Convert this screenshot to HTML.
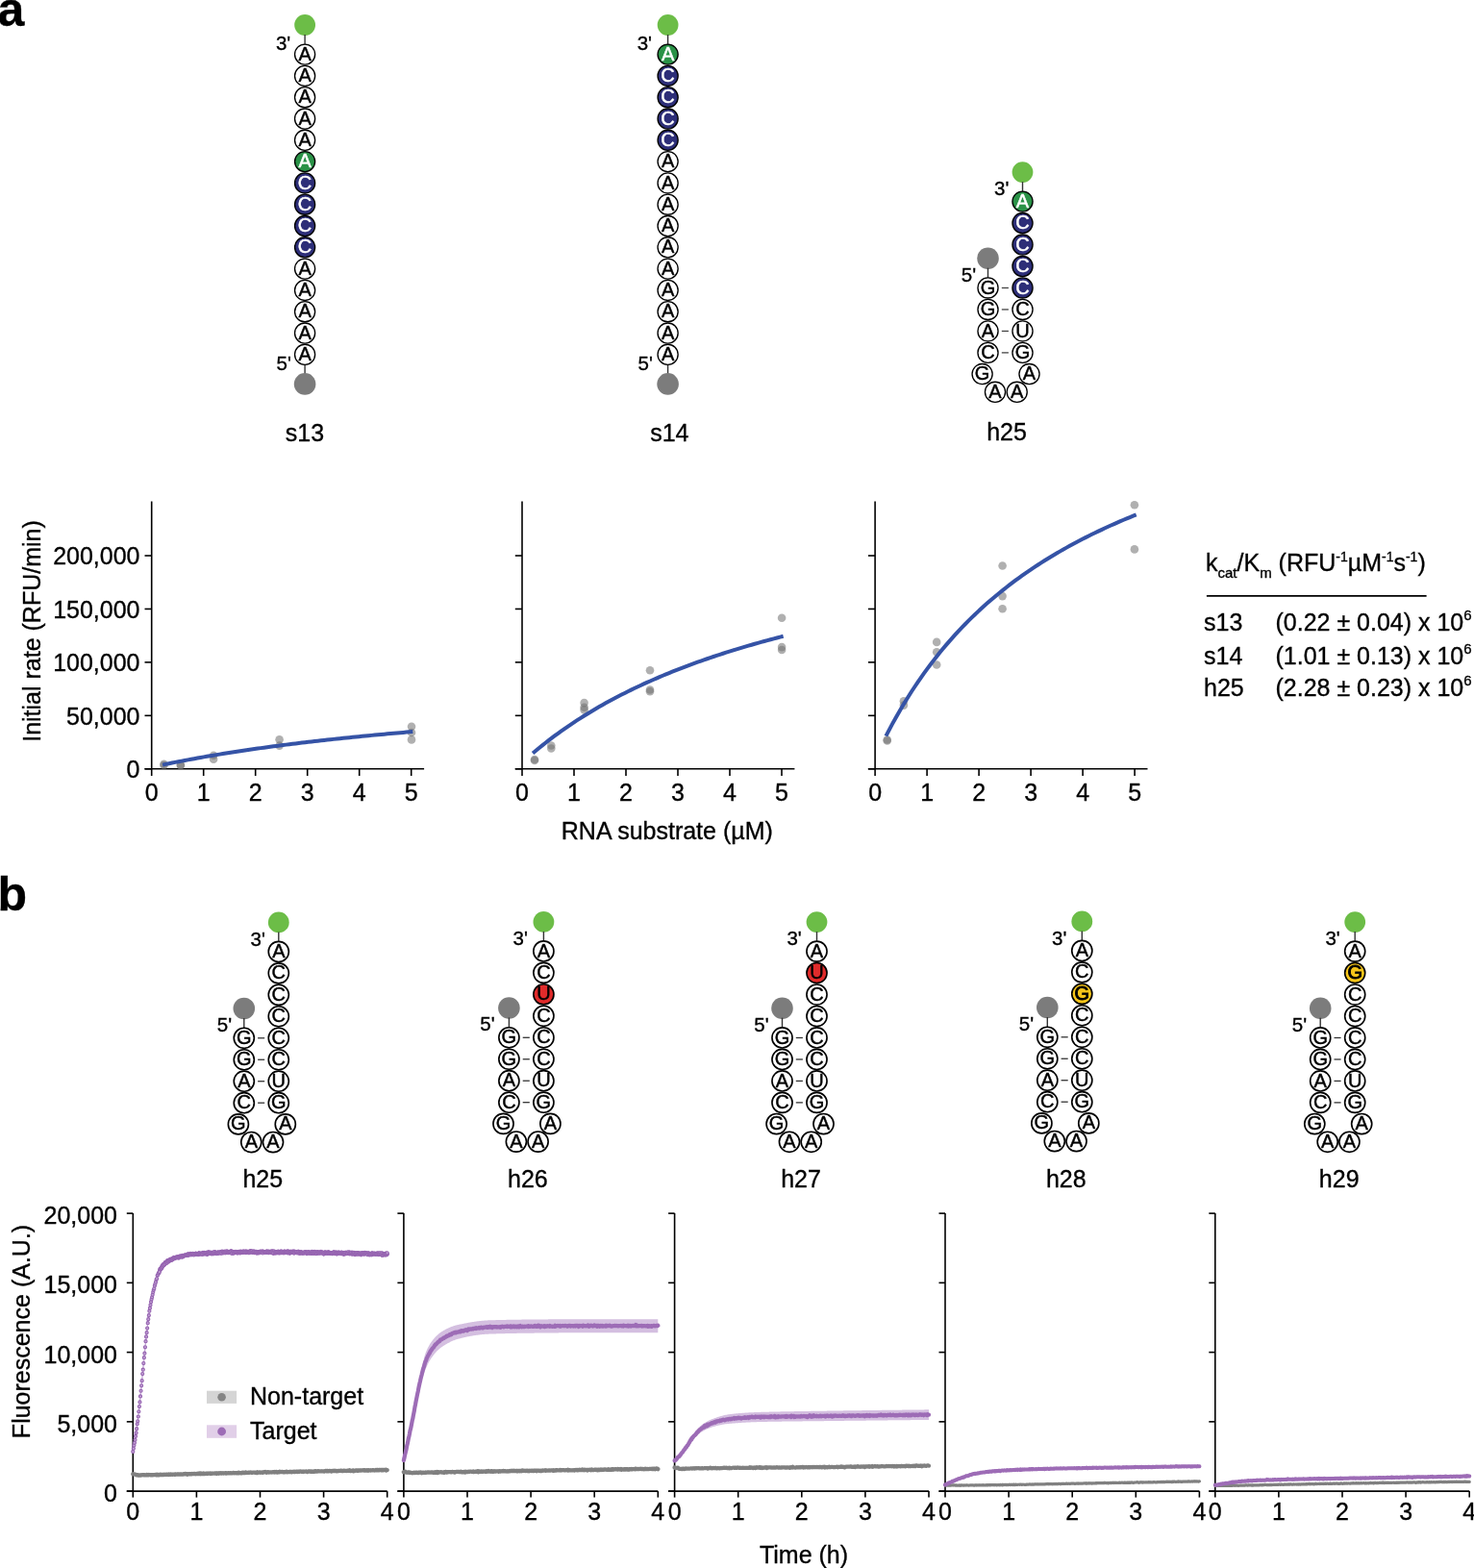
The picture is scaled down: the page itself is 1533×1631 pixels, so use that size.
<!DOCTYPE html>
<html><head><meta charset="utf-8"><title>Figure</title>
<style>
html,body{margin:0;padding:0;background:#fff;}
body{width:1533px;height:1631px;overflow:hidden;}
svg{display:block;}
text{font-family:'Liberation Sans', Arial, Helvetica, sans-serif;fill:#000;stroke:#000;stroke-width:0.35px;}
</style></head><body>
<svg width="1533" height="1631" viewBox="0 0 1533 1631">
<rect width="1533" height="1631" fill="#fff"/>
<circle cx="317.1" cy="26" r="10.9" fill="#6cbd47"/>
<line x1="317.1" y1="36" x2="317.1" y2="46.6" stroke="#333" stroke-width="1.4"/>
<line x1="317.1" y1="378.8" x2="317.1" y2="389.4" stroke="#333" stroke-width="1.4"/>
<circle cx="317.1" cy="399.4" r="11.3" fill="#7c7c7c"/>
<circle cx="317.1" cy="56.6" r="10.55" fill="#fff" stroke="#000" stroke-width="1.35"/>
<text x="317.1" y="62.7" font-size="20.0" text-anchor="middle" style="fill:#000;stroke:#000;stroke-width:0.45px" font-weight="normal">A</text>
<circle cx="317.1" cy="78.9" r="10.55" fill="#fff" stroke="#000" stroke-width="1.35"/>
<text x="317.1" y="85" font-size="20.0" text-anchor="middle" style="fill:#000;stroke:#000;stroke-width:0.45px" font-weight="normal">A</text>
<circle cx="317.1" cy="101.2" r="10.55" fill="#fff" stroke="#000" stroke-width="1.35"/>
<text x="317.1" y="107.3" font-size="20.0" text-anchor="middle" style="fill:#000;stroke:#000;stroke-width:0.45px" font-weight="normal">A</text>
<circle cx="317.1" cy="123.5" r="10.55" fill="#fff" stroke="#000" stroke-width="1.35"/>
<text x="317.1" y="129.6" font-size="20.0" text-anchor="middle" style="fill:#000;stroke:#000;stroke-width:0.45px" font-weight="normal">A</text>
<circle cx="317.1" cy="145.8" r="10.55" fill="#fff" stroke="#000" stroke-width="1.35"/>
<text x="317.1" y="151.9" font-size="20.0" text-anchor="middle" style="fill:#000;stroke:#000;stroke-width:0.45px" font-weight="normal">A</text>
<circle cx="317.1" cy="168.1" r="10.55" fill="#2a9247" stroke="#000" stroke-width="1.35"/>
<text x="317.1" y="174.2" font-size="20.0" text-anchor="middle" style="fill:#fff;stroke:#fff;stroke-width:0.45px" font-weight="normal">A</text>
<circle cx="317.1" cy="190.4" r="10.55" fill="#2d2e78" stroke="#000" stroke-width="1.35"/>
<text x="317.1" y="196.5" font-size="20.0" text-anchor="middle" style="fill:#fff;stroke:#fff;stroke-width:0.45px" font-weight="normal">C</text>
<circle cx="317.1" cy="212.7" r="10.55" fill="#2d2e78" stroke="#000" stroke-width="1.35"/>
<text x="317.1" y="218.8" font-size="20.0" text-anchor="middle" style="fill:#fff;stroke:#fff;stroke-width:0.45px" font-weight="normal">C</text>
<circle cx="317.1" cy="235" r="10.55" fill="#2d2e78" stroke="#000" stroke-width="1.35"/>
<text x="317.1" y="241.1" font-size="20.0" text-anchor="middle" style="fill:#fff;stroke:#fff;stroke-width:0.45px" font-weight="normal">C</text>
<circle cx="317.1" cy="257.3" r="10.55" fill="#2d2e78" stroke="#000" stroke-width="1.35"/>
<text x="317.1" y="263.4" font-size="20.0" text-anchor="middle" style="fill:#fff;stroke:#fff;stroke-width:0.45px" font-weight="normal">C</text>
<circle cx="317.1" cy="279.6" r="10.55" fill="#fff" stroke="#000" stroke-width="1.35"/>
<text x="317.1" y="285.7" font-size="20.0" text-anchor="middle" style="fill:#000;stroke:#000;stroke-width:0.45px" font-weight="normal">A</text>
<circle cx="317.1" cy="301.9" r="10.55" fill="#fff" stroke="#000" stroke-width="1.35"/>
<text x="317.1" y="308" font-size="20.0" text-anchor="middle" style="fill:#000;stroke:#000;stroke-width:0.45px" font-weight="normal">A</text>
<circle cx="317.1" cy="324.2" r="10.55" fill="#fff" stroke="#000" stroke-width="1.35"/>
<text x="317.1" y="330.3" font-size="20.0" text-anchor="middle" style="fill:#000;stroke:#000;stroke-width:0.45px" font-weight="normal">A</text>
<circle cx="317.1" cy="346.5" r="10.55" fill="#fff" stroke="#000" stroke-width="1.35"/>
<text x="317.1" y="352.6" font-size="20.0" text-anchor="middle" style="fill:#000;stroke:#000;stroke-width:0.45px" font-weight="normal">A</text>
<circle cx="317.1" cy="368.8" r="10.55" fill="#fff" stroke="#000" stroke-width="1.35"/>
<text x="317.1" y="374.9" font-size="20.0" text-anchor="middle" style="fill:#000;stroke:#000;stroke-width:0.45px" font-weight="normal">A</text>
<text x="302.3" y="51.9" font-size="20.5" text-anchor="end">3'</text>
<text x="302.9" y="385.3" font-size="20.5" text-anchor="end">5'</text>
<circle cx="694.6" cy="26" r="10.9" fill="#6cbd47"/>
<line x1="694.6" y1="36" x2="694.6" y2="46.6" stroke="#333" stroke-width="1.4"/>
<line x1="694.6" y1="378.8" x2="694.6" y2="389.4" stroke="#333" stroke-width="1.4"/>
<circle cx="694.6" cy="399.4" r="11.3" fill="#7c7c7c"/>
<circle cx="694.6" cy="56.6" r="10.55" fill="#2a9247" stroke="#000" stroke-width="1.35"/>
<text x="694.6" y="62.7" font-size="20.0" text-anchor="middle" style="fill:#fff;stroke:#fff;stroke-width:0.45px" font-weight="normal">A</text>
<circle cx="694.6" cy="78.9" r="10.55" fill="#2d2e78" stroke="#000" stroke-width="1.35"/>
<text x="694.6" y="85" font-size="20.0" text-anchor="middle" style="fill:#fff;stroke:#fff;stroke-width:0.45px" font-weight="normal">C</text>
<circle cx="694.6" cy="101.2" r="10.55" fill="#2d2e78" stroke="#000" stroke-width="1.35"/>
<text x="694.6" y="107.3" font-size="20.0" text-anchor="middle" style="fill:#fff;stroke:#fff;stroke-width:0.45px" font-weight="normal">C</text>
<circle cx="694.6" cy="123.5" r="10.55" fill="#2d2e78" stroke="#000" stroke-width="1.35"/>
<text x="694.6" y="129.6" font-size="20.0" text-anchor="middle" style="fill:#fff;stroke:#fff;stroke-width:0.45px" font-weight="normal">C</text>
<circle cx="694.6" cy="145.8" r="10.55" fill="#2d2e78" stroke="#000" stroke-width="1.35"/>
<text x="694.6" y="151.9" font-size="20.0" text-anchor="middle" style="fill:#fff;stroke:#fff;stroke-width:0.45px" font-weight="normal">C</text>
<circle cx="694.6" cy="168.1" r="10.55" fill="#fff" stroke="#000" stroke-width="1.35"/>
<text x="694.6" y="174.2" font-size="20.0" text-anchor="middle" style="fill:#000;stroke:#000;stroke-width:0.45px" font-weight="normal">A</text>
<circle cx="694.6" cy="190.4" r="10.55" fill="#fff" stroke="#000" stroke-width="1.35"/>
<text x="694.6" y="196.5" font-size="20.0" text-anchor="middle" style="fill:#000;stroke:#000;stroke-width:0.45px" font-weight="normal">A</text>
<circle cx="694.6" cy="212.7" r="10.55" fill="#fff" stroke="#000" stroke-width="1.35"/>
<text x="694.6" y="218.8" font-size="20.0" text-anchor="middle" style="fill:#000;stroke:#000;stroke-width:0.45px" font-weight="normal">A</text>
<circle cx="694.6" cy="235" r="10.55" fill="#fff" stroke="#000" stroke-width="1.35"/>
<text x="694.6" y="241.1" font-size="20.0" text-anchor="middle" style="fill:#000;stroke:#000;stroke-width:0.45px" font-weight="normal">A</text>
<circle cx="694.6" cy="257.3" r="10.55" fill="#fff" stroke="#000" stroke-width="1.35"/>
<text x="694.6" y="263.4" font-size="20.0" text-anchor="middle" style="fill:#000;stroke:#000;stroke-width:0.45px" font-weight="normal">A</text>
<circle cx="694.6" cy="279.6" r="10.55" fill="#fff" stroke="#000" stroke-width="1.35"/>
<text x="694.6" y="285.7" font-size="20.0" text-anchor="middle" style="fill:#000;stroke:#000;stroke-width:0.45px" font-weight="normal">A</text>
<circle cx="694.6" cy="301.9" r="10.55" fill="#fff" stroke="#000" stroke-width="1.35"/>
<text x="694.6" y="308" font-size="20.0" text-anchor="middle" style="fill:#000;stroke:#000;stroke-width:0.45px" font-weight="normal">A</text>
<circle cx="694.6" cy="324.2" r="10.55" fill="#fff" stroke="#000" stroke-width="1.35"/>
<text x="694.6" y="330.3" font-size="20.0" text-anchor="middle" style="fill:#000;stroke:#000;stroke-width:0.45px" font-weight="normal">A</text>
<circle cx="694.6" cy="346.5" r="10.55" fill="#fff" stroke="#000" stroke-width="1.35"/>
<text x="694.6" y="352.6" font-size="20.0" text-anchor="middle" style="fill:#000;stroke:#000;stroke-width:0.45px" font-weight="normal">A</text>
<circle cx="694.6" cy="368.8" r="10.55" fill="#fff" stroke="#000" stroke-width="1.35"/>
<text x="694.6" y="374.9" font-size="20.0" text-anchor="middle" style="fill:#000;stroke:#000;stroke-width:0.45px" font-weight="normal">A</text>
<text x="678" y="52.1" font-size="20.5" text-anchor="end">3'</text>
<text x="678.9" y="385.3" font-size="20.5" text-anchor="end">5'</text>
<circle cx="1063.5" cy="179.1" r="10.9" fill="#6cbd47"/>
<line x1="1063.5" y1="189.1" x2="1063.5" y2="199.6" stroke="#333" stroke-width="1.4"/>
<circle cx="1027.5" cy="268.68" r="11.3" fill="#7c7c7c"/>
<line x1="1027.5" y1="278.68" x2="1027.5" y2="289.48" stroke="#333" stroke-width="1.4"/>
<line x1="1041.8" y1="299.48" x2="1048.9" y2="299.48" stroke="#444" stroke-width="1.3"/>
<line x1="1041.8" y1="321.95" x2="1048.9" y2="321.95" stroke="#444" stroke-width="1.3"/>
<line x1="1041.8" y1="344.42" x2="1048.9" y2="344.42" stroke="#444" stroke-width="1.3"/>
<line x1="1041.8" y1="366.89" x2="1048.9" y2="366.89" stroke="#444" stroke-width="1.3"/>
<circle cx="1063.5" cy="209.6" r="10.55" fill="#2a9247" stroke="#000" stroke-width="1.35"/>
<text x="1063.5" y="215.7" font-size="20.0" text-anchor="middle" style="fill:#fff;stroke:#fff;stroke-width:0.45px" font-weight="normal">A</text>
<circle cx="1063.5" cy="232.07" r="10.55" fill="#2d2e78" stroke="#000" stroke-width="1.35"/>
<text x="1063.5" y="238.17" font-size="20.0" text-anchor="middle" style="fill:#fff;stroke:#fff;stroke-width:0.45px" font-weight="normal">C</text>
<circle cx="1063.5" cy="254.54" r="10.55" fill="#2d2e78" stroke="#000" stroke-width="1.35"/>
<text x="1063.5" y="260.64" font-size="20.0" text-anchor="middle" style="fill:#fff;stroke:#fff;stroke-width:0.45px" font-weight="normal">C</text>
<circle cx="1063.5" cy="277.01" r="10.55" fill="#2d2e78" stroke="#000" stroke-width="1.35"/>
<text x="1063.5" y="283.11" font-size="20.0" text-anchor="middle" style="fill:#fff;stroke:#fff;stroke-width:0.45px" font-weight="normal">C</text>
<circle cx="1063.5" cy="299.48" r="10.55" fill="#2d2e78" stroke="#000" stroke-width="1.35"/>
<text x="1063.5" y="305.58" font-size="20.0" text-anchor="middle" style="fill:#fff;stroke:#fff;stroke-width:0.45px" font-weight="normal">C</text>
<circle cx="1063.5" cy="321.95" r="10.55" fill="#fff" stroke="#000" stroke-width="1.35"/>
<text x="1063.5" y="328.05" font-size="20.0" text-anchor="middle" style="fill:#000;stroke:#000;stroke-width:0.45px" font-weight="normal">C</text>
<circle cx="1063.5" cy="344.42" r="10.55" fill="#fff" stroke="#000" stroke-width="1.35"/>
<text x="1063.5" y="350.52" font-size="20.0" text-anchor="middle" style="fill:#000;stroke:#000;stroke-width:0.45px" font-weight="normal">U</text>
<circle cx="1063.5" cy="366.89" r="10.55" fill="#fff" stroke="#000" stroke-width="1.35"/>
<text x="1063.5" y="372.99" font-size="20.0" text-anchor="middle" style="fill:#000;stroke:#000;stroke-width:0.45px" font-weight="normal">G</text>
<circle cx="1027.5" cy="299.48" r="10.55" fill="#fff" stroke="#000" stroke-width="1.35"/>
<text x="1027.5" y="305.58" font-size="20.0" text-anchor="middle" style="fill:#000;stroke:#000;stroke-width:0.45px" font-weight="normal">G</text>
<circle cx="1027.5" cy="321.95" r="10.55" fill="#fff" stroke="#000" stroke-width="1.35"/>
<text x="1027.5" y="328.05" font-size="20.0" text-anchor="middle" style="fill:#000;stroke:#000;stroke-width:0.45px" font-weight="normal">G</text>
<circle cx="1027.5" cy="344.42" r="10.55" fill="#fff" stroke="#000" stroke-width="1.35"/>
<text x="1027.5" y="350.52" font-size="20.0" text-anchor="middle" style="fill:#000;stroke:#000;stroke-width:0.45px" font-weight="normal">A</text>
<circle cx="1027.5" cy="366.89" r="10.55" fill="#fff" stroke="#000" stroke-width="1.35"/>
<text x="1027.5" y="372.99" font-size="20.0" text-anchor="middle" style="fill:#000;stroke:#000;stroke-width:0.45px" font-weight="normal">C</text>
<circle cx="1021.6" cy="389.09" r="10.55" fill="#fff" stroke="#000" stroke-width="1.35"/>
<text x="1021.6" y="395.19" font-size="20.0" text-anchor="middle" style="fill:#000;stroke:#000;stroke-width:0.45px" font-weight="normal">G</text>
<circle cx="1070.5" cy="389.09" r="10.55" fill="#fff" stroke="#000" stroke-width="1.35"/>
<text x="1070.5" y="395.19" font-size="20.0" text-anchor="middle" style="fill:#000;stroke:#000;stroke-width:0.45px" font-weight="normal">A</text>
<circle cx="1035" cy="407.79" r="10.55" fill="#fff" stroke="#000" stroke-width="1.35"/>
<text x="1035" y="413.89" font-size="20.0" text-anchor="middle" style="fill:#000;stroke:#000;stroke-width:0.45px" font-weight="normal">A</text>
<circle cx="1057.7" cy="407.79" r="10.55" fill="#fff" stroke="#000" stroke-width="1.35"/>
<text x="1057.7" y="413.89" font-size="20.0" text-anchor="middle" style="fill:#000;stroke:#000;stroke-width:0.45px" font-weight="normal">A</text>
<text x="1049.4" y="203.4" font-size="20.5" text-anchor="end">3'</text>
<text x="1015.2" y="292.58" font-size="20.5" text-anchor="end">5'</text>
<text x="317" y="458.5" font-size="25" text-anchor="middle">s13</text>
<text x="696.3" y="458.5" font-size="25" text-anchor="middle">s14</text>
<text x="1047" y="458.3" font-size="25" text-anchor="middle">h25</text>
<path d="M157.7 521.6V799.8" stroke="#000" stroke-width="1.6" fill="none"/>
<path d="M150.5 799.8H441.1" stroke="#000" stroke-width="1.6" fill="none"/>
<path d="M150.5 799.8H157.7" stroke="#000" stroke-width="1.6"/>
<path d="M150.5 744.35H157.7" stroke="#000" stroke-width="1.6"/>
<path d="M150.5 688.9H157.7" stroke="#000" stroke-width="1.6"/>
<path d="M150.5 633.45H157.7" stroke="#000" stroke-width="1.6"/>
<path d="M150.5 578H157.7" stroke="#000" stroke-width="1.6"/>
<path d="M157.7 799.8V807" stroke="#000" stroke-width="1.6"/>
<text x="157.7" y="833.1" font-size="25" text-anchor="middle">0</text>
<path d="M211.7 799.8V807" stroke="#000" stroke-width="1.6"/>
<text x="211.7" y="833.1" font-size="25" text-anchor="middle">1</text>
<path d="M265.7 799.8V807" stroke="#000" stroke-width="1.6"/>
<text x="265.7" y="833.1" font-size="25" text-anchor="middle">2</text>
<path d="M319.7 799.8V807" stroke="#000" stroke-width="1.6"/>
<text x="319.7" y="833.1" font-size="25" text-anchor="middle">3</text>
<path d="M373.7 799.8V807" stroke="#000" stroke-width="1.6"/>
<text x="373.7" y="833.1" font-size="25" text-anchor="middle">4</text>
<path d="M427.7 799.8V807" stroke="#000" stroke-width="1.6"/>
<text x="427.7" y="833.1" font-size="25" text-anchor="middle">5</text>
<text x="145.5" y="809.2" font-size="25" text-anchor="end">0</text>
<text x="145.5" y="753.75" font-size="25" text-anchor="end">50,000</text>
<text x="145.5" y="698.3" font-size="25" text-anchor="end">100,000</text>
<text x="145.5" y="642.85" font-size="25" text-anchor="end">150,000</text>
<text x="145.5" y="587.4" font-size="25" text-anchor="end">200,000</text>
<circle cx="170.5" cy="794.8" r="4.3" fill="#6f6f6f" fill-opacity="0.55"/>
<circle cx="170.5" cy="796" r="4.3" fill="#6f6f6f" fill-opacity="0.55"/>
<circle cx="187.9" cy="796.2" r="4.3" fill="#6f6f6f" fill-opacity="0.55"/>
<circle cx="187.9" cy="795.6" r="4.3" fill="#6f6f6f" fill-opacity="0.55"/>
<circle cx="222.1" cy="785.7" r="4.3" fill="#6f6f6f" fill-opacity="0.55"/>
<circle cx="222.1" cy="789.8" r="4.3" fill="#6f6f6f" fill-opacity="0.55"/>
<circle cx="290.6" cy="769.2" r="4.3" fill="#6f6f6f" fill-opacity="0.55"/>
<circle cx="290.6" cy="775.6" r="4.3" fill="#6f6f6f" fill-opacity="0.55"/>
<circle cx="428" cy="755.7" r="4.3" fill="#6f6f6f" fill-opacity="0.55"/>
<circle cx="428" cy="762" r="4.3" fill="#6f6f6f" fill-opacity="0.55"/>
<circle cx="428" cy="769.4" r="4.3" fill="#6f6f6f" fill-opacity="0.55"/>
<polyline points="169.1,795.59 172.39,794.91 175.69,794.23 178.98,793.56 182.28,792.91 185.57,792.26 188.86,791.62 192.16,790.99 195.45,790.37 198.75,789.76 202.04,789.16 205.33,788.56 208.63,787.97 211.92,787.39 215.21,786.82 218.51,786.26 221.8,785.7 225.1,785.15 228.39,784.61 231.68,784.07 234.98,783.54 238.27,783.02 241.57,782.5 244.86,781.99 248.15,781.49 251.45,781 254.74,780.51 258.04,780.02 261.33,779.54 264.62,779.07 267.92,778.6 271.21,778.14 274.51,777.69 277.8,777.24 281.09,776.79 284.39,776.35 287.68,775.92 290.98,775.49 294.27,775.06 297.56,774.64 300.86,774.23 304.15,773.82 307.44,773.41 310.74,773.01 314.03,772.61 317.33,772.22 320.62,771.83 323.91,771.45 327.21,771.07 330.5,770.69 333.8,770.32 337.09,769.95 340.38,769.59 343.68,769.23 346.97,768.87 350.27,768.52 353.56,768.17 356.85,767.83 360.15,767.48 363.44,767.15 366.74,766.81 370.03,766.48 373.32,766.15 376.62,765.83 379.91,765.51 383.21,765.19 386.5,764.87 389.79,764.56 393.09,764.25 396.38,763.95 399.67,763.64 402.97,763.34 406.26,763.05 409.56,762.75 412.85,762.46 416.14,762.17 419.44,761.89 422.73,761.6 426.03,761.32 429.32,761.04" fill="none" stroke="#3553a6" stroke-width="4.0" stroke-linejoin="round"/>
<path d="M543 521.6V799.8" stroke="#000" stroke-width="1.6" fill="none"/>
<path d="M535.8 799.8H826.4" stroke="#000" stroke-width="1.6" fill="none"/>
<path d="M535.8 799.8H543" stroke="#000" stroke-width="1.6"/>
<path d="M535.8 744.35H543" stroke="#000" stroke-width="1.6"/>
<path d="M535.8 688.9H543" stroke="#000" stroke-width="1.6"/>
<path d="M535.8 633.45H543" stroke="#000" stroke-width="1.6"/>
<path d="M535.8 578H543" stroke="#000" stroke-width="1.6"/>
<path d="M543 799.8V807" stroke="#000" stroke-width="1.6"/>
<text x="543" y="833.1" font-size="25" text-anchor="middle">0</text>
<path d="M597 799.8V807" stroke="#000" stroke-width="1.6"/>
<text x="597" y="833.1" font-size="25" text-anchor="middle">1</text>
<path d="M651 799.8V807" stroke="#000" stroke-width="1.6"/>
<text x="651" y="833.1" font-size="25" text-anchor="middle">2</text>
<path d="M705 799.8V807" stroke="#000" stroke-width="1.6"/>
<text x="705" y="833.1" font-size="25" text-anchor="middle">3</text>
<path d="M759 799.8V807" stroke="#000" stroke-width="1.6"/>
<text x="759" y="833.1" font-size="25" text-anchor="middle">4</text>
<path d="M813 799.8V807" stroke="#000" stroke-width="1.6"/>
<text x="813" y="833.1" font-size="25" text-anchor="middle">5</text>
<circle cx="556" cy="790" r="4.3" fill="#6f6f6f" fill-opacity="0.55"/>
<circle cx="556" cy="791" r="4.3" fill="#6f6f6f" fill-opacity="0.55"/>
<circle cx="573.3" cy="775.5" r="4.3" fill="#6f6f6f" fill-opacity="0.55"/>
<circle cx="573.3" cy="778.5" r="4.3" fill="#6f6f6f" fill-opacity="0.55"/>
<circle cx="607.6" cy="731.1" r="4.3" fill="#6f6f6f" fill-opacity="0.55"/>
<circle cx="607.6" cy="735.7" r="4.3" fill="#6f6f6f" fill-opacity="0.55"/>
<circle cx="607.6" cy="738.4" r="4.3" fill="#6f6f6f" fill-opacity="0.55"/>
<circle cx="676" cy="697.3" r="4.3" fill="#6f6f6f" fill-opacity="0.55"/>
<circle cx="676" cy="717.5" r="4.3" fill="#6f6f6f" fill-opacity="0.55"/>
<circle cx="676" cy="719.3" r="4.3" fill="#6f6f6f" fill-opacity="0.55"/>
<circle cx="813.1" cy="642.7" r="4.3" fill="#6f6f6f" fill-opacity="0.55"/>
<circle cx="813.1" cy="673.1" r="4.3" fill="#6f6f6f" fill-opacity="0.55"/>
<circle cx="813.1" cy="676" r="4.3" fill="#6f6f6f" fill-opacity="0.55"/>
<polyline points="554.1,783.56 557.4,780.78 560.7,778.05 563.99,775.37 567.29,772.75 570.59,770.19 573.89,767.67 577.18,765.2 580.48,762.78 583.78,760.41 587.08,758.08 590.37,755.79 593.67,753.55 596.97,751.34 600.27,749.18 603.57,747.06 606.86,744.98 610.16,742.93 613.46,740.92 616.76,738.94 620.05,737 623.35,735.09 626.65,733.21 629.95,731.37 633.25,729.55 636.54,727.77 639.84,726.01 643.14,724.29 646.44,722.59 649.73,720.92 653.03,719.27 656.33,717.65 659.63,716.06 662.92,714.49 666.22,712.95 669.52,711.43 672.82,709.93 676.12,708.45 679.41,707 682.71,705.57 686.01,704.16 689.31,702.77 692.6,701.4 695.9,700.05 699.2,698.72 702.5,697.41 705.8,696.11 709.09,694.84 712.39,693.58 715.69,692.34 718.99,691.12 722.28,689.91 725.58,688.72 728.88,687.55 732.18,686.39 735.47,685.25 738.77,684.12 742.07,683.01 745.37,681.91 748.67,680.83 751.96,679.76 755.26,678.7 758.56,677.66 761.86,676.63 765.15,675.61 768.45,674.61 771.75,673.61 775.05,672.63 778.35,671.67 781.64,670.71 784.94,669.77 788.24,668.83 791.54,667.91 794.83,667 798.13,666.1 801.43,665.21 804.73,664.33 808.02,663.46 811.32,662.6 814.62,661.75" fill="none" stroke="#3553a6" stroke-width="4.0" stroke-linejoin="round"/>
<path d="M910.1 521.6V799.8" stroke="#000" stroke-width="1.6" fill="none"/>
<path d="M902.9 799.8H1193.5" stroke="#000" stroke-width="1.6" fill="none"/>
<path d="M902.9 799.8H910.1" stroke="#000" stroke-width="1.6"/>
<path d="M902.9 744.35H910.1" stroke="#000" stroke-width="1.6"/>
<path d="M902.9 688.9H910.1" stroke="#000" stroke-width="1.6"/>
<path d="M902.9 633.45H910.1" stroke="#000" stroke-width="1.6"/>
<path d="M902.9 578H910.1" stroke="#000" stroke-width="1.6"/>
<path d="M910.1 799.8V807" stroke="#000" stroke-width="1.6"/>
<text x="910.1" y="833.1" font-size="25" text-anchor="middle">0</text>
<path d="M964.1 799.8V807" stroke="#000" stroke-width="1.6"/>
<text x="964.1" y="833.1" font-size="25" text-anchor="middle">1</text>
<path d="M1018.1 799.8V807" stroke="#000" stroke-width="1.6"/>
<text x="1018.1" y="833.1" font-size="25" text-anchor="middle">2</text>
<path d="M1072.1 799.8V807" stroke="#000" stroke-width="1.6"/>
<text x="1072.1" y="833.1" font-size="25" text-anchor="middle">3</text>
<path d="M1126.1 799.8V807" stroke="#000" stroke-width="1.6"/>
<text x="1126.1" y="833.1" font-size="25" text-anchor="middle">4</text>
<path d="M1180.1 799.8V807" stroke="#000" stroke-width="1.6"/>
<text x="1180.1" y="833.1" font-size="25" text-anchor="middle">5</text>
<circle cx="922.7" cy="769.5" r="4.3" fill="#6f6f6f" fill-opacity="0.55"/>
<circle cx="922.7" cy="770.5" r="4.3" fill="#6f6f6f" fill-opacity="0.55"/>
<circle cx="939.9" cy="729.3" r="4.3" fill="#6f6f6f" fill-opacity="0.55"/>
<circle cx="939.9" cy="733.6" r="4.3" fill="#6f6f6f" fill-opacity="0.55"/>
<circle cx="974.2" cy="667.9" r="4.3" fill="#6f6f6f" fill-opacity="0.55"/>
<circle cx="974.2" cy="678.2" r="4.3" fill="#6f6f6f" fill-opacity="0.55"/>
<circle cx="974.2" cy="691.5" r="4.3" fill="#6f6f6f" fill-opacity="0.55"/>
<circle cx="1042.6" cy="588.5" r="4.3" fill="#6f6f6f" fill-opacity="0.55"/>
<circle cx="1042.6" cy="620.1" r="4.3" fill="#6f6f6f" fill-opacity="0.55"/>
<circle cx="1042.6" cy="633.3" r="4.3" fill="#6f6f6f" fill-opacity="0.55"/>
<circle cx="1179.9" cy="525.2" r="4.3" fill="#6f6f6f" fill-opacity="0.55"/>
<circle cx="1179.9" cy="571.4" r="4.3" fill="#6f6f6f" fill-opacity="0.55"/>
<polyline points="921.4,765.64 924.7,759.3 927.99,753.15 931.29,747.18 934.58,741.39 937.88,735.75 941.17,730.28 944.47,724.96 947.76,719.78 951.06,714.74 954.35,709.83 957.65,705.05 960.94,700.4 964.24,695.86 967.53,691.44 970.83,687.13 974.12,682.92 977.42,678.82 980.71,674.82 984.01,670.91 987.3,667.09 990.6,663.36 993.89,659.71 997.19,656.15 1000.48,652.66 1003.78,649.26 1007.07,645.93 1010.37,642.67 1013.67,639.48 1016.96,636.35 1020.26,633.3 1023.55,630.3 1026.85,627.37 1030.14,624.5 1033.44,621.68 1036.73,618.92 1040.03,616.22 1043.32,613.57 1046.62,610.97 1049.91,608.42 1053.21,605.91 1056.5,603.46 1059.8,601.05 1063.09,598.68 1066.39,596.36 1069.68,594.08 1072.98,591.84 1076.27,589.64 1079.57,587.48 1082.86,585.36 1086.16,583.28 1089.45,581.23 1092.75,579.21 1096.05,577.23 1099.34,575.28 1102.64,573.37 1105.93,571.48 1109.23,569.63 1112.52,567.81 1115.82,566.01 1119.11,564.25 1122.41,562.51 1125.7,560.8 1129,559.12 1132.29,557.46 1135.59,555.83 1138.88,554.22 1142.18,552.64 1145.47,551.08 1148.77,549.54 1152.06,548.03 1155.36,546.53 1158.65,545.07 1161.95,543.62 1165.24,542.19 1168.54,540.78 1171.83,539.39 1175.13,538.03 1178.42,536.68 1181.72,535.35" fill="none" stroke="#3553a6" stroke-width="4.0" stroke-linejoin="round"/>
<text transform="translate(42.1 656.5) rotate(-90)" font-size="25" text-anchor="middle">Initial rate (RFU/min)</text>
<text x="693.8" y="872.6" font-size="25" text-anchor="middle">RNA substrate (µM)</text>
<text x="1254.0" y="593.6" font-size="25">k<tspan font-size="15" dy="7.5">cat</tspan><tspan dy="-7.5">/K</tspan><tspan font-size="15" dy="7.5">m</tspan><tspan dy="-7.5"> (RFU</tspan><tspan font-size="14" dy="-10">-1</tspan><tspan dy="10">µM</tspan><tspan font-size="14" dy="-10">-1</tspan><tspan dy="10">s</tspan><tspan font-size="14" dy="-10">-1</tspan><tspan dy="10">)</tspan></text>
<path d="M1254.9 619.8H1483.6" stroke="#000" stroke-width="1.8"/>
<text x="1252.0" y="656.3" font-size="25">s13</text>
<text x="1326.5" y="656.3" font-size="25">(0.22 ± 0.04) x 10<tspan font-size="15" dy="-11">6</tspan></text>
<text x="1252.0" y="691.0" font-size="25">s14</text>
<text x="1326.5" y="691.0" font-size="25">(1.01 ± 0.13) x 10<tspan font-size="15" dy="-11">6</tspan></text>
<text x="1252.0" y="723.5" font-size="25">h25</text>
<text x="1326.5" y="723.5" font-size="25">(2.28 ± 0.23) x 10<tspan font-size="15" dy="-11">6</tspan></text>
<text x="-2.6" y="26.8" font-size="50" font-weight="bold">a</text>
<text x="-2.6" y="946.6" font-size="50" font-weight="bold">b</text>
<circle cx="289.8" cy="959.4" r="10.9" fill="#6cbd47"/>
<line x1="289.8" y1="969.4" x2="289.8" y2="979.9" stroke="#333" stroke-width="1.4"/>
<circle cx="253.8" cy="1048.98" r="11.3" fill="#7c7c7c"/>
<line x1="253.8" y1="1058.98" x2="253.8" y2="1069.78" stroke="#333" stroke-width="1.4"/>
<line x1="268.1" y1="1079.78" x2="275.2" y2="1079.78" stroke="#333" stroke-width="1.3"/>
<line x1="268.1" y1="1102.25" x2="275.2" y2="1102.25" stroke="#333" stroke-width="1.3"/>
<line x1="268.1" y1="1124.72" x2="275.2" y2="1124.72" stroke="#333" stroke-width="1.3"/>
<line x1="268.1" y1="1147.19" x2="275.2" y2="1147.19" stroke="#333" stroke-width="1.3"/>
<circle cx="289.8" cy="989.9" r="10.55" fill="#fff" stroke="#000" stroke-width="1.65"/>
<text x="289.8" y="996" font-size="20.0" text-anchor="middle" style="fill:#000;stroke:#000;stroke-width:0.45px" font-weight="normal">A</text>
<circle cx="289.8" cy="1012.37" r="10.55" fill="#fff" stroke="#000" stroke-width="1.65"/>
<text x="289.8" y="1018.47" font-size="20.0" text-anchor="middle" style="fill:#000;stroke:#000;stroke-width:0.45px" font-weight="normal">C</text>
<circle cx="289.8" cy="1034.84" r="10.55" fill="#fff" stroke="#000" stroke-width="1.65"/>
<text x="289.8" y="1040.94" font-size="20.0" text-anchor="middle" style="fill:#000;stroke:#000;stroke-width:0.45px" font-weight="normal">C</text>
<circle cx="289.8" cy="1057.31" r="10.55" fill="#fff" stroke="#000" stroke-width="1.65"/>
<text x="289.8" y="1063.41" font-size="20.0" text-anchor="middle" style="fill:#000;stroke:#000;stroke-width:0.45px" font-weight="normal">C</text>
<circle cx="289.8" cy="1079.78" r="10.55" fill="#fff" stroke="#000" stroke-width="1.65"/>
<text x="289.8" y="1085.88" font-size="20.0" text-anchor="middle" style="fill:#000;stroke:#000;stroke-width:0.45px" font-weight="normal">C</text>
<circle cx="289.8" cy="1102.25" r="10.55" fill="#fff" stroke="#000" stroke-width="1.65"/>
<text x="289.8" y="1108.35" font-size="20.0" text-anchor="middle" style="fill:#000;stroke:#000;stroke-width:0.45px" font-weight="normal">C</text>
<circle cx="289.8" cy="1124.72" r="10.55" fill="#fff" stroke="#000" stroke-width="1.65"/>
<text x="289.8" y="1130.82" font-size="20.0" text-anchor="middle" style="fill:#000;stroke:#000;stroke-width:0.45px" font-weight="normal">U</text>
<circle cx="289.8" cy="1147.19" r="10.55" fill="#fff" stroke="#000" stroke-width="1.65"/>
<text x="289.8" y="1153.29" font-size="20.0" text-anchor="middle" style="fill:#000;stroke:#000;stroke-width:0.45px" font-weight="normal">G</text>
<circle cx="253.8" cy="1079.78" r="10.55" fill="#fff" stroke="#000" stroke-width="1.65"/>
<text x="253.8" y="1085.88" font-size="20.0" text-anchor="middle" style="fill:#000;stroke:#000;stroke-width:0.45px" font-weight="normal">G</text>
<circle cx="253.8" cy="1102.25" r="10.55" fill="#fff" stroke="#000" stroke-width="1.65"/>
<text x="253.8" y="1108.35" font-size="20.0" text-anchor="middle" style="fill:#000;stroke:#000;stroke-width:0.45px" font-weight="normal">G</text>
<circle cx="253.8" cy="1124.72" r="10.55" fill="#fff" stroke="#000" stroke-width="1.65"/>
<text x="253.8" y="1130.82" font-size="20.0" text-anchor="middle" style="fill:#000;stroke:#000;stroke-width:0.45px" font-weight="normal">A</text>
<circle cx="253.8" cy="1147.19" r="10.55" fill="#fff" stroke="#000" stroke-width="1.65"/>
<text x="253.8" y="1153.29" font-size="20.0" text-anchor="middle" style="fill:#000;stroke:#000;stroke-width:0.45px" font-weight="normal">C</text>
<circle cx="247.9" cy="1169.39" r="10.55" fill="#fff" stroke="#000" stroke-width="1.65"/>
<text x="247.9" y="1175.49" font-size="20.0" text-anchor="middle" style="fill:#000;stroke:#000;stroke-width:0.45px" font-weight="normal">G</text>
<circle cx="296.8" cy="1169.39" r="10.55" fill="#fff" stroke="#000" stroke-width="1.65"/>
<text x="296.8" y="1175.49" font-size="20.0" text-anchor="middle" style="fill:#000;stroke:#000;stroke-width:0.45px" font-weight="normal">A</text>
<circle cx="261.3" cy="1188.09" r="10.55" fill="#fff" stroke="#000" stroke-width="1.65"/>
<text x="261.3" y="1194.19" font-size="20.0" text-anchor="middle" style="fill:#000;stroke:#000;stroke-width:0.45px" font-weight="normal">A</text>
<circle cx="284" cy="1188.09" r="10.55" fill="#fff" stroke="#000" stroke-width="1.65"/>
<text x="284" y="1194.19" font-size="20.0" text-anchor="middle" style="fill:#000;stroke:#000;stroke-width:0.45px" font-weight="normal">A</text>
<text x="275.9" y="983.7" font-size="20.5" text-anchor="end">3'</text>
<text x="241.2" y="1072.88" font-size="20.5" text-anchor="end">5'</text>
<text x="273.3" y="1234.8" font-size="25" text-anchor="middle">h25</text>
<circle cx="565.4" cy="958.9" r="10.9" fill="#6cbd47"/>
<line x1="565.4" y1="968.9" x2="565.4" y2="979.4" stroke="#333" stroke-width="1.4"/>
<circle cx="529.4" cy="1048.48" r="11.3" fill="#7c7c7c"/>
<line x1="529.4" y1="1058.48" x2="529.4" y2="1069.28" stroke="#333" stroke-width="1.4"/>
<line x1="543.7" y1="1079.28" x2="550.8" y2="1079.28" stroke="#333" stroke-width="1.3"/>
<line x1="543.7" y1="1101.75" x2="550.8" y2="1101.75" stroke="#333" stroke-width="1.3"/>
<line x1="543.7" y1="1124.22" x2="550.8" y2="1124.22" stroke="#333" stroke-width="1.3"/>
<line x1="543.7" y1="1146.69" x2="550.8" y2="1146.69" stroke="#333" stroke-width="1.3"/>
<circle cx="565.4" cy="989.4" r="10.55" fill="#fff" stroke="#000" stroke-width="1.65"/>
<text x="565.4" y="995.5" font-size="20.0" text-anchor="middle" style="fill:#000;stroke:#000;stroke-width:0.45px" font-weight="normal">A</text>
<circle cx="565.4" cy="1011.87" r="10.55" fill="#fff" stroke="#000" stroke-width="1.65"/>
<text x="565.4" y="1017.97" font-size="20.0" text-anchor="middle" style="fill:#000;stroke:#000;stroke-width:0.45px" font-weight="normal">C</text>
<circle cx="565.4" cy="1034.34" r="10.55" fill="#e02b2b" stroke="#000" stroke-width="1.65"/>
<text x="565.4" y="1040.44" font-size="20.0" text-anchor="middle" style="fill:#000;stroke:#000;stroke-width:0.45px" font-weight="normal">U</text>
<circle cx="565.4" cy="1056.81" r="10.55" fill="#fff" stroke="#000" stroke-width="1.65"/>
<text x="565.4" y="1062.91" font-size="20.0" text-anchor="middle" style="fill:#000;stroke:#000;stroke-width:0.45px" font-weight="normal">C</text>
<circle cx="565.4" cy="1079.28" r="10.55" fill="#fff" stroke="#000" stroke-width="1.65"/>
<text x="565.4" y="1085.38" font-size="20.0" text-anchor="middle" style="fill:#000;stroke:#000;stroke-width:0.45px" font-weight="normal">C</text>
<circle cx="565.4" cy="1101.75" r="10.55" fill="#fff" stroke="#000" stroke-width="1.65"/>
<text x="565.4" y="1107.85" font-size="20.0" text-anchor="middle" style="fill:#000;stroke:#000;stroke-width:0.45px" font-weight="normal">C</text>
<circle cx="565.4" cy="1124.22" r="10.55" fill="#fff" stroke="#000" stroke-width="1.65"/>
<text x="565.4" y="1130.32" font-size="20.0" text-anchor="middle" style="fill:#000;stroke:#000;stroke-width:0.45px" font-weight="normal">U</text>
<circle cx="565.4" cy="1146.69" r="10.55" fill="#fff" stroke="#000" stroke-width="1.65"/>
<text x="565.4" y="1152.79" font-size="20.0" text-anchor="middle" style="fill:#000;stroke:#000;stroke-width:0.45px" font-weight="normal">G</text>
<circle cx="529.4" cy="1079.28" r="10.55" fill="#fff" stroke="#000" stroke-width="1.65"/>
<text x="529.4" y="1085.38" font-size="20.0" text-anchor="middle" style="fill:#000;stroke:#000;stroke-width:0.45px" font-weight="normal">G</text>
<circle cx="529.4" cy="1101.75" r="10.55" fill="#fff" stroke="#000" stroke-width="1.65"/>
<text x="529.4" y="1107.85" font-size="20.0" text-anchor="middle" style="fill:#000;stroke:#000;stroke-width:0.45px" font-weight="normal">G</text>
<circle cx="529.4" cy="1124.22" r="10.55" fill="#fff" stroke="#000" stroke-width="1.65"/>
<text x="529.4" y="1130.32" font-size="20.0" text-anchor="middle" style="fill:#000;stroke:#000;stroke-width:0.45px" font-weight="normal">A</text>
<circle cx="529.4" cy="1146.69" r="10.55" fill="#fff" stroke="#000" stroke-width="1.65"/>
<text x="529.4" y="1152.79" font-size="20.0" text-anchor="middle" style="fill:#000;stroke:#000;stroke-width:0.45px" font-weight="normal">C</text>
<circle cx="523.5" cy="1168.89" r="10.55" fill="#fff" stroke="#000" stroke-width="1.65"/>
<text x="523.5" y="1174.99" font-size="20.0" text-anchor="middle" style="fill:#000;stroke:#000;stroke-width:0.45px" font-weight="normal">G</text>
<circle cx="572.4" cy="1168.89" r="10.55" fill="#fff" stroke="#000" stroke-width="1.65"/>
<text x="572.4" y="1174.99" font-size="20.0" text-anchor="middle" style="fill:#000;stroke:#000;stroke-width:0.45px" font-weight="normal">A</text>
<circle cx="536.9" cy="1187.59" r="10.55" fill="#fff" stroke="#000" stroke-width="1.65"/>
<text x="536.9" y="1193.69" font-size="20.0" text-anchor="middle" style="fill:#000;stroke:#000;stroke-width:0.45px" font-weight="normal">A</text>
<circle cx="559.6" cy="1187.59" r="10.55" fill="#fff" stroke="#000" stroke-width="1.65"/>
<text x="559.6" y="1193.69" font-size="20.0" text-anchor="middle" style="fill:#000;stroke:#000;stroke-width:0.45px" font-weight="normal">A</text>
<text x="548.9" y="983.2" font-size="20.5" text-anchor="end">3'</text>
<text x="514.7" y="1072.38" font-size="20.5" text-anchor="end">5'</text>
<text x="548.9" y="1234.8" font-size="25" text-anchor="middle">h26</text>
<circle cx="849.5" cy="959.1" r="10.9" fill="#6cbd47"/>
<line x1="849.5" y1="969.1" x2="849.5" y2="979.6" stroke="#333" stroke-width="1.4"/>
<circle cx="813.5" cy="1048.68" r="11.3" fill="#7c7c7c"/>
<line x1="813.5" y1="1058.68" x2="813.5" y2="1069.48" stroke="#333" stroke-width="1.4"/>
<line x1="827.8" y1="1079.48" x2="834.9" y2="1079.48" stroke="#333" stroke-width="1.3"/>
<line x1="827.8" y1="1101.95" x2="834.9" y2="1101.95" stroke="#333" stroke-width="1.3"/>
<line x1="827.8" y1="1124.42" x2="834.9" y2="1124.42" stroke="#333" stroke-width="1.3"/>
<line x1="827.8" y1="1146.89" x2="834.9" y2="1146.89" stroke="#333" stroke-width="1.3"/>
<circle cx="849.5" cy="989.6" r="10.55" fill="#fff" stroke="#000" stroke-width="1.65"/>
<text x="849.5" y="995.7" font-size="20.0" text-anchor="middle" style="fill:#000;stroke:#000;stroke-width:0.45px" font-weight="normal">A</text>
<circle cx="849.5" cy="1012.07" r="10.55" fill="#e02b2b" stroke="#000" stroke-width="1.65"/>
<text x="849.5" y="1018.17" font-size="20.0" text-anchor="middle" style="fill:#000;stroke:#000;stroke-width:0.45px" font-weight="normal">U</text>
<circle cx="849.5" cy="1034.54" r="10.55" fill="#fff" stroke="#000" stroke-width="1.65"/>
<text x="849.5" y="1040.64" font-size="20.0" text-anchor="middle" style="fill:#000;stroke:#000;stroke-width:0.45px" font-weight="normal">C</text>
<circle cx="849.5" cy="1057.01" r="10.55" fill="#fff" stroke="#000" stroke-width="1.65"/>
<text x="849.5" y="1063.11" font-size="20.0" text-anchor="middle" style="fill:#000;stroke:#000;stroke-width:0.45px" font-weight="normal">C</text>
<circle cx="849.5" cy="1079.48" r="10.55" fill="#fff" stroke="#000" stroke-width="1.65"/>
<text x="849.5" y="1085.58" font-size="20.0" text-anchor="middle" style="fill:#000;stroke:#000;stroke-width:0.45px" font-weight="normal">C</text>
<circle cx="849.5" cy="1101.95" r="10.55" fill="#fff" stroke="#000" stroke-width="1.65"/>
<text x="849.5" y="1108.05" font-size="20.0" text-anchor="middle" style="fill:#000;stroke:#000;stroke-width:0.45px" font-weight="normal">C</text>
<circle cx="849.5" cy="1124.42" r="10.55" fill="#fff" stroke="#000" stroke-width="1.65"/>
<text x="849.5" y="1130.52" font-size="20.0" text-anchor="middle" style="fill:#000;stroke:#000;stroke-width:0.45px" font-weight="normal">U</text>
<circle cx="849.5" cy="1146.89" r="10.55" fill="#fff" stroke="#000" stroke-width="1.65"/>
<text x="849.5" y="1152.99" font-size="20.0" text-anchor="middle" style="fill:#000;stroke:#000;stroke-width:0.45px" font-weight="normal">G</text>
<circle cx="813.5" cy="1079.48" r="10.55" fill="#fff" stroke="#000" stroke-width="1.65"/>
<text x="813.5" y="1085.58" font-size="20.0" text-anchor="middle" style="fill:#000;stroke:#000;stroke-width:0.45px" font-weight="normal">G</text>
<circle cx="813.5" cy="1101.95" r="10.55" fill="#fff" stroke="#000" stroke-width="1.65"/>
<text x="813.5" y="1108.05" font-size="20.0" text-anchor="middle" style="fill:#000;stroke:#000;stroke-width:0.45px" font-weight="normal">G</text>
<circle cx="813.5" cy="1124.42" r="10.55" fill="#fff" stroke="#000" stroke-width="1.65"/>
<text x="813.5" y="1130.52" font-size="20.0" text-anchor="middle" style="fill:#000;stroke:#000;stroke-width:0.45px" font-weight="normal">A</text>
<circle cx="813.5" cy="1146.89" r="10.55" fill="#fff" stroke="#000" stroke-width="1.65"/>
<text x="813.5" y="1152.99" font-size="20.0" text-anchor="middle" style="fill:#000;stroke:#000;stroke-width:0.45px" font-weight="normal">C</text>
<circle cx="807.6" cy="1169.09" r="10.55" fill="#fff" stroke="#000" stroke-width="1.65"/>
<text x="807.6" y="1175.19" font-size="20.0" text-anchor="middle" style="fill:#000;stroke:#000;stroke-width:0.45px" font-weight="normal">G</text>
<circle cx="856.5" cy="1169.09" r="10.55" fill="#fff" stroke="#000" stroke-width="1.65"/>
<text x="856.5" y="1175.19" font-size="20.0" text-anchor="middle" style="fill:#000;stroke:#000;stroke-width:0.45px" font-weight="normal">A</text>
<circle cx="821" cy="1187.79" r="10.55" fill="#fff" stroke="#000" stroke-width="1.65"/>
<text x="821" y="1193.89" font-size="20.0" text-anchor="middle" style="fill:#000;stroke:#000;stroke-width:0.45px" font-weight="normal">A</text>
<circle cx="843.7" cy="1187.79" r="10.55" fill="#fff" stroke="#000" stroke-width="1.65"/>
<text x="843.7" y="1193.89" font-size="20.0" text-anchor="middle" style="fill:#000;stroke:#000;stroke-width:0.45px" font-weight="normal">A</text>
<text x="833.8" y="983.4" font-size="20.5" text-anchor="end">3'</text>
<text x="799.6" y="1072.58" font-size="20.5" text-anchor="end">5'</text>
<text x="833" y="1234.8" font-size="25" text-anchor="middle">h27</text>
<circle cx="1125.3" cy="958.4" r="10.9" fill="#6cbd47"/>
<line x1="1125.3" y1="968.4" x2="1125.3" y2="978.9" stroke="#333" stroke-width="1.4"/>
<circle cx="1089.3" cy="1047.98" r="11.3" fill="#7c7c7c"/>
<line x1="1089.3" y1="1057.98" x2="1089.3" y2="1068.78" stroke="#333" stroke-width="1.4"/>
<line x1="1103.6" y1="1078.78" x2="1110.7" y2="1078.78" stroke="#333" stroke-width="1.3"/>
<line x1="1103.6" y1="1101.25" x2="1110.7" y2="1101.25" stroke="#333" stroke-width="1.3"/>
<line x1="1103.6" y1="1123.72" x2="1110.7" y2="1123.72" stroke="#333" stroke-width="1.3"/>
<line x1="1103.6" y1="1146.19" x2="1110.7" y2="1146.19" stroke="#333" stroke-width="1.3"/>
<circle cx="1125.3" cy="988.9" r="10.55" fill="#fff" stroke="#000" stroke-width="1.65"/>
<text x="1125.3" y="995" font-size="20.0" text-anchor="middle" style="fill:#000;stroke:#000;stroke-width:0.45px" font-weight="normal">A</text>
<circle cx="1125.3" cy="1011.37" r="10.55" fill="#fff" stroke="#000" stroke-width="1.65"/>
<text x="1125.3" y="1017.47" font-size="20.0" text-anchor="middle" style="fill:#000;stroke:#000;stroke-width:0.45px" font-weight="normal">C</text>
<circle cx="1125.3" cy="1033.84" r="10.55" fill="#f6c519" stroke="#000" stroke-width="1.65"/>
<text x="1125.3" y="1039.94" font-size="20.0" text-anchor="middle" style="fill:#000;stroke:#000;stroke-width:0.9px" font-weight="normal">G</text>
<circle cx="1125.3" cy="1056.31" r="10.55" fill="#fff" stroke="#000" stroke-width="1.65"/>
<text x="1125.3" y="1062.41" font-size="20.0" text-anchor="middle" style="fill:#000;stroke:#000;stroke-width:0.45px" font-weight="normal">C</text>
<circle cx="1125.3" cy="1078.78" r="10.55" fill="#fff" stroke="#000" stroke-width="1.65"/>
<text x="1125.3" y="1084.88" font-size="20.0" text-anchor="middle" style="fill:#000;stroke:#000;stroke-width:0.45px" font-weight="normal">C</text>
<circle cx="1125.3" cy="1101.25" r="10.55" fill="#fff" stroke="#000" stroke-width="1.65"/>
<text x="1125.3" y="1107.35" font-size="20.0" text-anchor="middle" style="fill:#000;stroke:#000;stroke-width:0.45px" font-weight="normal">C</text>
<circle cx="1125.3" cy="1123.72" r="10.55" fill="#fff" stroke="#000" stroke-width="1.65"/>
<text x="1125.3" y="1129.82" font-size="20.0" text-anchor="middle" style="fill:#000;stroke:#000;stroke-width:0.45px" font-weight="normal">U</text>
<circle cx="1125.3" cy="1146.19" r="10.55" fill="#fff" stroke="#000" stroke-width="1.65"/>
<text x="1125.3" y="1152.29" font-size="20.0" text-anchor="middle" style="fill:#000;stroke:#000;stroke-width:0.45px" font-weight="normal">G</text>
<circle cx="1089.3" cy="1078.78" r="10.55" fill="#fff" stroke="#000" stroke-width="1.65"/>
<text x="1089.3" y="1084.88" font-size="20.0" text-anchor="middle" style="fill:#000;stroke:#000;stroke-width:0.45px" font-weight="normal">G</text>
<circle cx="1089.3" cy="1101.25" r="10.55" fill="#fff" stroke="#000" stroke-width="1.65"/>
<text x="1089.3" y="1107.35" font-size="20.0" text-anchor="middle" style="fill:#000;stroke:#000;stroke-width:0.45px" font-weight="normal">G</text>
<circle cx="1089.3" cy="1123.72" r="10.55" fill="#fff" stroke="#000" stroke-width="1.65"/>
<text x="1089.3" y="1129.82" font-size="20.0" text-anchor="middle" style="fill:#000;stroke:#000;stroke-width:0.45px" font-weight="normal">A</text>
<circle cx="1089.3" cy="1146.19" r="10.55" fill="#fff" stroke="#000" stroke-width="1.65"/>
<text x="1089.3" y="1152.29" font-size="20.0" text-anchor="middle" style="fill:#000;stroke:#000;stroke-width:0.45px" font-weight="normal">C</text>
<circle cx="1083.4" cy="1168.39" r="10.55" fill="#fff" stroke="#000" stroke-width="1.65"/>
<text x="1083.4" y="1174.49" font-size="20.0" text-anchor="middle" style="fill:#000;stroke:#000;stroke-width:0.45px" font-weight="normal">G</text>
<circle cx="1132.3" cy="1168.39" r="10.55" fill="#fff" stroke="#000" stroke-width="1.65"/>
<text x="1132.3" y="1174.49" font-size="20.0" text-anchor="middle" style="fill:#000;stroke:#000;stroke-width:0.45px" font-weight="normal">A</text>
<circle cx="1096.8" cy="1187.09" r="10.55" fill="#fff" stroke="#000" stroke-width="1.65"/>
<text x="1096.8" y="1193.19" font-size="20.0" text-anchor="middle" style="fill:#000;stroke:#000;stroke-width:0.45px" font-weight="normal">A</text>
<circle cx="1119.5" cy="1187.09" r="10.55" fill="#fff" stroke="#000" stroke-width="1.65"/>
<text x="1119.5" y="1193.19" font-size="20.0" text-anchor="middle" style="fill:#000;stroke:#000;stroke-width:0.45px" font-weight="normal">A</text>
<text x="1109.4" y="982.7" font-size="20.5" text-anchor="end">3'</text>
<text x="1075.1" y="1071.88" font-size="20.5" text-anchor="end">5'</text>
<text x="1108.8" y="1234.8" font-size="25" text-anchor="middle">h28</text>
<circle cx="1409.2" cy="959.1" r="10.9" fill="#6cbd47"/>
<line x1="1409.2" y1="969.1" x2="1409.2" y2="979.6" stroke="#333" stroke-width="1.4"/>
<circle cx="1373.2" cy="1048.68" r="11.3" fill="#7c7c7c"/>
<line x1="1373.2" y1="1058.68" x2="1373.2" y2="1069.48" stroke="#333" stroke-width="1.4"/>
<line x1="1387.5" y1="1079.48" x2="1394.6" y2="1079.48" stroke="#333" stroke-width="1.3"/>
<line x1="1387.5" y1="1101.95" x2="1394.6" y2="1101.95" stroke="#333" stroke-width="1.3"/>
<line x1="1387.5" y1="1124.42" x2="1394.6" y2="1124.42" stroke="#333" stroke-width="1.3"/>
<line x1="1387.5" y1="1146.89" x2="1394.6" y2="1146.89" stroke="#333" stroke-width="1.3"/>
<circle cx="1409.2" cy="989.6" r="10.55" fill="#fff" stroke="#000" stroke-width="1.65"/>
<text x="1409.2" y="995.7" font-size="20.0" text-anchor="middle" style="fill:#000;stroke:#000;stroke-width:0.45px" font-weight="normal">A</text>
<circle cx="1409.2" cy="1012.07" r="10.55" fill="#f6c519" stroke="#000" stroke-width="1.65"/>
<text x="1409.2" y="1018.17" font-size="20.0" text-anchor="middle" style="fill:#000;stroke:#000;stroke-width:0.9px" font-weight="normal">G</text>
<circle cx="1409.2" cy="1034.54" r="10.55" fill="#fff" stroke="#000" stroke-width="1.65"/>
<text x="1409.2" y="1040.64" font-size="20.0" text-anchor="middle" style="fill:#000;stroke:#000;stroke-width:0.45px" font-weight="normal">C</text>
<circle cx="1409.2" cy="1057.01" r="10.55" fill="#fff" stroke="#000" stroke-width="1.65"/>
<text x="1409.2" y="1063.11" font-size="20.0" text-anchor="middle" style="fill:#000;stroke:#000;stroke-width:0.45px" font-weight="normal">C</text>
<circle cx="1409.2" cy="1079.48" r="10.55" fill="#fff" stroke="#000" stroke-width="1.65"/>
<text x="1409.2" y="1085.58" font-size="20.0" text-anchor="middle" style="fill:#000;stroke:#000;stroke-width:0.45px" font-weight="normal">C</text>
<circle cx="1409.2" cy="1101.95" r="10.55" fill="#fff" stroke="#000" stroke-width="1.65"/>
<text x="1409.2" y="1108.05" font-size="20.0" text-anchor="middle" style="fill:#000;stroke:#000;stroke-width:0.45px" font-weight="normal">C</text>
<circle cx="1409.2" cy="1124.42" r="10.55" fill="#fff" stroke="#000" stroke-width="1.65"/>
<text x="1409.2" y="1130.52" font-size="20.0" text-anchor="middle" style="fill:#000;stroke:#000;stroke-width:0.45px" font-weight="normal">U</text>
<circle cx="1409.2" cy="1146.89" r="10.55" fill="#fff" stroke="#000" stroke-width="1.65"/>
<text x="1409.2" y="1152.99" font-size="20.0" text-anchor="middle" style="fill:#000;stroke:#000;stroke-width:0.45px" font-weight="normal">G</text>
<circle cx="1373.2" cy="1079.48" r="10.55" fill="#fff" stroke="#000" stroke-width="1.65"/>
<text x="1373.2" y="1085.58" font-size="20.0" text-anchor="middle" style="fill:#000;stroke:#000;stroke-width:0.45px" font-weight="normal">G</text>
<circle cx="1373.2" cy="1101.95" r="10.55" fill="#fff" stroke="#000" stroke-width="1.65"/>
<text x="1373.2" y="1108.05" font-size="20.0" text-anchor="middle" style="fill:#000;stroke:#000;stroke-width:0.45px" font-weight="normal">G</text>
<circle cx="1373.2" cy="1124.42" r="10.55" fill="#fff" stroke="#000" stroke-width="1.65"/>
<text x="1373.2" y="1130.52" font-size="20.0" text-anchor="middle" style="fill:#000;stroke:#000;stroke-width:0.45px" font-weight="normal">A</text>
<circle cx="1373.2" cy="1146.89" r="10.55" fill="#fff" stroke="#000" stroke-width="1.65"/>
<text x="1373.2" y="1152.99" font-size="20.0" text-anchor="middle" style="fill:#000;stroke:#000;stroke-width:0.45px" font-weight="normal">C</text>
<circle cx="1367.3" cy="1169.09" r="10.55" fill="#fff" stroke="#000" stroke-width="1.65"/>
<text x="1367.3" y="1175.19" font-size="20.0" text-anchor="middle" style="fill:#000;stroke:#000;stroke-width:0.45px" font-weight="normal">G</text>
<circle cx="1416.2" cy="1169.09" r="10.55" fill="#fff" stroke="#000" stroke-width="1.65"/>
<text x="1416.2" y="1175.19" font-size="20.0" text-anchor="middle" style="fill:#000;stroke:#000;stroke-width:0.45px" font-weight="normal">A</text>
<circle cx="1380.7" cy="1187.79" r="10.55" fill="#fff" stroke="#000" stroke-width="1.65"/>
<text x="1380.7" y="1193.89" font-size="20.0" text-anchor="middle" style="fill:#000;stroke:#000;stroke-width:0.45px" font-weight="normal">A</text>
<circle cx="1403.4" cy="1187.79" r="10.55" fill="#fff" stroke="#000" stroke-width="1.65"/>
<text x="1403.4" y="1193.89" font-size="20.0" text-anchor="middle" style="fill:#000;stroke:#000;stroke-width:0.45px" font-weight="normal">A</text>
<text x="1393.8" y="983.4" font-size="20.5" text-anchor="end">3'</text>
<text x="1359.1" y="1072.58" font-size="20.5" text-anchor="end">5'</text>
<text x="1392.7" y="1234.8" font-size="25" text-anchor="middle">h29</text>
<path d="M138.3 1262V1551.1" stroke="#000" stroke-width="1.6" fill="none"/>
<path d="M131.8 1551.1H402.7" stroke="#000" stroke-width="1.6" fill="none"/>
<path d="M131.8 1551.1H138.3" stroke="#000" stroke-width="1.6"/>
<text x="122" y="1562.1" font-size="25" text-anchor="end">0</text>
<path d="M131.8 1478.85H138.3" stroke="#000" stroke-width="1.6"/>
<text x="122" y="1489.85" font-size="25" text-anchor="end">5,000</text>
<path d="M131.8 1406.6H138.3" stroke="#000" stroke-width="1.6"/>
<text x="122" y="1417.6" font-size="25" text-anchor="end">10,000</text>
<path d="M131.8 1334.35H138.3" stroke="#000" stroke-width="1.6"/>
<text x="122" y="1345.35" font-size="25" text-anchor="end">15,000</text>
<path d="M131.8 1262.1H138.3" stroke="#000" stroke-width="1.6"/>
<text x="122" y="1273.1" font-size="25" text-anchor="end">20,000</text>
<path d="M138.3 1551.1V1557.6" stroke="#000" stroke-width="1.6"/>
<text x="138.3" y="1580.9" font-size="25" text-anchor="middle">0</text>
<path d="M204.4 1551.1V1557.6" stroke="#000" stroke-width="1.6"/>
<text x="204.4" y="1580.9" font-size="25" text-anchor="middle">1</text>
<path d="M270.5 1551.1V1557.6" stroke="#000" stroke-width="1.6"/>
<text x="270.5" y="1580.9" font-size="25" text-anchor="middle">2</text>
<path d="M336.6 1551.1V1557.6" stroke="#000" stroke-width="1.6"/>
<text x="336.6" y="1580.9" font-size="25" text-anchor="middle">3</text>
<path d="M402.7 1551.1V1557.6" stroke="#000" stroke-width="1.6"/>
<text x="402.7" y="1580.9" font-size="25" text-anchor="middle">4</text>
<polyline points="138.3,1533.18 138.85,1533.39 139.4,1533.43 139.95,1533.46 140.5,1533.69 141.05,1533.73 141.61,1534.07 142.16,1534.44 142.71,1534.18 143.26,1534.24 143.81,1534.53 144.36,1534.54 144.91,1534.5 145.46,1534.3 146.01,1534.47 146.56,1534.61 147.11,1534.2 147.66,1534.37 148.22,1534.07 148.77,1534.18 149.32,1534.06 149.87,1534.37 150.42,1534.15 150.97,1534.44 151.52,1534.41 152.07,1534.32 152.62,1533.84 153.17,1534.22 153.72,1534.3 154.27,1534.32 154.83,1533.98 155.38,1534.17 155.93,1534.05 156.48,1534.07 157.03,1534.43 157.58,1534.05 158.13,1534.19 158.68,1534.36 159.23,1534.05 159.78,1534.13 160.33,1534.16 160.88,1534.14 161.44,1533.87 161.99,1534.12 162.54,1534.36 163.09,1533.77 163.64,1534.24 164.19,1534.07 164.74,1533.91 165.29,1534.42 165.84,1534.16 166.39,1533.76 166.94,1534 167.49,1534.08 168.05,1533.92 168.6,1534.08 169.15,1533.91 169.7,1534.05 170.25,1534.19 170.8,1533.75 171.35,1533.91 171.9,1533.77 172.45,1533.87 173,1533.59 173.55,1533.7 174.1,1533.76 174.66,1533.97 175.21,1534 175.76,1533.5 176.31,1533.59 176.86,1533.86 177.41,1533.32 177.96,1533.61 178.51,1533.67 179.06,1533.93 179.61,1533.8 180.16,1533.58 180.71,1533.56 181.27,1533.57 181.82,1533.91 182.37,1533.5 182.92,1533.51 183.47,1533.63 184.02,1533.52 184.57,1533.49 185.12,1533.3 185.67,1533.5 186.22,1533.4 186.77,1533.71 187.32,1533.59 187.88,1533.44 188.43,1533.57 188.98,1533.35 189.53,1533.62 190.08,1533.39 190.63,1533.49 191.18,1533.1 191.73,1533.42 192.28,1533 192.83,1532.91 193.38,1533.25 193.93,1533.11 194.49,1533.31 195.04,1533.71 195.59,1533.08 196.14,1533.11 196.69,1533.26 197.24,1533.31 197.79,1533.16 198.34,1533.14 198.89,1533.31 199.44,1533.26 199.99,1532.94 200.54,1533.11 201.09,1533.12 201.65,1532.89 202.2,1533.14 202.75,1532.9 203.3,1533.26 203.85,1533.09 204.4,1533.06 204.95,1532.91 205.5,1532.99 206.05,1532.6 206.6,1532.76 207.15,1533.05 207.71,1532.53 208.26,1533.12 208.81,1532.59 209.36,1533.07 209.91,1532.74 210.46,1533.05 211.01,1532.91 211.56,1532.56 212.11,1533.11 212.66,1533.13 213.21,1532.82 213.76,1532.77 214.31,1532.78 214.87,1532.6 215.42,1533 215.97,1532.66 216.52,1532.75 217.07,1532.59 217.62,1532.61 218.17,1532.46 218.72,1532.96 219.27,1532.66 219.82,1532.88 220.37,1532.67 220.93,1532.52 221.48,1532.58 222.03,1532.52 222.58,1532.62 223.13,1532.53 223.68,1532.54 224.23,1532.31 224.78,1532.41 225.33,1532.89 225.88,1532.41 226.43,1532.32 226.98,1532.59 227.54,1532.79 228.09,1532.21 228.64,1532.44 229.19,1532.35 229.74,1532.11 230.29,1532.6 230.84,1532.43 231.39,1532.44 231.94,1532.26 232.49,1532.49 233.04,1532.28 233.59,1532.35 234.14,1532.14 234.7,1532.11 235.25,1532.61 235.8,1532.23 236.35,1532.38 236.9,1532.3 237.45,1532.2 238,1532.18 238.55,1532.39 239.1,1532.2 239.65,1532.21 240.2,1532.24 240.75,1532.46 241.31,1532.35 241.86,1532.27 242.41,1532.07 242.96,1531.9 243.51,1532.35 244.06,1532.34 244.61,1532.11 245.16,1532.23 245.71,1532.27 246.26,1532.27 246.81,1532.27 247.37,1531.99 247.92,1532.37 248.47,1531.81 249.02,1532.22 249.57,1532.13 250.12,1532.19 250.67,1532.38 251.22,1532.29 251.77,1531.76 252.32,1531.64 252.87,1532.12 253.42,1531.75 253.97,1531.94 254.53,1532.09 255.08,1531.59 255.63,1531.48 256.18,1531.94 256.73,1531.89 257.28,1531.82 257.83,1531.86 258.38,1531.67 258.93,1531.53 259.48,1531.79 260.03,1531.62 260.58,1531.47 261.14,1531.89 261.69,1531.76 262.24,1531.85 262.79,1531.56 263.34,1531.61 263.89,1531.53 264.44,1531.54 264.99,1531.75 265.54,1531.54 266.09,1531.76 266.64,1531.74 267.19,1532.07 267.75,1531.37 268.3,1531.82 268.85,1531.61 269.4,1531.61 269.95,1531.31 270.5,1531.5 271.05,1531.73 271.6,1531.55 272.15,1531.57 272.7,1531.49 273.25,1531.77 273.8,1531.52 274.36,1531.07 274.91,1531.36 275.46,1531.1 276.01,1530.83 276.56,1531.36 277.11,1531.72 277.66,1531.45 278.21,1531.2 278.76,1531.23 279.31,1531.64 279.86,1531.43 280.41,1531.4 280.97,1531.37 281.52,1531.37 282.07,1531.52 282.62,1531.46 283.17,1531.38 283.72,1531.11 284.27,1531.41 284.82,1531.16 285.37,1531.51 285.92,1531.02 286.47,1531.24 287.02,1531.25 287.58,1530.98 288.13,1531.58 288.68,1531.52 289.23,1531.12 289.78,1531.36 290.33,1531.27 290.88,1530.66 291.43,1531.22 291.98,1531.14 292.53,1531.16 293.08,1530.92 293.63,1531.07 294.19,1531.08 294.74,1531.34 295.29,1531.16 295.84,1531.08 296.39,1531.38 296.94,1530.95 297.49,1530.97 298.04,1530.67 298.59,1531.34 299.14,1531.21 299.69,1531.19 300.25,1531.13 300.8,1531.01 301.35,1531.02 301.9,1530.91 302.45,1530.91 303,1530.95 303.55,1531.23 304.1,1531.03 304.65,1530.9 305.2,1530.78 305.75,1530.76 306.3,1531.2 306.86,1530.97 307.41,1530.87 307.96,1530.77 308.51,1530.61 309.06,1530.81 309.61,1530.99 310.16,1530.72 310.71,1530.74 311.26,1530.73 311.81,1530.79 312.36,1530.44 312.91,1530.7 313.47,1530.57 314.02,1530.9 314.57,1530.56 315.12,1530.82 315.67,1531 316.22,1530.62 316.77,1530.55 317.32,1530.7 317.87,1530.65 318.42,1530.44 318.97,1530.72 319.52,1531.02 320.07,1530.56 320.63,1530.56 321.18,1530.38 321.73,1530.64 322.28,1530.32 322.83,1530.33 323.38,1530.8 323.93,1530.35 324.48,1530.74 325.03,1530.82 325.58,1530.55 326.13,1530.6 326.69,1530.87 327.24,1530.43 327.79,1530.34 328.34,1530.18 328.89,1530.45 329.44,1530.72 329.99,1530.61 330.54,1530.22 331.09,1530.23 331.64,1530.29 332.19,1530.43 332.74,1530.32 333.3,1530.4 333.85,1530.4 334.4,1530.27 334.95,1530.32 335.5,1530.35 336.05,1530.29 336.6,1530.39 337.15,1530.66 337.7,1530.39 338.25,1530.27 338.8,1529.91 339.35,1530.32 339.9,1529.84 340.46,1529.94 341.01,1530.38 341.56,1530.34 342.11,1530.16 342.66,1529.83 343.21,1530.09 343.76,1530.02 344.31,1530.27 344.86,1530.59 345.41,1530.17 345.96,1529.96 346.51,1529.87 347.07,1530.08 347.62,1530.05 348.17,1529.84 348.72,1530.08 349.27,1529.82 349.82,1530.26 350.37,1530.24 350.92,1530.24 351.47,1529.91 352.02,1530.1 352.57,1529.96 353.12,1529.9 353.68,1529.9 354.23,1529.7 354.78,1529.66 355.33,1530.1 355.88,1529.89 356.43,1529.96 356.98,1530.11 357.53,1529.55 358.08,1529.73 358.63,1529.91 359.18,1529.94 359.74,1529.78 360.29,1530.05 360.84,1529.88 361.39,1529.58 361.94,1529.63 362.49,1529.96 363.04,1529.88 363.59,1529.4 364.14,1530.04 364.69,1529.88 365.24,1530.02 365.79,1529.66 366.34,1529.67 366.9,1529.49 367.45,1530.22 368,1529.66 368.55,1530.01 369.1,1529.55 369.65,1529.7 370.2,1529.32 370.75,1529.57 371.3,1529.84 371.85,1529.38 372.4,1529.83 372.95,1529.68 373.51,1529.39 374.06,1529.49 374.61,1529.49 375.16,1529.56 375.71,1529.45 376.26,1529.38 376.81,1529.48 377.36,1529.32 377.91,1529.26 378.46,1529.5 379.01,1529.67 379.56,1529.18 380.12,1529.48 380.67,1529.34 381.22,1529.26 381.77,1529.62 382.32,1529.33 382.87,1529.72 383.42,1529.26 383.97,1529.48 384.52,1529.35 385.07,1529.23 385.62,1529.49 386.17,1529.33 386.73,1529.47 387.28,1529.33 387.83,1529.12 388.38,1529.3 388.93,1529.32 389.48,1529.5 390.03,1529.11 390.58,1529.28 391.13,1528.93 391.68,1529.39 392.23,1529.04 392.78,1528.88 393.34,1529.22 393.89,1529.44 394.44,1528.91 394.99,1528.99 395.54,1529.04 396.09,1528.96 396.64,1529.25 397.19,1529 397.74,1529.01 398.29,1529.26 398.84,1528.98 399.39,1529.21 399.95,1528.92 400.5,1528.86 401.05,1528.73 401.6,1529.46 402.15,1529.01 402.7,1529.11" fill="none" stroke="#808080" stroke-width="4.3" stroke-linejoin="round" stroke-linecap="round"/>
<polyline points="138.3,1509.19 138.85,1506.6 139.4,1503.75 139.95,1500.66 140.5,1497.36 141.05,1493.87 141.61,1490.2 142.16,1486.39 142.71,1482.32 143.26,1477.88 143.81,1473.14 144.36,1468.19 144.91,1463.09 145.46,1457.92 146.01,1452.65 146.56,1447.12 147.11,1441.41 147.66,1435.61 148.22,1429.79 148.77,1424.06 149.32,1418.44 149.87,1412.75 150.42,1407.02 150.97,1401.36 151.52,1395.86 152.07,1390.61 152.62,1385.71 153.17,1380.99 153.72,1376.39 154.27,1371.98 154.83,1367.83 155.38,1363.99 155.93,1360.53 156.48,1357.39 157.03,1354.49 157.58,1351.77 158.13,1349.21 158.68,1346.76 159.23,1344.4 159.78,1342.06 160.33,1339.7 160.88,1337.36 161.44,1335.08 161.99,1332.87 162.54,1330.79 163.09,1328.87 163.64,1327.14 164.19,1325.64 164.74,1324.38 165.29,1323.23 165.84,1322.14 166.39,1321.11 166.94,1320.13 167.49,1319.22 168.05,1318.36 168.6,1317.57 169.15,1316.84 169.7,1316.17 170.25,1315.57 170.8,1315.03 171.35,1314.55 171.9,1314.12 172.45,1313.7 173,1313.3 173.55,1312.91 174.1,1312.53 174.66,1312.17 175.21,1311.82 175.76,1311.49 176.31,1311.16 176.86,1310.86 177.41,1310.56 177.96,1310.28 178.51,1310 179.06,1309.74 179.61,1309.5 180.16,1309.26 180.71,1309.04 181.27,1308.82 181.82,1308.62 182.37,1308.43 182.92,1308.24 183.47,1308.07 184.02,1307.91 184.57,1307.76 185.12,1307.61 185.67,1307.47 186.22,1307.34 186.77,1307.21 187.32,1307.08 187.88,1306.95 188.43,1306.83 188.98,1306.7 189.53,1306.58 190.08,1306.47 190.63,1306.35 191.18,1306.24 191.73,1306.14 192.28,1306.03 192.83,1305.93 193.38,1305.83 193.93,1305.73 194.49,1305.63 195.04,1305.54 195.59,1305.45 196.14,1305.37 196.69,1305.28 197.24,1305.2 197.79,1305.12 198.34,1305.05 198.89,1304.97 199.44,1304.9 199.99,1304.84 200.54,1304.77 201.09,1304.71 201.65,1304.65 202.2,1304.59 202.75,1304.54 203.3,1304.49 203.85,1304.44 204.4,1304.39 204.95,1304.35 205.5,1304.31 206.05,1304.27 206.6,1304.23 207.15,1304.2 207.71,1304.16 208.26,1304.12 208.81,1304.08 209.36,1304.05 209.91,1304.01 210.46,1303.98 211.01,1303.94 211.56,1303.9 212.11,1303.87 212.66,1303.83 213.21,1303.8 213.76,1303.77 214.31,1303.73 214.87,1303.7 215.42,1303.66 215.97,1303.63 216.52,1303.6 217.07,1303.57 217.62,1303.53 218.17,1303.5 218.72,1303.47 219.27,1303.44 219.82,1303.41 220.37,1303.38 220.93,1303.35 221.48,1303.32 222.03,1303.29 222.58,1303.26 223.13,1303.23 223.68,1303.2 224.23,1303.17 224.78,1303.15 225.33,1303.12 225.88,1303.09 226.43,1303.06 226.98,1303.04 227.54,1303.01 228.09,1302.99 228.64,1302.96 229.19,1302.94 229.74,1302.91 230.29,1302.89 230.84,1302.86 231.39,1302.84 231.94,1302.82 232.49,1302.8 233.04,1302.77 233.59,1302.75 234.14,1302.73 234.7,1302.71 235.25,1302.69 235.8,1302.67 236.35,1302.65 236.9,1302.63 237.45,1302.61 238,1302.6 238.55,1302.58 239.1,1302.56 239.65,1302.54 240.2,1302.53 240.75,1302.51 241.31,1302.5 241.86,1302.48 242.41,1302.47 242.96,1302.45 243.51,1302.44 244.06,1302.43 244.61,1302.42 245.16,1302.4 245.71,1302.39 246.26,1302.38 246.81,1302.37 247.37,1302.36 247.92,1302.35 248.47,1302.34 249.02,1302.33 249.57,1302.33 250.12,1302.32 250.67,1302.31 251.22,1302.3 251.77,1302.3 252.32,1302.29 252.87,1302.29 253.42,1302.28 253.97,1302.28 254.53,1302.28 255.08,1302.28 255.63,1302.27 256.18,1302.27 256.73,1302.27 257.28,1302.27 257.83,1302.27 258.38,1302.27 258.93,1302.27 259.48,1302.27 260.03,1302.27 260.58,1302.27 261.14,1302.27 261.69,1302.28 262.24,1302.28 262.79,1302.28 263.34,1302.28 263.89,1302.28 264.44,1302.28 264.99,1302.28 265.54,1302.29 266.09,1302.29 266.64,1302.29 267.19,1302.29 267.75,1302.29 268.3,1302.3 268.85,1302.3 269.4,1302.3 269.95,1302.31 270.5,1302.31 271.05,1302.31 271.6,1302.31 272.15,1302.32 272.7,1302.32 273.25,1302.32 273.8,1302.33 274.36,1302.33 274.91,1302.34 275.46,1302.34 276.01,1302.34 276.56,1302.35 277.11,1302.35 277.66,1302.36 278.21,1302.36 278.76,1302.36 279.31,1302.37 279.86,1302.37 280.41,1302.38 280.97,1302.38 281.52,1302.39 282.07,1302.39 282.62,1302.4 283.17,1302.4 283.72,1302.41 284.27,1302.41 284.82,1302.42 285.37,1302.43 285.92,1302.43 286.47,1302.44 287.02,1302.44 287.58,1302.45 288.13,1302.45 288.68,1302.46 289.23,1302.47 289.78,1302.47 290.33,1302.48 290.88,1302.49 291.43,1302.49 291.98,1302.5 292.53,1302.5 293.08,1302.51 293.63,1302.52 294.19,1302.52 294.74,1302.53 295.29,1302.54 295.84,1302.54 296.39,1302.55 296.94,1302.56 297.49,1302.57 298.04,1302.57 298.59,1302.58 299.14,1302.59 299.69,1302.59 300.25,1302.6 300.8,1302.61 301.35,1302.62 301.9,1302.62 302.45,1302.63 303,1302.64 303.55,1302.65 304.1,1302.65 304.65,1302.66 305.2,1302.67 305.75,1302.68 306.3,1302.68 306.86,1302.69 307.41,1302.7 307.96,1302.71 308.51,1302.72 309.06,1302.72 309.61,1302.73 310.16,1302.74 310.71,1302.75 311.26,1302.76 311.81,1302.76 312.36,1302.77 312.91,1302.78 313.47,1302.79 314.02,1302.8 314.57,1302.81 315.12,1302.81 315.67,1302.82 316.22,1302.83 316.77,1302.84 317.32,1302.85 317.87,1302.85 318.42,1302.86 318.97,1302.87 319.52,1302.88 320.07,1302.89 320.63,1302.9 321.18,1302.91 321.73,1302.91 322.28,1302.92 322.83,1302.93 323.38,1302.94 323.93,1302.95 324.48,1302.96 325.03,1302.96 325.58,1302.97 326.13,1302.98 326.69,1302.99 327.24,1303 327.79,1303.01 328.34,1303.01 328.89,1303.02 329.44,1303.03 329.99,1303.04 330.54,1303.05 331.09,1303.06 331.64,1303.06 332.19,1303.07 332.74,1303.08 333.3,1303.09 333.85,1303.1 334.4,1303.11 334.95,1303.11 335.5,1303.12 336.05,1303.13 336.6,1303.14 337.15,1303.15 337.7,1303.15 338.25,1303.16 338.8,1303.17 339.35,1303.18 339.9,1303.19 340.46,1303.2 341.01,1303.21 341.56,1303.21 342.11,1303.22 342.66,1303.23 343.21,1303.24 343.76,1303.25 344.31,1303.26 344.86,1303.27 345.41,1303.28 345.96,1303.29 346.51,1303.3 347.07,1303.31 347.62,1303.32 348.17,1303.33 348.72,1303.34 349.27,1303.35 349.82,1303.36 350.37,1303.37 350.92,1303.38 351.47,1303.39 352.02,1303.4 352.57,1303.41 353.12,1303.42 353.68,1303.43 354.23,1303.44 354.78,1303.45 355.33,1303.46 355.88,1303.47 356.43,1303.48 356.98,1303.49 357.53,1303.5 358.08,1303.51 358.63,1303.53 359.18,1303.54 359.74,1303.55 360.29,1303.56 360.84,1303.57 361.39,1303.58 361.94,1303.59 362.49,1303.6 363.04,1303.62 363.59,1303.63 364.14,1303.64 364.69,1303.65 365.24,1303.66 365.79,1303.68 366.34,1303.69 366.9,1303.7 367.45,1303.71 368,1303.72 368.55,1303.74 369.1,1303.75 369.65,1303.76 370.2,1303.77 370.75,1303.79 371.3,1303.8 371.85,1303.81 372.4,1303.82 372.95,1303.84 373.51,1303.85 374.06,1303.86 374.61,1303.87 375.16,1303.89 375.71,1303.9 376.26,1303.91 376.81,1303.93 377.36,1303.94 377.91,1303.95 378.46,1303.96 379.01,1303.98 379.56,1303.99 380.12,1304 380.67,1304.02 381.22,1304.03 381.77,1304.04 382.32,1304.06 382.87,1304.07 383.42,1304.09 383.97,1304.1 384.52,1304.11 385.07,1304.13 385.62,1304.14 386.17,1304.15 386.73,1304.17 387.28,1304.18 387.83,1304.19 388.38,1304.21 388.93,1304.22 389.48,1304.24 390.03,1304.25 390.58,1304.26 391.13,1304.28 391.68,1304.29 392.23,1304.31 392.78,1304.32 393.34,1304.34 393.89,1304.35 394.44,1304.36 394.99,1304.38 395.54,1304.39 396.09,1304.41 396.64,1304.42 397.19,1304.44 397.74,1304.45 398.29,1304.47 398.84,1304.48 399.39,1304.49 399.95,1304.51 400.5,1304.52 401.05,1304.54 401.6,1304.55 402.15,1304.57 402.7,1304.58" fill="none" stroke="#c9acd9" stroke-width="1.4"/>
<polyline points="166.39,1321.09 166.94,1320.2 167.49,1319.24 168.05,1319.22 168.6,1317.1 169.15,1316.14 169.7,1315.72 170.25,1314.97 170.8,1315.36 171.35,1314.92 171.9,1313.69 172.45,1313.08 173,1313.14 173.55,1313.53 174.1,1311.26 174.66,1312.41 175.21,1311.34 175.76,1311.95 176.31,1310.68 176.86,1310.73 177.41,1309.88 177.96,1309.84 178.51,1310.63 179.06,1310.11 179.61,1309.32 180.16,1308.87 180.71,1308.18 181.27,1308.64 181.82,1308.6 182.37,1308.39 182.92,1308.2 183.47,1307.57 184.02,1307.88 184.57,1307.74 185.12,1308.19 185.67,1308.31 186.22,1307.28 186.77,1306.86 187.32,1307.05 187.88,1306.68 188.43,1306.49 188.98,1306.68 189.53,1306.11 190.08,1306.74 190.63,1306.31 191.18,1306.36 191.73,1306.05 192.28,1305.7 192.83,1305.5 193.38,1305.72 193.93,1305.48 194.49,1305.74 195.04,1305.54 195.59,1304.84 196.14,1305.4 196.69,1304.68 197.24,1304.92 197.79,1304.99 198.34,1304.11 198.89,1305.02 199.44,1304.97 199.99,1304.77 200.54,1304.58 201.09,1304.54 201.65,1304.21 202.2,1304.47 202.75,1304.29 203.3,1304.53 203.85,1303.9 204.4,1304.5 204.95,1304.41 205.5,1304.25 206.05,1304.07 206.6,1304.48 207.15,1303.45 207.71,1304.37 208.26,1304.23 208.81,1304.21 209.36,1304.22 209.91,1303.72 210.46,1303.86 211.01,1304.23 211.56,1304.1 212.11,1303.96 212.66,1303.15 213.21,1304.04 213.76,1304.29 214.31,1304.19 214.87,1303.8 215.42,1302.96 215.97,1304.06 216.52,1303.53 217.07,1302.43 217.62,1303.7 218.17,1302.83 218.72,1302.89 219.27,1303.15 219.82,1303.98 220.37,1303.21 220.93,1303.47 221.48,1304.1 222.03,1304.01 222.58,1303.21 223.13,1303.12 223.68,1302.63 224.23,1302.86 224.78,1303.34 225.33,1303.3 225.88,1303.14 226.43,1303.51 226.98,1302.69 227.54,1302.99 228.09,1303.32 228.64,1303.22 229.19,1303.42 229.74,1303.09 230.29,1302.75 230.84,1303.03 231.39,1302.39 231.94,1302.08 232.49,1303.06 233.04,1302.75 233.59,1302.89 234.14,1301.97 234.7,1302.55 235.25,1302.42 235.8,1302.28 236.35,1301.64 236.9,1302.48 237.45,1303.02 238,1302.77 238.55,1302.31 239.1,1302.55 239.65,1302.89 240.2,1301.29 240.75,1302.46 241.31,1302.74 241.86,1302.79 242.41,1303.23 242.96,1302.96 243.51,1302.58 244.06,1302.56 244.61,1302.77 245.16,1302.16 245.71,1302.37 246.26,1302.79 246.81,1303.25 247.37,1302.29 247.92,1302.33 248.47,1302.43 249.02,1302.94 249.57,1302.31 250.12,1302.98 250.67,1301.88 251.22,1302.22 251.77,1302.21 252.32,1302.65 252.87,1302.76 253.42,1301.61 253.97,1301.87 254.53,1302.43 255.08,1301.98 255.63,1301.59 256.18,1302.74 256.73,1302.49 257.28,1302.49 257.83,1302.06 258.38,1302.73 258.93,1302.16 259.48,1302.77 260.03,1301.86 260.58,1301.89 261.14,1302.37 261.69,1301.96 262.24,1302.58 262.79,1302.39 263.34,1301.86 263.89,1302.31 264.44,1302.12 264.99,1302.7 265.54,1302 266.09,1302.09 266.64,1302.84 267.19,1303.3 267.75,1303.19 268.3,1302.33 268.85,1302.4 269.4,1302.99 269.95,1302.25 270.5,1301.87 271.05,1302.36 271.6,1302.52 272.15,1301.94 272.7,1301.58 273.25,1301.68 273.8,1302.63 274.36,1301.99 274.91,1302.27 275.46,1302.44 276.01,1302.62 276.56,1302.2 277.11,1302.58 277.66,1301.96 278.21,1302.2 278.76,1301.9 279.31,1302.88 279.86,1302.36 280.41,1302.05 280.97,1302.23 281.52,1302.29 282.07,1302.71 282.62,1301.68 283.17,1301.94 283.72,1302.24 284.27,1303.55 284.82,1302.85 285.37,1302.38 285.92,1302.75 286.47,1303.36 287.02,1302.34 287.58,1302.28 288.13,1303 288.68,1302.68 289.23,1302.77 289.78,1302.24 290.33,1303.34 290.88,1303.25 291.43,1302.75 291.98,1302.81 292.53,1301.59 293.08,1302.8 293.63,1302.43 294.19,1302.72 294.74,1302.84 295.29,1302.38 295.84,1301.78 296.39,1302.72 296.94,1302.22 297.49,1302.42 298.04,1302.3 298.59,1302.43 299.14,1301.55 299.69,1303.14 300.25,1302.72 300.8,1303.11 301.35,1303.51 301.9,1302.63 302.45,1301.82 303,1302.24 303.55,1302.1 304.1,1302.43 304.65,1302.7 305.2,1301.77 305.75,1302.83 306.3,1302.01 306.86,1302.83 307.41,1302.65 307.96,1302.57 308.51,1302.68 309.06,1302.48 309.61,1302.46 310.16,1301.98 310.71,1302.73 311.26,1303.59 311.81,1303.66 312.36,1303.37 312.91,1303.1 313.47,1302.48 314.02,1303.45 314.57,1302.78 315.12,1302.78 315.67,1302.69 316.22,1302.87 316.77,1302.64 317.32,1302.81 317.87,1302.37 318.42,1302.7 318.97,1303.9 319.52,1302.85 320.07,1302.78 320.63,1303.14 321.18,1303.22 321.73,1302.41 322.28,1302.83 322.83,1303.34 323.38,1303.06 323.93,1303 324.48,1303.65 325.03,1302.66 325.58,1303.01 326.13,1302.75 326.69,1303.66 327.24,1302.12 327.79,1302.7 328.34,1302.78 328.89,1303.32 329.44,1303.3 329.99,1303.67 330.54,1302.34 331.09,1303.39 331.64,1302.93 332.19,1302.77 332.74,1303.32 333.3,1302.67 333.85,1302.16 334.4,1302.94 334.95,1302.44 335.5,1302.83 336.05,1303.3 336.6,1303.28 337.15,1303.86 337.7,1303.06 338.25,1302.47 338.8,1302.83 339.35,1302.77 339.9,1302.64 340.46,1303.39 341.01,1302.92 341.56,1302.32 342.11,1303.54 342.66,1303.18 343.21,1303.4 343.76,1303.3 344.31,1303.54 344.86,1303.29 345.41,1303.83 345.96,1303.48 346.51,1303.47 347.07,1303.49 347.62,1302.66 348.17,1303.25 348.72,1303.22 349.27,1303.44 349.82,1302.74 350.37,1304.1 350.92,1303.42 351.47,1302.84 352.02,1302.63 352.57,1303.28 353.12,1303.38 353.68,1303.1 354.23,1303.48 354.78,1303.16 355.33,1303.71 355.88,1303.14 356.43,1303.46 356.98,1303.93 357.53,1304.66 358.08,1303.06 358.63,1303.32 359.18,1303.16 359.74,1303.9 360.29,1303.04 360.84,1303.35 361.39,1303.57 361.94,1303.15 362.49,1303.17 363.04,1303.4 363.59,1302.68 364.14,1302.99 364.69,1303.47 365.24,1303.73 365.79,1303.59 366.34,1302.89 366.9,1303.49 367.45,1304.07 368,1303.97 368.55,1303.7 369.1,1303.35 369.65,1304.04 370.2,1303.51 370.75,1303.26 371.3,1303.44 371.85,1304.46 372.4,1303.92 372.95,1304.36 373.51,1303.63 374.06,1304.28 374.61,1303.6 375.16,1303.82 375.71,1305.02 376.26,1304.26 376.81,1303.7 377.36,1303.9 377.91,1304.1 378.46,1304.51 379.01,1303.76 379.56,1303.21 380.12,1303.88 380.67,1304.02 381.22,1304.08 381.77,1304.64 382.32,1304.2 382.87,1304.44 383.42,1303.59 383.97,1304.49 384.52,1305.06 385.07,1304.47 385.62,1304.25 386.17,1304.22 386.73,1304.97 387.28,1303.76 387.83,1304.14 388.38,1304.42 388.93,1304.56 389.48,1304.04 390.03,1304.39 390.58,1304.14 391.13,1304.33 391.68,1304.23 392.23,1303.79 392.78,1304.31 393.34,1304.73 393.89,1303.92 394.44,1304.26 394.99,1304.68 395.54,1303.91 396.09,1304.49 396.64,1303.95 397.19,1304.95 397.74,1305.49 398.29,1305.38 398.84,1304.38 399.39,1304.83 399.95,1304.56 400.5,1304.57 401.05,1305.24 401.6,1303.96 402.15,1305.04 402.7,1304.56" fill="none" stroke="#9d6cb6" stroke-width="4.6" stroke-linejoin="round" stroke-linecap="round"/>
<g fill="#c3a2d5" stroke="#9563b0" stroke-width="1.1"><circle cx="138.3" cy="1509.9" r="1.55"/><circle cx="138.85" cy="1506.69" r="1.55"/><circle cx="139.4" cy="1503.41" r="1.55"/><circle cx="139.95" cy="1500.8" r="1.55"/><circle cx="140.5" cy="1497.73" r="1.55"/><circle cx="141.05" cy="1493.89" r="1.55"/><circle cx="141.61" cy="1490.45" r="1.55"/><circle cx="142.16" cy="1486.13" r="1.55"/><circle cx="142.71" cy="1481.25" r="1.55"/><circle cx="143.26" cy="1478.33" r="1.55"/><circle cx="143.81" cy="1473.49" r="1.55"/><circle cx="144.36" cy="1468.26" r="1.55"/><circle cx="144.91" cy="1463.12" r="1.55"/><circle cx="145.46" cy="1458.44" r="1.55"/><circle cx="146.01" cy="1452.42" r="1.55"/><circle cx="146.56" cy="1446.77" r="1.55"/><circle cx="147.11" cy="1441.32" r="1.55"/><circle cx="147.66" cy="1436.2" r="1.55"/><circle cx="148.22" cy="1429.1" r="1.55"/><circle cx="148.77" cy="1424.65" r="1.55"/><circle cx="149.32" cy="1418.12" r="1.55"/><circle cx="149.87" cy="1412.2" r="1.55"/><circle cx="150.42" cy="1407.65" r="1.55"/><circle cx="150.97" cy="1401.31" r="1.55"/><circle cx="151.52" cy="1395.21" r="1.55"/><circle cx="152.07" cy="1390.43" r="1.55"/><circle cx="152.62" cy="1386.17" r="1.55"/><circle cx="153.17" cy="1381.58" r="1.55"/><circle cx="153.72" cy="1376.18" r="1.55"/><circle cx="154.27" cy="1372.19" r="1.55"/><circle cx="154.83" cy="1368.19" r="1.55"/><circle cx="155.38" cy="1363.67" r="1.55"/><circle cx="155.93" cy="1360.71" r="1.55"/><circle cx="156.48" cy="1357.38" r="1.55"/><circle cx="157.03" cy="1354.22" r="1.55"/><circle cx="157.58" cy="1351.52" r="1.55"/><circle cx="158.13" cy="1349.24" r="1.55"/><circle cx="158.68" cy="1346.78" r="1.55"/><circle cx="159.23" cy="1344.11" r="1.55"/><circle cx="159.78" cy="1341.84" r="1.55"/><circle cx="160.33" cy="1340.26" r="1.55"/><circle cx="160.88" cy="1337.47" r="1.55"/><circle cx="161.44" cy="1335.52" r="1.55"/><circle cx="161.99" cy="1333.48" r="1.55"/><circle cx="162.54" cy="1331.09" r="1.55"/><circle cx="163.09" cy="1330.01" r="1.55"/><circle cx="163.64" cy="1326.73" r="1.55"/><circle cx="164.19" cy="1326.04" r="1.55"/><circle cx="164.74" cy="1324.23" r="1.55"/><circle cx="165.29" cy="1324.16" r="1.55"/><circle cx="165.84" cy="1322.99" r="1.55"/><circle cx="166.39" cy="1320.13" r="1.55"/><circle cx="166.94" cy="1319.65" r="1.55"/><circle cx="167.49" cy="1319.55" r="1.55"/><circle cx="168.05" cy="1318.76" r="1.55"/><circle cx="168.6" cy="1317.94" r="1.55"/><circle cx="169.15" cy="1316.8" r="1.55"/><circle cx="169.7" cy="1316.4" r="1.55"/><circle cx="170.25" cy="1315.89" r="1.55"/><circle cx="170.8" cy="1314.99" r="1.55"/><circle cx="171.35" cy="1315.07" r="1.55"/><circle cx="171.9" cy="1312.99" r="1.55"/><circle cx="172.45" cy="1314.02" r="1.55"/><circle cx="173" cy="1312.78" r="1.55"/><circle cx="173.55" cy="1313.39" r="1.55"/><circle cx="174.1" cy="1312.42" r="1.55"/><circle cx="174.66" cy="1311.72" r="1.55"/><circle cx="175.21" cy="1312.01" r="1.55"/><circle cx="175.76" cy="1311.03" r="1.55"/><circle cx="176.31" cy="1310.71" r="1.55"/><circle cx="176.86" cy="1310.07" r="1.55"/><circle cx="177.41" cy="1310.55" r="1.55"/><circle cx="177.96" cy="1310.52" r="1.55"/><circle cx="178.51" cy="1310.52" r="1.55"/><circle cx="179.06" cy="1309.67" r="1.55"/><circle cx="179.61" cy="1310.02" r="1.55"/><circle cx="180.16" cy="1309.27" r="1.55"/><circle cx="180.71" cy="1308.99" r="1.55"/><circle cx="181.27" cy="1309.11" r="1.55"/><circle cx="181.82" cy="1309.15" r="1.55"/><circle cx="182.37" cy="1308.25" r="1.55"/><circle cx="182.92" cy="1308.12" r="1.55"/><circle cx="183.47" cy="1307.99" r="1.55"/><circle cx="184.02" cy="1307.95" r="1.55"/><circle cx="184.57" cy="1307.31" r="1.55"/><circle cx="185.12" cy="1308.13" r="1.55"/><circle cx="185.67" cy="1307.27" r="1.55"/><circle cx="186.22" cy="1307.57" r="1.55"/><circle cx="186.77" cy="1306.79" r="1.55"/><circle cx="187.32" cy="1307.26" r="1.55"/><circle cx="187.88" cy="1307.15" r="1.55"/><circle cx="188.43" cy="1306.61" r="1.55"/><circle cx="188.98" cy="1307.71" r="1.55"/><circle cx="189.53" cy="1306.77" r="1.55"/><circle cx="190.08" cy="1307.36" r="1.55"/><circle cx="190.63" cy="1306.83" r="1.55"/><circle cx="191.18" cy="1305.91" r="1.55"/><circle cx="191.73" cy="1305.94" r="1.55"/><circle cx="192.28" cy="1306.25" r="1.55"/><circle cx="192.83" cy="1305.96" r="1.55"/><circle cx="193.38" cy="1305.85" r="1.55"/><circle cx="193.93" cy="1305.59" r="1.55"/><circle cx="194.49" cy="1304.73" r="1.55"/><circle cx="195.04" cy="1305.43" r="1.55"/><circle cx="195.59" cy="1304.34" r="1.55"/><circle cx="196.14" cy="1305.55" r="1.55"/><circle cx="196.69" cy="1304.92" r="1.55"/><circle cx="197.24" cy="1304.84" r="1.55"/><circle cx="197.79" cy="1305.01" r="1.55"/><circle cx="198.34" cy="1305.18" r="1.55"/><circle cx="198.89" cy="1304.26" r="1.55"/><circle cx="199.44" cy="1304.03" r="1.55"/><circle cx="199.99" cy="1304.3" r="1.55"/><circle cx="200.54" cy="1303.75" r="1.55"/><circle cx="201.09" cy="1304.23" r="1.55"/><circle cx="201.65" cy="1305.45" r="1.55"/><circle cx="202.2" cy="1304.06" r="1.55"/><circle cx="202.75" cy="1304.86" r="1.55"/><circle cx="203.3" cy="1303.8" r="1.55"/><circle cx="203.85" cy="1304.59" r="1.55"/><circle cx="204.4" cy="1304.23" r="1.55"/><circle cx="204.95" cy="1304.32" r="1.55"/><circle cx="205.5" cy="1304.59" r="1.55"/><circle cx="206.05" cy="1305.15" r="1.55"/><circle cx="206.6" cy="1304.33" r="1.55"/><circle cx="207.15" cy="1304.26" r="1.55"/><circle cx="207.71" cy="1303.67" r="1.55"/><circle cx="208.26" cy="1304.41" r="1.55"/><circle cx="208.81" cy="1303.96" r="1.55"/><circle cx="209.36" cy="1304.46" r="1.55"/><circle cx="209.91" cy="1303.99" r="1.55"/><circle cx="210.46" cy="1304.85" r="1.55"/><circle cx="211.01" cy="1302.95" r="1.55"/><circle cx="211.56" cy="1303.76" r="1.55"/><circle cx="212.11" cy="1304.31" r="1.55"/><circle cx="212.66" cy="1303.66" r="1.55"/><circle cx="213.21" cy="1303.4" r="1.55"/><circle cx="213.76" cy="1303.63" r="1.55"/><circle cx="214.31" cy="1303.04" r="1.55"/><circle cx="214.87" cy="1303.76" r="1.55"/><circle cx="215.42" cy="1304.88" r="1.55"/><circle cx="215.97" cy="1304.2" r="1.55"/><circle cx="216.52" cy="1303.04" r="1.55"/><circle cx="217.07" cy="1303.13" r="1.55"/><circle cx="217.62" cy="1303.33" r="1.55"/><circle cx="218.17" cy="1304" r="1.55"/><circle cx="218.72" cy="1303.06" r="1.55"/><circle cx="219.27" cy="1303.09" r="1.55"/><circle cx="219.82" cy="1303.85" r="1.55"/><circle cx="220.37" cy="1303.81" r="1.55"/><circle cx="220.93" cy="1303.16" r="1.55"/><circle cx="221.48" cy="1302.76" r="1.55"/><circle cx="222.03" cy="1302.51" r="1.55"/><circle cx="222.58" cy="1302.91" r="1.55"/><circle cx="223.13" cy="1302.11" r="1.55"/><circle cx="223.68" cy="1303.58" r="1.55"/><circle cx="224.23" cy="1302.86" r="1.55"/><circle cx="224.78" cy="1303.39" r="1.55"/><circle cx="225.33" cy="1304.05" r="1.55"/><circle cx="225.88" cy="1303.68" r="1.55"/><circle cx="226.43" cy="1302.49" r="1.55"/><circle cx="226.98" cy="1303.47" r="1.55"/><circle cx="227.54" cy="1303.59" r="1.55"/><circle cx="228.09" cy="1302.61" r="1.55"/><circle cx="228.64" cy="1302.48" r="1.55"/><circle cx="229.19" cy="1302.88" r="1.55"/><circle cx="229.74" cy="1302.11" r="1.55"/><circle cx="230.29" cy="1303.62" r="1.55"/><circle cx="230.84" cy="1301.66" r="1.55"/><circle cx="231.39" cy="1302.29" r="1.55"/><circle cx="231.94" cy="1302.68" r="1.55"/><circle cx="232.49" cy="1302.68" r="1.55"/><circle cx="233.04" cy="1302.86" r="1.55"/><circle cx="233.59" cy="1302.89" r="1.55"/><circle cx="234.14" cy="1302.63" r="1.55"/><circle cx="234.7" cy="1303.28" r="1.55"/><circle cx="235.25" cy="1301.62" r="1.55"/><circle cx="235.8" cy="1302.67" r="1.55"/><circle cx="236.35" cy="1302.29" r="1.55"/><circle cx="236.9" cy="1302.7" r="1.55"/><circle cx="237.45" cy="1302.72" r="1.55"/><circle cx="238" cy="1302.14" r="1.55"/><circle cx="238.55" cy="1302.26" r="1.55"/><circle cx="239.1" cy="1302.96" r="1.55"/><circle cx="239.65" cy="1302.72" r="1.55"/><circle cx="240.2" cy="1302.19" r="1.55"/><circle cx="240.75" cy="1303.53" r="1.55"/><circle cx="241.31" cy="1303.65" r="1.55"/><circle cx="241.86" cy="1301.75" r="1.55"/><circle cx="242.41" cy="1302.62" r="1.55"/><circle cx="242.96" cy="1303.71" r="1.55"/><circle cx="243.51" cy="1302.83" r="1.55"/><circle cx="244.06" cy="1302.54" r="1.55"/><circle cx="244.61" cy="1302.31" r="1.55"/><circle cx="245.16" cy="1302.13" r="1.55"/><circle cx="245.71" cy="1302.29" r="1.55"/><circle cx="246.26" cy="1302.11" r="1.55"/><circle cx="246.81" cy="1302.74" r="1.55"/><circle cx="247.37" cy="1302.16" r="1.55"/><circle cx="247.92" cy="1302.13" r="1.55"/><circle cx="248.47" cy="1301.74" r="1.55"/><circle cx="249.02" cy="1302.31" r="1.55"/><circle cx="249.57" cy="1301.88" r="1.55"/><circle cx="250.12" cy="1302.23" r="1.55"/><circle cx="250.67" cy="1302.83" r="1.55"/><circle cx="251.22" cy="1302.49" r="1.55"/><circle cx="251.77" cy="1302.55" r="1.55"/><circle cx="252.32" cy="1302.47" r="1.55"/><circle cx="252.87" cy="1302.32" r="1.55"/><circle cx="253.42" cy="1302.22" r="1.55"/><circle cx="253.97" cy="1302.13" r="1.55"/><circle cx="254.53" cy="1302.66" r="1.55"/><circle cx="255.08" cy="1301.73" r="1.55"/><circle cx="255.63" cy="1302.94" r="1.55"/><circle cx="256.18" cy="1302.29" r="1.55"/><circle cx="256.73" cy="1301.9" r="1.55"/><circle cx="257.28" cy="1302.03" r="1.55"/><circle cx="257.83" cy="1301.93" r="1.55"/><circle cx="258.38" cy="1302.35" r="1.55"/><circle cx="258.93" cy="1301.91" r="1.55"/><circle cx="259.48" cy="1302.84" r="1.55"/><circle cx="260.03" cy="1301.88" r="1.55"/><circle cx="260.58" cy="1301.14" r="1.55"/><circle cx="261.14" cy="1301.91" r="1.55"/><circle cx="261.69" cy="1301.27" r="1.55"/><circle cx="262.24" cy="1302.26" r="1.55"/><circle cx="262.79" cy="1302.81" r="1.55"/><circle cx="263.34" cy="1302.6" r="1.55"/><circle cx="263.89" cy="1301.61" r="1.55"/><circle cx="264.44" cy="1301.9" r="1.55"/><circle cx="264.99" cy="1303.17" r="1.55"/><circle cx="265.54" cy="1302.45" r="1.55"/><circle cx="266.09" cy="1302.29" r="1.55"/><circle cx="266.64" cy="1302.82" r="1.55"/><circle cx="267.19" cy="1303.52" r="1.55"/><circle cx="267.75" cy="1302.94" r="1.55"/><circle cx="268.3" cy="1302.37" r="1.55"/><circle cx="268.85" cy="1302.48" r="1.55"/><circle cx="269.4" cy="1302.61" r="1.55"/><circle cx="269.95" cy="1302" r="1.55"/><circle cx="270.5" cy="1301.78" r="1.55"/><circle cx="271.05" cy="1302.34" r="1.55"/><circle cx="271.6" cy="1301.84" r="1.55"/><circle cx="272.15" cy="1302.29" r="1.55"/><circle cx="272.7" cy="1302.37" r="1.55"/><circle cx="273.25" cy="1303.5" r="1.55"/><circle cx="273.8" cy="1301.9" r="1.55"/><circle cx="274.36" cy="1302.27" r="1.55"/><circle cx="274.91" cy="1302.25" r="1.55"/><circle cx="275.46" cy="1302.56" r="1.55"/><circle cx="276.01" cy="1302.87" r="1.55"/><circle cx="276.56" cy="1302.1" r="1.55"/><circle cx="277.11" cy="1301.94" r="1.55"/><circle cx="277.66" cy="1301.54" r="1.55"/><circle cx="278.21" cy="1301.9" r="1.55"/><circle cx="278.76" cy="1302.63" r="1.55"/><circle cx="279.31" cy="1302.39" r="1.55"/><circle cx="279.86" cy="1301.87" r="1.55"/><circle cx="280.41" cy="1302.19" r="1.55"/><circle cx="280.97" cy="1302.4" r="1.55"/><circle cx="281.52" cy="1302.64" r="1.55"/><circle cx="282.07" cy="1302.1" r="1.55"/><circle cx="282.62" cy="1302.27" r="1.55"/><circle cx="283.17" cy="1301.49" r="1.55"/><circle cx="283.72" cy="1301.83" r="1.55"/><circle cx="284.27" cy="1303.22" r="1.55"/><circle cx="284.82" cy="1301.33" r="1.55"/><circle cx="285.37" cy="1302.26" r="1.55"/><circle cx="285.92" cy="1302.54" r="1.55"/><circle cx="286.47" cy="1302.25" r="1.55"/><circle cx="287.02" cy="1302.04" r="1.55"/><circle cx="287.58" cy="1302.42" r="1.55"/><circle cx="288.13" cy="1302.45" r="1.55"/><circle cx="288.68" cy="1302.42" r="1.55"/><circle cx="289.23" cy="1301.53" r="1.55"/><circle cx="289.78" cy="1302.4" r="1.55"/><circle cx="290.33" cy="1302.05" r="1.55"/><circle cx="290.88" cy="1302.21" r="1.55"/><circle cx="291.43" cy="1302.6" r="1.55"/><circle cx="291.98" cy="1302.82" r="1.55"/><circle cx="292.53" cy="1302.95" r="1.55"/><circle cx="293.08" cy="1302.26" r="1.55"/><circle cx="293.63" cy="1302.98" r="1.55"/><circle cx="294.19" cy="1303.11" r="1.55"/><circle cx="294.74" cy="1303.1" r="1.55"/><circle cx="295.29" cy="1303.23" r="1.55"/><circle cx="295.84" cy="1302.47" r="1.55"/><circle cx="296.39" cy="1302.46" r="1.55"/><circle cx="296.94" cy="1302.97" r="1.55"/><circle cx="297.49" cy="1301.88" r="1.55"/><circle cx="298.04" cy="1302.68" r="1.55"/><circle cx="298.59" cy="1302.31" r="1.55"/><circle cx="299.14" cy="1302.4" r="1.55"/><circle cx="299.69" cy="1301.72" r="1.55"/><circle cx="300.25" cy="1302.16" r="1.55"/><circle cx="300.8" cy="1302.6" r="1.55"/><circle cx="301.35" cy="1303.06" r="1.55"/><circle cx="301.9" cy="1303.12" r="1.55"/><circle cx="302.45" cy="1302.59" r="1.55"/><circle cx="303" cy="1302.54" r="1.55"/><circle cx="303.55" cy="1302.23" r="1.55"/><circle cx="304.1" cy="1302.86" r="1.55"/><circle cx="304.65" cy="1302.54" r="1.55"/><circle cx="305.2" cy="1302.97" r="1.55"/><circle cx="305.75" cy="1303.55" r="1.55"/><circle cx="306.3" cy="1302.67" r="1.55"/><circle cx="306.86" cy="1301.94" r="1.55"/><circle cx="307.41" cy="1302.27" r="1.55"/><circle cx="307.96" cy="1301.98" r="1.55"/><circle cx="308.51" cy="1302.12" r="1.55"/><circle cx="309.06" cy="1303.38" r="1.55"/><circle cx="309.61" cy="1302.85" r="1.55"/><circle cx="310.16" cy="1301.98" r="1.55"/><circle cx="310.71" cy="1303.08" r="1.55"/><circle cx="311.26" cy="1303.39" r="1.55"/><circle cx="311.81" cy="1302.58" r="1.55"/><circle cx="312.36" cy="1302.43" r="1.55"/><circle cx="312.91" cy="1302.61" r="1.55"/><circle cx="313.47" cy="1302.93" r="1.55"/><circle cx="314.02" cy="1303.12" r="1.55"/><circle cx="314.57" cy="1303.4" r="1.55"/><circle cx="315.12" cy="1303.42" r="1.55"/><circle cx="315.67" cy="1303.41" r="1.55"/><circle cx="316.22" cy="1303.51" r="1.55"/><circle cx="316.77" cy="1303.17" r="1.55"/><circle cx="317.32" cy="1302.08" r="1.55"/><circle cx="317.87" cy="1302.79" r="1.55"/><circle cx="318.42" cy="1303.02" r="1.55"/><circle cx="318.97" cy="1302.68" r="1.55"/><circle cx="319.52" cy="1303.34" r="1.55"/><circle cx="320.07" cy="1302.71" r="1.55"/><circle cx="320.63" cy="1302.43" r="1.55"/><circle cx="321.18" cy="1303.63" r="1.55"/><circle cx="321.73" cy="1303.25" r="1.55"/><circle cx="322.28" cy="1303.03" r="1.55"/><circle cx="322.83" cy="1303.39" r="1.55"/><circle cx="323.38" cy="1303.47" r="1.55"/><circle cx="323.93" cy="1303.12" r="1.55"/><circle cx="324.48" cy="1301.73" r="1.55"/><circle cx="325.03" cy="1302.63" r="1.55"/><circle cx="325.58" cy="1302.74" r="1.55"/><circle cx="326.13" cy="1302.49" r="1.55"/><circle cx="326.69" cy="1303.09" r="1.55"/><circle cx="327.24" cy="1303.59" r="1.55"/><circle cx="327.79" cy="1302.76" r="1.55"/><circle cx="328.34" cy="1302.45" r="1.55"/><circle cx="328.89" cy="1304.04" r="1.55"/><circle cx="329.44" cy="1302.81" r="1.55"/><circle cx="329.99" cy="1302.42" r="1.55"/><circle cx="330.54" cy="1303.17" r="1.55"/><circle cx="331.09" cy="1303.27" r="1.55"/><circle cx="331.64" cy="1302.71" r="1.55"/><circle cx="332.19" cy="1303.47" r="1.55"/><circle cx="332.74" cy="1302.84" r="1.55"/><circle cx="333.3" cy="1302.63" r="1.55"/><circle cx="333.85" cy="1303.19" r="1.55"/><circle cx="334.4" cy="1303.49" r="1.55"/><circle cx="334.95" cy="1302.8" r="1.55"/><circle cx="335.5" cy="1303.29" r="1.55"/><circle cx="336.05" cy="1303.08" r="1.55"/><circle cx="336.6" cy="1304.55" r="1.55"/><circle cx="337.15" cy="1302.79" r="1.55"/><circle cx="337.7" cy="1303.85" r="1.55"/><circle cx="338.25" cy="1303.14" r="1.55"/><circle cx="338.8" cy="1303.11" r="1.55"/><circle cx="339.35" cy="1303.54" r="1.55"/><circle cx="339.9" cy="1303.64" r="1.55"/><circle cx="340.46" cy="1303.83" r="1.55"/><circle cx="341.01" cy="1303.37" r="1.55"/><circle cx="341.56" cy="1302.91" r="1.55"/><circle cx="342.11" cy="1302.95" r="1.55"/><circle cx="342.66" cy="1303.49" r="1.55"/><circle cx="343.21" cy="1303.53" r="1.55"/><circle cx="343.76" cy="1303.95" r="1.55"/><circle cx="344.31" cy="1303.47" r="1.55"/><circle cx="344.86" cy="1303.8" r="1.55"/><circle cx="345.41" cy="1304.04" r="1.55"/><circle cx="345.96" cy="1303.37" r="1.55"/><circle cx="346.51" cy="1302.55" r="1.55"/><circle cx="347.07" cy="1302.72" r="1.55"/><circle cx="347.62" cy="1302.6" r="1.55"/><circle cx="348.17" cy="1304.12" r="1.55"/><circle cx="348.72" cy="1302.91" r="1.55"/><circle cx="349.27" cy="1303.96" r="1.55"/><circle cx="349.82" cy="1303.65" r="1.55"/><circle cx="350.37" cy="1304.22" r="1.55"/><circle cx="350.92" cy="1303.88" r="1.55"/><circle cx="351.47" cy="1303.34" r="1.55"/><circle cx="352.02" cy="1303.3" r="1.55"/><circle cx="352.57" cy="1303.45" r="1.55"/><circle cx="353.12" cy="1303.51" r="1.55"/><circle cx="353.68" cy="1303.16" r="1.55"/><circle cx="354.23" cy="1303.42" r="1.55"/><circle cx="354.78" cy="1304.25" r="1.55"/><circle cx="355.33" cy="1302.61" r="1.55"/><circle cx="355.88" cy="1303.6" r="1.55"/><circle cx="356.43" cy="1303.03" r="1.55"/><circle cx="356.98" cy="1303.59" r="1.55"/><circle cx="357.53" cy="1303.92" r="1.55"/><circle cx="358.08" cy="1303.49" r="1.55"/><circle cx="358.63" cy="1303.91" r="1.55"/><circle cx="359.18" cy="1302.74" r="1.55"/><circle cx="359.74" cy="1304.1" r="1.55"/><circle cx="360.29" cy="1303.26" r="1.55"/><circle cx="360.84" cy="1303.88" r="1.55"/><circle cx="361.39" cy="1303.67" r="1.55"/><circle cx="361.94" cy="1302.3" r="1.55"/><circle cx="362.49" cy="1303.23" r="1.55"/><circle cx="363.04" cy="1303.73" r="1.55"/><circle cx="363.59" cy="1304.41" r="1.55"/><circle cx="364.14" cy="1303.78" r="1.55"/><circle cx="364.69" cy="1303.78" r="1.55"/><circle cx="365.24" cy="1302.96" r="1.55"/><circle cx="365.79" cy="1304.39" r="1.55"/><circle cx="366.34" cy="1304.59" r="1.55"/><circle cx="366.9" cy="1303.71" r="1.55"/><circle cx="367.45" cy="1303.6" r="1.55"/><circle cx="368" cy="1302.91" r="1.55"/><circle cx="368.55" cy="1304.18" r="1.55"/><circle cx="369.1" cy="1305.1" r="1.55"/><circle cx="369.65" cy="1304.12" r="1.55"/><circle cx="370.2" cy="1304.4" r="1.55"/><circle cx="370.75" cy="1304.06" r="1.55"/><circle cx="371.3" cy="1303.31" r="1.55"/><circle cx="371.85" cy="1304.48" r="1.55"/><circle cx="372.4" cy="1303.21" r="1.55"/><circle cx="372.95" cy="1303.73" r="1.55"/><circle cx="373.51" cy="1303.99" r="1.55"/><circle cx="374.06" cy="1304.3" r="1.55"/><circle cx="374.61" cy="1304.08" r="1.55"/><circle cx="375.16" cy="1304.08" r="1.55"/><circle cx="375.71" cy="1303.52" r="1.55"/><circle cx="376.26" cy="1303.27" r="1.55"/><circle cx="376.81" cy="1303.96" r="1.55"/><circle cx="377.36" cy="1303.58" r="1.55"/><circle cx="377.91" cy="1303.3" r="1.55"/><circle cx="378.46" cy="1303.33" r="1.55"/><circle cx="379.01" cy="1303.73" r="1.55"/><circle cx="379.56" cy="1303.06" r="1.55"/><circle cx="380.12" cy="1303.33" r="1.55"/><circle cx="380.67" cy="1303.2" r="1.55"/><circle cx="381.22" cy="1304.12" r="1.55"/><circle cx="381.77" cy="1304.25" r="1.55"/><circle cx="382.32" cy="1305.06" r="1.55"/><circle cx="382.87" cy="1303.32" r="1.55"/><circle cx="383.42" cy="1303.75" r="1.55"/><circle cx="383.97" cy="1304.55" r="1.55"/><circle cx="384.52" cy="1304" r="1.55"/><circle cx="385.07" cy="1303.96" r="1.55"/><circle cx="385.62" cy="1304.99" r="1.55"/><circle cx="386.17" cy="1303.98" r="1.55"/><circle cx="386.73" cy="1303.59" r="1.55"/><circle cx="387.28" cy="1303.52" r="1.55"/><circle cx="387.83" cy="1304.36" r="1.55"/><circle cx="388.38" cy="1304.36" r="1.55"/><circle cx="388.93" cy="1303.54" r="1.55"/><circle cx="389.48" cy="1303.74" r="1.55"/><circle cx="390.03" cy="1304.52" r="1.55"/><circle cx="390.58" cy="1304.55" r="1.55"/><circle cx="391.13" cy="1303.96" r="1.55"/><circle cx="391.68" cy="1304.6" r="1.55"/><circle cx="392.23" cy="1304.59" r="1.55"/><circle cx="392.78" cy="1303.43" r="1.55"/><circle cx="393.34" cy="1304.18" r="1.55"/><circle cx="393.89" cy="1304.56" r="1.55"/><circle cx="394.44" cy="1304.08" r="1.55"/><circle cx="394.99" cy="1303.31" r="1.55"/><circle cx="395.54" cy="1304.25" r="1.55"/><circle cx="396.09" cy="1304.78" r="1.55"/><circle cx="396.64" cy="1305.21" r="1.55"/><circle cx="397.19" cy="1303.34" r="1.55"/><circle cx="397.74" cy="1305.76" r="1.55"/><circle cx="398.29" cy="1303.9" r="1.55"/><circle cx="398.84" cy="1304.96" r="1.55"/><circle cx="399.39" cy="1305.11" r="1.55"/><circle cx="399.95" cy="1305" r="1.55"/><circle cx="400.5" cy="1304.6" r="1.55"/><circle cx="401.05" cy="1303.96" r="1.55"/><circle cx="401.6" cy="1304.87" r="1.55"/><circle cx="402.15" cy="1304.21" r="1.55"/><circle cx="402.7" cy="1303.32" r="1.55"/></g>
<path d="M419.9 1262V1551.1" stroke="#000" stroke-width="1.6" fill="none"/>
<path d="M413.4 1551.1H684.3" stroke="#000" stroke-width="1.6" fill="none"/>
<path d="M413.4 1551.1H419.9" stroke="#000" stroke-width="1.6"/>
<path d="M413.4 1478.85H419.9" stroke="#000" stroke-width="1.6"/>
<path d="M413.4 1406.6H419.9" stroke="#000" stroke-width="1.6"/>
<path d="M413.4 1334.35H419.9" stroke="#000" stroke-width="1.6"/>
<path d="M413.4 1262.1H419.9" stroke="#000" stroke-width="1.6"/>
<path d="M419.9 1551.1V1557.6" stroke="#000" stroke-width="1.6"/>
<text x="419.9" y="1580.9" font-size="25" text-anchor="middle">0</text>
<path d="M486 1551.1V1557.6" stroke="#000" stroke-width="1.6"/>
<text x="486" y="1580.9" font-size="25" text-anchor="middle">1</text>
<path d="M552.1 1551.1V1557.6" stroke="#000" stroke-width="1.6"/>
<text x="552.1" y="1580.9" font-size="25" text-anchor="middle">2</text>
<path d="M618.2 1551.1V1557.6" stroke="#000" stroke-width="1.6"/>
<text x="618.2" y="1580.9" font-size="25" text-anchor="middle">3</text>
<path d="M684.3 1551.1V1557.6" stroke="#000" stroke-width="1.6"/>
<text x="684.3" y="1580.9" font-size="25" text-anchor="middle">4</text>
<polyline points="419.9,1531.15 420.45,1530.87 421,1531.24 421.55,1530.85 422.1,1531.47 422.65,1531.64 423.2,1531.76 423.76,1531.57 424.31,1531.43 424.86,1531.73 425.41,1531.39 425.96,1531.53 426.51,1531.9 427.06,1531.68 427.61,1531.85 428.16,1531.86 428.71,1532.26 429.26,1532.13 429.81,1531.86 430.37,1532.1 430.92,1531.7 431.47,1531.78 432.02,1532.03 432.57,1531.59 433.12,1531.78 433.67,1531.56 434.22,1531.84 434.77,1532.13 435.32,1531.65 435.87,1531.84 436.42,1531.6 436.98,1531.55 437.53,1531.52 438.08,1532.05 438.63,1532.22 439.18,1531.84 439.73,1531.59 440.28,1531.87 440.83,1531.66 441.38,1531.87 441.93,1531.76 442.48,1531.75 443.03,1531.81 443.59,1531.57 444.14,1531.59 444.69,1531.32 445.24,1531.57 445.79,1531.36 446.34,1531.61 446.89,1531.44 447.44,1531.64 447.99,1531.7 448.54,1531.32 449.09,1531.43 449.64,1531.39 450.2,1531.72 450.75,1531.9 451.3,1531.72 451.85,1531.47 452.4,1531.83 452.95,1531.22 453.5,1531.81 454.05,1531.37 454.6,1530.93 455.15,1532.01 455.7,1531.78 456.25,1531.25 456.81,1531.48 457.36,1531.39 457.91,1531.45 458.46,1531.12 459.01,1531.27 459.56,1531.49 460.11,1531.43 460.66,1531.61 461.21,1531.38 461.76,1531.82 462.31,1531.19 462.86,1531.38 463.42,1530.93 463.97,1531.05 464.52,1531.56 465.07,1531.09 465.62,1531.37 466.17,1531.24 466.72,1531.04 467.27,1531.16 467.82,1531.12 468.37,1531.11 468.92,1531.35 469.47,1531.32 470.03,1531.06 470.58,1530.98 471.13,1531.21 471.68,1531.12 472.23,1531.34 472.78,1531.65 473.33,1531.28 473.88,1531.09 474.43,1531.05 474.98,1530.9 475.53,1530.88 476.08,1530.85 476.64,1530.96 477.19,1530.95 477.74,1531.17 478.29,1530.93 478.84,1530.96 479.39,1530.75 479.94,1531.31 480.49,1531.07 481.04,1531.32 481.59,1531.11 482.14,1531.24 482.69,1530.88 483.25,1531.06 483.8,1531.45 484.35,1530.65 484.9,1531.12 485.45,1531.22 486,1530.95 486.55,1531.01 487.1,1531.11 487.65,1530.71 488.2,1530.92 488.75,1530.65 489.3,1530.68 489.86,1530.68 490.41,1530.77 490.96,1530.82 491.51,1530.87 492.06,1530.48 492.61,1531.17 493.16,1530.99 493.71,1530.89 494.26,1530.66 494.81,1530.71 495.36,1530.83 495.91,1530.79 496.47,1530.35 497.02,1530.84 497.57,1531.28 498.12,1530.29 498.67,1530.87 499.22,1530.73 499.77,1530.62 500.32,1530.92 500.87,1530.38 501.42,1530.65 501.97,1530.91 502.52,1530.56 503.08,1530.51 503.63,1530.61 504.18,1530.48 504.73,1530.89 505.28,1530.37 505.83,1530.73 506.38,1530.28 506.93,1530.67 507.48,1530.5 508.03,1529.99 508.58,1530.51 509.13,1530.28 509.69,1530.4 510.24,1530.8 510.79,1530.25 511.34,1530.25 511.89,1530.75 512.44,1530.47 512.99,1530.76 513.54,1530.5 514.09,1530.24 514.64,1530.4 515.19,1530.66 515.75,1530.59 516.3,1530.39 516.85,1530.39 517.4,1530.35 517.95,1530.25 518.5,1530.76 519.05,1530.35 519.6,1530.11 520.15,1530.24 520.7,1530.48 521.25,1530.45 521.8,1530.28 522.36,1530.16 522.91,1530.3 523.46,1529.94 524.01,1530.01 524.56,1530.43 525.11,1530.16 525.66,1530.33 526.21,1530.5 526.76,1530.37 527.31,1530.23 527.86,1530.66 528.41,1530.35 528.96,1530.13 529.52,1530.35 530.07,1530.27 530.62,1530 531.17,1530.19 531.72,1530.13 532.27,1529.75 532.82,1530.11 533.37,1530.08 533.92,1530.04 534.47,1529.78 535.02,1530.04 535.57,1530.1 536.13,1530.12 536.68,1529.86 537.23,1530.21 537.78,1529.82 538.33,1530.02 538.88,1530.33 539.43,1529.91 539.98,1529.94 540.53,1530.25 541.08,1529.95 541.63,1529.96 542.18,1530.05 542.74,1530.22 543.29,1529.54 543.84,1529.81 544.39,1529.77 544.94,1529.74 545.49,1529.78 546.04,1529.78 546.59,1530 547.14,1529.75 547.69,1529.95 548.24,1530 548.79,1529.76 549.35,1529.93 549.9,1530.23 550.45,1529.95 551,1529.74 551.55,1529.85 552.1,1529.67 552.65,1529.91 553.2,1530.02 553.75,1529.67 554.3,1529.78 554.85,1530.04 555.4,1529.71 555.96,1529.84 556.51,1529.58 557.06,1529.62 557.61,1529.67 558.16,1530.2 558.71,1529.68 559.26,1529.64 559.81,1529.63 560.36,1529.7 560.91,1529.86 561.46,1529.75 562.01,1530.12 562.57,1529.74 563.12,1529.98 563.67,1529.74 564.22,1529.8 564.77,1529.38 565.32,1529.63 565.87,1529.64 566.42,1529.59 566.97,1529.2 567.52,1529.8 568.07,1529.54 568.62,1529.52 569.18,1529.55 569.73,1529.55 570.28,1529.67 570.83,1529.32 571.38,1529.38 571.93,1529.62 572.48,1529.58 573.03,1529.47 573.58,1529.42 574.13,1529.36 574.68,1529.51 575.23,1529.75 575.79,1529.29 576.34,1529.8 576.89,1529.65 577.44,1529.39 577.99,1529.63 578.54,1529.17 579.09,1529.11 579.64,1529.19 580.19,1529.35 580.74,1529.36 581.29,1529.32 581.85,1529.43 582.4,1528.98 582.95,1529.49 583.5,1529.1 584.05,1529.25 584.6,1529.29 585.15,1529.13 585.7,1529.08 586.25,1529.14 586.8,1529.33 587.35,1529.45 587.9,1529.43 588.45,1529.11 589.01,1529.14 589.56,1529.11 590.11,1529.38 590.66,1528.87 591.21,1529.52 591.76,1529.16 592.31,1529.1 592.86,1529.31 593.41,1529.44 593.96,1529.3 594.51,1529.43 595.06,1529.24 595.62,1529.45 596.17,1529.44 596.72,1529.17 597.27,1529.47 597.82,1529.2 598.37,1529.18 598.92,1528.97 599.47,1529.09 600.02,1529.29 600.57,1528.86 601.12,1529.25 601.67,1529.18 602.23,1529.16 602.78,1528.65 603.33,1529.06 603.88,1529.2 604.43,1528.91 604.98,1529.08 605.53,1528.57 606.08,1529.17 606.63,1528.9 607.18,1529.2 607.73,1528.65 608.28,1529.14 608.84,1528.95 609.39,1529.15 609.94,1528.79 610.49,1528.85 611.04,1529.41 611.59,1528.79 612.14,1528.8 612.69,1528.88 613.24,1528.72 613.79,1529.16 614.34,1529.25 614.89,1528.76 615.45,1528.55 616,1529.12 616.55,1529.1 617.1,1529.03 617.65,1529.09 618.2,1528.67 618.75,1528.8 619.3,1528.55 619.85,1528.54 620.4,1529.01 620.95,1528.67 621.5,1529.25 622.06,1528.8 622.61,1528.65 623.16,1528.93 623.71,1529.12 624.26,1528.84 624.81,1528.49 625.36,1528.8 625.91,1529 626.46,1528.61 627.01,1528.55 627.56,1528.9 628.12,1528.71 628.67,1528.45 629.22,1528.59 629.77,1528.5 630.32,1528.71 630.87,1528.66 631.42,1528.86 631.97,1528.76 632.52,1528.3 633.07,1528.68 633.62,1528.77 634.17,1528.67 634.72,1528.78 635.28,1528.45 635.83,1528.36 636.38,1528.73 636.93,1528.32 637.48,1528.09 638.03,1528.72 638.58,1528.36 639.13,1528.44 639.68,1528.21 640.23,1528.21 640.78,1528.24 641.33,1528.39 641.89,1528.52 642.44,1527.98 642.99,1528.58 643.54,1528.19 644.09,1528.2 644.64,1528.54 645.19,1528.38 645.74,1528.08 646.29,1528.74 646.84,1528.19 647.39,1528.4 647.94,1528.39 648.5,1528.62 649.05,1528.24 649.6,1528.52 650.15,1528.16 650.7,1528.52 651.25,1528.14 651.8,1528.21 652.35,1528.65 652.9,1528.32 653.45,1528.27 654,1528.69 654.55,1528.3 655.11,1528.06 655.66,1528.36 656.21,1527.96 656.76,1528.42 657.31,1528.42 657.86,1528.06 658.41,1528.04 658.96,1528.19 659.51,1528.14 660.06,1527.94 660.61,1528.24 661.16,1527.7 661.72,1528.02 662.27,1528.01 662.82,1528.03 663.37,1528.13 663.92,1527.82 664.47,1528.17 665.02,1528.01 665.57,1527.9 666.12,1527.75 666.67,1527.78 667.22,1528.08 667.77,1527.8 668.33,1528 668.88,1528.19 669.43,1528.17 669.98,1528.27 670.53,1527.88 671.08,1527.72 671.63,1528.13 672.18,1527.98 672.73,1528.13 673.28,1527.9 673.83,1528.12 674.38,1528.04 674.94,1528.01 675.49,1527.95 676.04,1527.92 676.59,1527.88 677.14,1527.87 677.69,1528.01 678.24,1527.7 678.79,1528.14 679.34,1527.76 679.89,1527.97 680.44,1527.74 680.99,1527.7 681.55,1528.15 682.1,1527.67 682.65,1527.47 683.2,1527.57 683.75,1527.64 684.3,1528.12" fill="none" stroke="#808080" stroke-width="4.3" stroke-linejoin="round" stroke-linecap="round"/>
<polygon points="419.9,1518.51 420.45,1516.06 421,1513.58 421.55,1511.08 422.1,1508.56 422.65,1506.01 423.2,1503.43 423.76,1500.83 424.31,1498.21 424.86,1495.58 425.41,1492.93 425.96,1490.27 426.51,1487.57 427.06,1484.85 427.61,1482.08 428.16,1479.27 428.71,1476.39 429.26,1473.43 429.81,1470.39 430.37,1467.31 430.92,1464.2 431.47,1461.1 432.02,1458.03 432.57,1455.03 433.12,1452.1 433.67,1449.16 434.22,1446.16 434.77,1443.14 435.32,1440.12 435.87,1437.13 436.42,1434.21 436.98,1431.38 437.53,1428.65 438.08,1425.96 438.63,1423.29 439.18,1420.67 439.73,1418.14 440.28,1415.71 440.83,1413.43 441.38,1411.32 441.93,1409.4 442.48,1407.72 443.03,1406.28 443.59,1404.98 444.14,1403.74 444.69,1402.57 445.24,1401.45 445.79,1400.39 446.34,1399.39 446.89,1398.44 447.44,1397.55 447.99,1396.7 448.54,1395.9 449.09,1395.14 449.64,1394.43 450.2,1393.74 450.75,1393.07 451.3,1392.42 451.85,1391.79 452.4,1391.18 452.95,1390.59 453.5,1390.01 454.05,1389.46 454.6,1388.93 455.15,1388.42 455.7,1387.93 456.25,1387.47 456.81,1387.02 457.36,1386.59 457.91,1386.18 458.46,1385.79 459.01,1385.42 459.56,1385.08 460.11,1384.74 460.66,1384.41 461.21,1384.08 461.76,1383.76 462.31,1383.45 462.86,1383.15 463.42,1382.85 463.97,1382.56 464.52,1382.28 465.07,1382 465.62,1381.73 466.17,1381.47 466.72,1381.21 467.27,1380.97 467.82,1380.73 468.37,1380.49 468.92,1380.27 469.47,1380.05 470.03,1379.84 470.58,1379.64 471.13,1379.45 471.68,1379.26 472.23,1379.09 472.78,1378.92 473.33,1378.76 473.88,1378.6 474.43,1378.46 474.98,1378.32 475.53,1378.2 476.08,1378.08 476.64,1377.96 477.19,1377.85 477.74,1377.73 478.29,1377.62 478.84,1377.51 479.39,1377.39 479.94,1377.28 480.49,1377.17 481.04,1377.06 481.59,1376.95 482.14,1376.84 482.69,1376.73 483.25,1376.62 483.8,1376.51 484.35,1376.4 484.9,1376.29 485.45,1376.18 486,1376.08 486.55,1375.97 487.1,1375.86 487.65,1375.76 488.2,1375.66 488.75,1375.56 489.3,1375.46 489.86,1375.36 490.41,1375.27 490.96,1375.18 491.51,1375.08 492.06,1375 492.61,1374.91 493.16,1374.82 493.71,1374.74 494.26,1374.66 494.81,1374.58 495.36,1374.5 495.91,1374.43 496.47,1374.35 497.02,1374.28 497.57,1374.21 498.12,1374.14 498.67,1374.08 499.22,1374.02 499.77,1373.96 500.32,1373.9 500.87,1373.84 501.42,1373.79 501.97,1373.74 502.52,1373.69 503.08,1373.64 503.63,1373.6 504.18,1373.56 504.73,1373.52 505.28,1373.48 505.83,1373.45 506.38,1373.42 506.93,1373.39 507.48,1373.36 508.03,1373.34 508.58,1373.32 509.13,1373.3 509.69,1373.28 510.24,1373.27 510.79,1373.25 511.34,1373.23 511.89,1373.22 512.44,1373.2 512.99,1373.19 513.54,1373.17 514.09,1373.16 514.64,1373.14 515.19,1373.13 515.75,1373.11 516.3,1373.1 516.85,1373.08 517.4,1373.07 517.95,1373.06 518.5,1373.04 519.05,1373.03 519.6,1373.02 520.15,1373 520.7,1372.99 521.25,1372.98 521.8,1372.97 522.36,1372.96 522.91,1372.94 523.46,1372.93 524.01,1372.92 524.56,1372.91 525.11,1372.9 525.66,1372.89 526.21,1372.88 526.76,1372.87 527.31,1372.86 527.86,1372.85 528.41,1372.84 528.96,1372.83 529.52,1372.82 530.07,1372.81 530.62,1372.8 531.17,1372.79 531.72,1372.78 532.27,1372.77 532.82,1372.76 533.37,1372.75 533.92,1372.74 534.47,1372.73 535.02,1372.73 535.57,1372.72 536.13,1372.71 536.68,1372.7 537.23,1372.69 537.78,1372.69 538.33,1372.68 538.88,1372.67 539.43,1372.66 539.98,1372.66 540.53,1372.65 541.08,1372.64 541.63,1372.63 542.18,1372.63 542.74,1372.62 543.29,1372.61 543.84,1372.61 544.39,1372.6 544.94,1372.6 545.49,1372.59 546.04,1372.58 546.59,1372.58 547.14,1372.57 547.69,1372.57 548.24,1372.56 548.79,1372.55 549.35,1372.55 549.9,1372.54 550.45,1372.54 551,1372.53 551.55,1372.53 552.1,1372.52 552.65,1372.52 553.2,1372.51 553.75,1372.51 554.3,1372.5 554.85,1372.5 555.4,1372.49 555.96,1372.49 556.51,1372.48 557.06,1372.48 557.61,1372.47 558.16,1372.47 558.71,1372.46 559.26,1372.46 559.81,1372.46 560.36,1372.45 560.91,1372.45 561.46,1372.44 562.01,1372.44 562.57,1372.43 563.12,1372.43 563.67,1372.42 564.22,1372.42 564.77,1372.42 565.32,1372.41 565.87,1372.41 566.42,1372.4 566.97,1372.4 567.52,1372.4 568.07,1372.39 568.62,1372.39 569.18,1372.38 569.73,1372.38 570.28,1372.37 570.83,1372.37 571.38,1372.37 571.93,1372.36 572.48,1372.36 573.03,1372.35 573.58,1372.35 574.13,1372.35 574.68,1372.34 575.23,1372.34 575.79,1372.33 576.34,1372.33 576.89,1372.32 577.44,1372.32 577.99,1372.32 578.54,1372.31 579.09,1372.31 579.64,1372.3 580.19,1372.3 580.74,1372.3 581.29,1372.29 581.85,1372.29 582.4,1372.28 582.95,1372.28 583.5,1372.28 584.05,1372.27 584.6,1372.27 585.15,1372.26 585.7,1372.26 586.25,1372.26 586.8,1372.25 587.35,1372.25 587.9,1372.24 588.45,1372.24 589.01,1372.24 589.56,1372.23 590.11,1372.23 590.66,1372.23 591.21,1372.22 591.76,1372.22 592.31,1372.22 592.86,1372.21 593.41,1372.21 593.96,1372.21 594.51,1372.2 595.06,1372.2 595.62,1372.2 596.17,1372.19 596.72,1372.19 597.27,1372.19 597.82,1372.18 598.37,1372.18 598.92,1372.18 599.47,1372.18 600.02,1372.17 600.57,1372.17 601.12,1372.17 601.67,1372.17 602.23,1372.16 602.78,1372.16 603.33,1372.16 603.88,1372.16 604.43,1372.15 604.98,1372.15 605.53,1372.15 606.08,1372.15 606.63,1372.15 607.18,1372.15 607.73,1372.14 608.28,1372.14 608.84,1372.14 609.39,1372.14 609.94,1372.14 610.49,1372.14 611.04,1372.14 611.59,1372.14 612.14,1372.13 612.69,1372.13 613.24,1372.13 613.79,1372.13 614.34,1372.13 614.89,1372.13 615.45,1372.13 616,1372.13 616.55,1372.13 617.1,1372.13 617.65,1372.13 618.2,1372.13 618.75,1372.13 619.3,1372.13 619.85,1372.13 620.4,1372.13 620.95,1372.13 621.5,1372.13 622.06,1372.13 622.61,1372.13 623.16,1372.13 623.71,1372.13 624.26,1372.13 624.81,1372.13 625.36,1372.13 625.91,1372.13 626.46,1372.13 627.01,1372.13 627.56,1372.14 628.12,1372.14 628.67,1372.14 629.22,1372.14 629.77,1372.14 630.32,1372.14 630.87,1372.14 631.42,1372.14 631.97,1372.14 632.52,1372.14 633.07,1372.14 633.62,1372.14 634.17,1372.14 634.72,1372.14 635.28,1372.14 635.83,1372.14 636.38,1372.14 636.93,1372.14 637.48,1372.14 638.03,1372.14 638.58,1372.14 639.13,1372.14 639.68,1372.14 640.23,1372.14 640.78,1372.14 641.33,1372.14 641.89,1372.14 642.44,1372.14 642.99,1372.14 643.54,1372.14 644.09,1372.14 644.64,1372.15 645.19,1372.15 645.74,1372.15 646.29,1372.15 646.84,1372.15 647.39,1372.15 647.94,1372.15 648.5,1372.15 649.05,1372.15 649.6,1372.15 650.15,1372.15 650.7,1372.15 651.25,1372.15 651.8,1372.15 652.35,1372.15 652.9,1372.15 653.45,1372.15 654,1372.15 654.55,1372.15 655.11,1372.16 655.66,1372.16 656.21,1372.16 656.76,1372.16 657.31,1372.16 657.86,1372.16 658.41,1372.16 658.96,1372.16 659.51,1372.16 660.06,1372.16 660.61,1372.16 661.16,1372.16 661.72,1372.16 662.27,1372.17 662.82,1372.17 663.37,1372.17 663.92,1372.17 664.47,1372.17 665.02,1372.17 665.57,1372.17 666.12,1372.17 666.67,1372.17 667.22,1372.17 667.77,1372.17 668.33,1372.18 668.88,1372.18 669.43,1372.18 669.98,1372.18 670.53,1372.18 671.08,1372.18 671.63,1372.18 672.18,1372.18 672.73,1372.19 673.28,1372.19 673.83,1372.19 674.38,1372.19 674.94,1372.19 675.49,1372.19 676.04,1372.19 676.59,1372.19 677.14,1372.2 677.69,1372.2 678.24,1372.2 678.79,1372.2 679.34,1372.2 679.89,1372.2 680.44,1372.21 680.99,1372.21 681.55,1372.21 682.1,1372.21 682.65,1372.21 683.2,1372.21 683.75,1372.22 684.3,1372.22 684.3,1386.22 683.75,1386.22 683.2,1386.21 682.65,1386.21 682.1,1386.21 681.55,1386.21 680.99,1386.21 680.44,1386.21 679.89,1386.2 679.34,1386.2 678.79,1386.2 678.24,1386.2 677.69,1386.2 677.14,1386.2 676.59,1386.19 676.04,1386.19 675.49,1386.19 674.94,1386.19 674.38,1386.19 673.83,1386.19 673.28,1386.19 672.73,1386.19 672.18,1386.18 671.63,1386.18 671.08,1386.18 670.53,1386.18 669.98,1386.18 669.43,1386.18 668.88,1386.18 668.33,1386.18 667.77,1386.18 667.22,1386.18 666.67,1386.17 666.12,1386.17 665.57,1386.17 665.02,1386.17 664.47,1386.17 663.92,1386.17 663.37,1386.17 662.82,1386.17 662.27,1386.17 661.72,1386.17 661.16,1386.17 660.61,1386.17 660.06,1386.16 659.51,1386.16 658.96,1386.16 658.41,1386.16 657.86,1386.16 657.31,1386.16 656.76,1386.16 656.21,1386.16 655.66,1386.16 655.11,1386.16 654.55,1386.16 654,1386.16 653.45,1386.16 652.9,1386.16 652.35,1386.16 651.8,1386.16 651.25,1386.16 650.7,1386.16 650.15,1386.16 649.6,1386.16 649.05,1386.16 648.5,1386.16 647.94,1386.16 647.39,1386.16 646.84,1386.15 646.29,1386.15 645.74,1386.15 645.19,1386.15 644.64,1386.15 644.09,1386.15 643.54,1386.15 642.99,1386.15 642.44,1386.15 641.89,1386.15 641.33,1386.15 640.78,1386.15 640.23,1386.15 639.68,1386.15 639.13,1386.15 638.58,1386.15 638.03,1386.15 637.48,1386.15 636.93,1386.15 636.38,1386.15 635.83,1386.15 635.28,1386.15 634.72,1386.15 634.17,1386.15 633.62,1386.15 633.07,1386.15 632.52,1386.15 631.97,1386.15 631.42,1386.15 630.87,1386.15 630.32,1386.15 629.77,1386.15 629.22,1386.15 628.67,1386.15 628.12,1386.16 627.56,1386.16 627.01,1386.16 626.46,1386.16 625.91,1386.16 625.36,1386.16 624.81,1386.16 624.26,1386.16 623.71,1386.16 623.16,1386.16 622.61,1386.16 622.06,1386.16 621.5,1386.16 620.95,1386.16 620.4,1386.16 619.85,1386.16 619.3,1386.16 618.75,1386.16 618.2,1386.16 617.65,1386.16 617.1,1386.16 616.55,1386.16 616,1386.16 615.45,1386.16 614.89,1386.16 614.34,1386.16 613.79,1386.16 613.24,1386.17 612.69,1386.17 612.14,1386.17 611.59,1386.17 611.04,1386.17 610.49,1386.17 609.94,1386.18 609.39,1386.18 608.84,1386.18 608.28,1386.18 607.73,1386.18 607.18,1386.19 606.63,1386.19 606.08,1386.19 605.53,1386.19 604.98,1386.2 604.43,1386.2 603.88,1386.2 603.33,1386.2 602.78,1386.21 602.23,1386.21 601.67,1386.21 601.12,1386.22 600.57,1386.22 600.02,1386.22 599.47,1386.23 598.92,1386.23 598.37,1386.23 597.82,1386.24 597.27,1386.24 596.72,1386.24 596.17,1386.25 595.62,1386.25 595.06,1386.26 594.51,1386.26 593.96,1386.26 593.41,1386.27 592.86,1386.27 592.31,1386.28 591.76,1386.28 591.21,1386.29 590.66,1386.29 590.11,1386.29 589.56,1386.3 589.01,1386.3 588.45,1386.31 587.9,1386.31 587.35,1386.32 586.8,1386.32 586.25,1386.33 585.7,1386.33 585.15,1386.34 584.6,1386.34 584.05,1386.35 583.5,1386.35 582.95,1386.36 582.4,1386.36 581.85,1386.37 581.29,1386.37 580.74,1386.38 580.19,1386.38 579.64,1386.39 579.09,1386.39 578.54,1386.4 577.99,1386.4 577.44,1386.41 576.89,1386.41 576.34,1386.42 575.79,1386.42 575.23,1386.43 574.68,1386.43 574.13,1386.44 573.58,1386.44 573.03,1386.45 572.48,1386.46 571.93,1386.46 571.38,1386.47 570.83,1386.47 570.28,1386.48 569.73,1386.48 569.18,1386.49 568.62,1386.49 568.07,1386.5 567.52,1386.5 566.97,1386.51 566.42,1386.51 565.87,1386.52 565.32,1386.52 564.77,1386.53 564.22,1386.54 563.67,1386.54 563.12,1386.55 562.57,1386.55 562.01,1386.56 561.46,1386.56 560.91,1386.57 560.36,1386.58 559.81,1386.58 559.26,1386.59 558.71,1386.59 558.16,1386.6 557.61,1386.6 557.06,1386.61 556.51,1386.62 555.96,1386.62 555.4,1386.63 554.85,1386.64 554.3,1386.64 553.75,1386.65 553.2,1386.65 552.65,1386.66 552.1,1386.67 551.55,1386.67 551,1386.68 550.45,1386.69 549.9,1386.69 549.35,1386.7 548.79,1386.71 548.24,1386.72 547.69,1386.72 547.14,1386.73 546.59,1386.74 546.04,1386.75 545.49,1386.75 544.94,1386.76 544.39,1386.77 543.84,1386.78 543.29,1386.79 542.74,1386.79 542.18,1386.8 541.63,1386.81 541.08,1386.82 540.53,1386.83 539.98,1386.84 539.43,1386.85 538.88,1386.85 538.33,1386.86 537.78,1386.87 537.23,1386.88 536.68,1386.89 536.13,1386.9 535.57,1386.91 535.02,1386.92 534.47,1386.93 533.92,1386.94 533.37,1386.95 532.82,1386.96 532.27,1386.97 531.72,1386.98 531.17,1387 530.62,1387.01 530.07,1387.02 529.52,1387.03 528.96,1387.04 528.41,1387.05 527.86,1387.07 527.31,1387.08 526.76,1387.09 526.21,1387.1 525.66,1387.12 525.11,1387.13 524.56,1387.14 524.01,1387.15 523.46,1387.17 522.91,1387.18 522.36,1387.2 521.8,1387.21 521.25,1387.22 520.7,1387.24 520.15,1387.25 519.6,1387.27 519.05,1387.28 518.5,1387.3 517.95,1387.31 517.4,1387.33 516.85,1387.35 516.3,1387.36 515.75,1387.38 515.19,1387.39 514.64,1387.41 514.09,1387.43 513.54,1387.45 512.99,1387.46 512.44,1387.48 511.89,1387.5 511.34,1387.52 510.79,1387.54 510.24,1387.55 509.69,1387.57 509.13,1387.59 508.58,1387.61 508.03,1387.64 507.48,1387.66 506.93,1387.69 506.38,1387.72 505.83,1387.76 505.28,1387.79 504.73,1387.83 504.18,1387.87 503.63,1387.92 503.08,1387.96 502.52,1388.01 501.97,1388.06 501.42,1388.12 500.87,1388.17 500.32,1388.23 499.77,1388.29 499.22,1388.35 498.67,1388.42 498.12,1388.49 497.57,1388.56 497.02,1388.63 496.47,1388.7 495.91,1388.78 495.36,1388.85 494.81,1388.93 494.26,1389.02 493.71,1389.1 493.16,1389.19 492.61,1389.28 492.06,1389.37 491.51,1389.46 490.96,1389.55 490.41,1389.65 489.86,1389.74 489.3,1389.84 488.75,1389.94 488.2,1390.05 487.65,1390.15 487.1,1390.26 486.55,1390.37 486,1390.48 485.45,1390.59 484.9,1390.7 484.35,1390.82 483.8,1390.94 483.25,1391.06 482.69,1391.19 482.14,1391.31 481.59,1391.44 481.04,1391.58 480.49,1391.71 479.94,1391.85 479.39,1391.99 478.84,1392.13 478.29,1392.27 477.74,1392.42 477.19,1392.56 476.64,1392.71 476.08,1392.86 475.53,1393.02 474.98,1393.18 474.43,1393.36 473.88,1393.54 473.33,1393.73 472.78,1393.93 472.23,1394.14 471.68,1394.36 471.13,1394.59 470.58,1394.83 470.03,1395.07 469.47,1395.32 468.92,1395.58 468.37,1395.85 467.82,1396.13 467.27,1396.41 466.72,1396.7 466.17,1397 465.62,1397.31 465.07,1397.62 464.52,1397.94 463.97,1398.26 463.42,1398.59 462.86,1398.93 462.31,1399.27 461.76,1399.62 461.21,1399.98 460.66,1400.34 460.11,1400.7 459.56,1401.08 459.01,1401.46 458.46,1401.86 457.91,1402.29 457.36,1402.74 456.81,1403.21 456.25,1403.7 455.7,1404.21 455.15,1404.74 454.6,1405.3 454.05,1405.87 453.5,1406.47 452.95,1407.08 452.4,1407.72 451.85,1408.37 451.3,1409.04 450.75,1409.73 450.2,1410.44 449.64,1411.17 449.09,1411.92 448.54,1412.71 447.99,1413.55 447.44,1414.42 446.89,1415.35 446.34,1416.32 445.79,1417.34 445.24,1418.42 444.69,1419.55 444.14,1420.73 443.59,1421.98 443.03,1423.28 442.48,1424.64 441.93,1426.09 441.38,1427.64 440.83,1429.26 440.28,1430.96 439.73,1432.71 439.18,1434.5 438.63,1436.33 438.08,1438.18 437.53,1440.03 436.98,1441.91 436.42,1443.91 435.87,1446.04 435.32,1448.28 434.77,1450.62 434.22,1453.04 433.67,1455.54 433.12,1458.1 432.57,1460.71 432.02,1463.4 431.47,1466.15 430.92,1468.94 430.37,1471.75 429.81,1474.54 429.26,1477.29 428.71,1479.97 428.16,1482.57 427.61,1485.12 427.06,1487.63 426.51,1490.12 425.96,1492.58 425.41,1495.04 424.86,1497.49 424.31,1499.94 423.76,1502.4 423.2,1504.85 422.65,1507.3 422.1,1509.75 421.55,1512.19 421,1514.63 420.45,1517.07 419.9,1519.51" fill="#d4bfe0"/>
<polyline points="419.9,1519.07 420.45,1516.85 421,1513.81 421.55,1511.74 422.1,1509.36 422.65,1507.2 423.2,1503.93 423.76,1501.8 424.31,1499.16 424.86,1496.23 425.41,1493.98 425.96,1491.35 426.51,1488.15 427.06,1486.42 427.61,1483.76 428.16,1480.78 428.71,1477.78 429.26,1475.8 429.81,1472.55 430.37,1469.83 430.92,1466.99 431.47,1463.47 432.02,1460.96 432.57,1457.8 433.12,1455.08 433.67,1452.32 434.22,1449.6 434.77,1447.21 435.32,1444.24 435.87,1441.54 436.42,1438.98 436.98,1436.74 437.53,1434.07 438.08,1431.92 438.63,1429.79 439.18,1427.42 439.73,1425.39 440.28,1423.15 440.83,1421.95 441.38,1419.88 441.93,1417.88 442.48,1416.16 443.03,1415.44 443.59,1413.58 444.14,1412.21 444.69,1411.15 445.24,1410.03 445.79,1409.29 446.34,1407.85 446.89,1407.53 447.44,1405.72 447.99,1405.33 448.54,1404.01 449.09,1404.08 449.64,1402.7 450.2,1402.07 450.75,1401.68 451.3,1401.11 451.85,1399.74 452.4,1399.34 452.95,1398.41 453.5,1398.28 454.05,1397.64 454.6,1397.01 455.15,1396.38 455.7,1395.96 456.25,1395.36 456.81,1395.27 457.36,1395.12 457.91,1393.65 458.46,1393.79 459.01,1393.31 459.56,1393.22 460.11,1392.44 460.66,1392.33 461.21,1391.72 461.76,1391.9 462.31,1391.39 462.86,1390.99 463.42,1390.83 463.97,1390.34 464.52,1389.64 465.07,1389.99 465.62,1389.6 466.17,1389.19 466.72,1389.25 467.27,1389.05 467.82,1388.1 468.37,1387.94 468.92,1388.39 469.47,1388.11 470.03,1387.24 470.58,1386.88 471.13,1386.83 471.68,1386.66 472.23,1386.14 472.78,1386.43 473.33,1385.86 473.88,1385.71 474.43,1386.18 474.98,1385.55 475.53,1385.59 476.08,1385.66 476.64,1385.58 477.19,1385.1 477.74,1385.09 478.29,1384.7 478.84,1385.34 479.39,1384.89 479.94,1384.23 480.49,1384.44 481.04,1384.53 481.59,1384.34 482.14,1384.62 482.69,1384.37 483.25,1383.68 483.8,1383.7 484.35,1383.22 484.9,1383.57 485.45,1383.43 486,1384.09 486.55,1383.2 487.1,1382.43 487.65,1382.75 488.2,1382.89 488.75,1382.37 489.3,1382.39 489.86,1382.44 490.41,1382.56 490.96,1382.31 491.51,1382 492.06,1382.42 492.61,1381.93 493.16,1381.85 493.71,1381.51 494.26,1381.6 494.81,1381.95 495.36,1381.19 495.91,1381.58 496.47,1381.74 497.02,1381.34 497.57,1381.46 498.12,1380.98 498.67,1381.64 499.22,1381.52 499.77,1381.19 500.32,1380.54 500.87,1380.69 501.42,1381.25 501.97,1381.41 502.52,1380.94 503.08,1381.18 503.63,1380.58 504.18,1380.66 504.73,1380.68 505.28,1380.76 505.83,1380.14 506.38,1380.85 506.93,1380.94 507.48,1380.17 508.03,1380.08 508.58,1380.57 509.13,1380.25 509.69,1379.72 510.24,1380.65 510.79,1380.44 511.34,1380.23 511.89,1380.99 512.44,1380.38 512.99,1380.1 513.54,1380.34 514.09,1379.98 514.64,1380.05 515.19,1380.38 515.75,1380.08 516.3,1380.09 516.85,1380.72 517.4,1380.46 517.95,1380.43 518.5,1380.33 519.05,1380.3 519.6,1380.58 520.15,1380.12 520.7,1380.67 521.25,1379.82 521.8,1380.01 522.36,1379.66 522.91,1379.96 523.46,1380.21 524.01,1380.47 524.56,1379.83 525.11,1380.01 525.66,1379.89 526.21,1379.77 526.76,1379.62 527.31,1379.98 527.86,1379.44 528.41,1379.98 528.96,1379.94 529.52,1379.73 530.07,1379.61 530.62,1379.49 531.17,1380.45 531.72,1379.48 532.27,1380.34 532.82,1380.04 533.37,1379.74 533.92,1379.5 534.47,1380.15 535.02,1380.34 535.57,1379.53 536.13,1379.72 536.68,1380.11 537.23,1379.89 537.78,1380.38 538.33,1379.6 538.88,1379.93 539.43,1379.38 539.98,1380.38 540.53,1379.52 541.08,1379.07 541.63,1379.69 542.18,1379.67 542.74,1380.28 543.29,1379.6 543.84,1379.69 544.39,1379.86 544.94,1380.15 545.49,1379.65 546.04,1379.98 546.59,1379.81 547.14,1379.56 547.69,1379.67 548.24,1379.65 548.79,1379.36 549.35,1379.99 549.9,1379.2 550.45,1379.96 551,1379.89 551.55,1379.57 552.1,1379.37 552.65,1379.52 553.2,1379.72 553.75,1379.8 554.3,1379.66 554.85,1379.86 555.4,1379.39 555.96,1379.63 556.51,1379.08 557.06,1379.77 557.61,1379.58 558.16,1379.41 558.71,1379.88 559.26,1379.73 559.81,1378.67 560.36,1379.52 560.91,1379.07 561.46,1379.82 562.01,1380.24 562.57,1379.34 563.12,1379.51 563.67,1379.41 564.22,1379.58 564.77,1379.67 565.32,1379.85 565.87,1379.17 566.42,1379.93 566.97,1379.17 567.52,1379.53 568.07,1379.79 568.62,1379.65 569.18,1379.15 569.73,1379.22 570.28,1379.29 570.83,1379.41 571.38,1379.76 571.93,1379.02 572.48,1379.55 573.03,1379.58 573.58,1379.56 574.13,1379.53 574.68,1379.84 575.23,1379.53 575.79,1379.64 576.34,1379.54 576.89,1379.91 577.44,1378.79 577.99,1379.74 578.54,1379.28 579.09,1379.27 579.64,1379.05 580.19,1378.78 580.74,1379.22 581.29,1379.13 581.85,1379.48 582.4,1378.88 582.95,1379.75 583.5,1379.4 584.05,1379.23 584.6,1379.09 585.15,1379.06 585.7,1378.96 586.25,1379.13 586.8,1379.29 587.35,1379.23 587.9,1378.85 588.45,1379.19 589.01,1379 589.56,1379.31 590.11,1379.82 590.66,1379.45 591.21,1379.16 591.76,1378.76 592.31,1378.82 592.86,1378.74 593.41,1379.46 593.96,1379.01 594.51,1379.25 595.06,1379.04 595.62,1379.25 596.17,1379.64 596.72,1379.01 597.27,1379.11 597.82,1378.97 598.37,1379.47 598.92,1378.9 599.47,1378.86 600.02,1378.78 600.57,1378.77 601.12,1379.33 601.67,1379.96 602.23,1378.89 602.78,1379.47 603.33,1379.26 603.88,1378.85 604.43,1379.09 604.98,1379.1 605.53,1378.96 606.08,1379.75 606.63,1378.6 607.18,1379.28 607.73,1379.26 608.28,1378.99 608.84,1379.21 609.39,1379.42 609.94,1379.2 610.49,1379.28 611.04,1379.36 611.59,1378.54 612.14,1379.6 612.69,1379.83 613.24,1379.44 613.79,1379.45 614.34,1378.73 614.89,1379.11 615.45,1378.9 616,1378.97 616.55,1379.44 617.1,1378.9 617.65,1379.11 618.2,1378.57 618.75,1379.1 619.3,1379.17 619.85,1378.93 620.4,1378.93 620.95,1379.71 621.5,1378.78 622.06,1378.83 622.61,1378.9 623.16,1379.5 623.71,1379.78 624.26,1379.24 624.81,1378.93 625.36,1379.02 625.91,1379.46 626.46,1378.87 627.01,1379.58 627.56,1379.57 628.12,1379.17 628.67,1379.34 629.22,1379.37 629.77,1379.61 630.32,1378.83 630.87,1379.5 631.42,1379.03 631.97,1378.92 632.52,1379.18 633.07,1379.08 633.62,1378.85 634.17,1378.67 634.72,1378.86 635.28,1379.58 635.83,1379.74 636.38,1379.34 636.93,1379.5 637.48,1378.99 638.03,1379.12 638.58,1379.23 639.13,1378.82 639.68,1378.85 640.23,1379.18 640.78,1379.05 641.33,1378.83 641.89,1379.26 642.44,1379.07 642.99,1379.46 643.54,1379.15 644.09,1379.06 644.64,1379.19 645.19,1379.1 645.74,1378.95 646.29,1379.03 646.84,1379.38 647.39,1379.35 647.94,1379.54 648.5,1378.64 649.05,1379.03 649.6,1379.03 650.15,1379.2 650.7,1379.02 651.25,1379 651.8,1379.39 652.35,1379.21 652.9,1378.81 653.45,1379.56 654,1379.46 654.55,1378.98 655.11,1379.41 655.66,1378.94 656.21,1379.5 656.76,1379.09 657.31,1378.92 657.86,1379.05 658.41,1378.93 658.96,1379.22 659.51,1379.22 660.06,1379.17 660.61,1379 661.16,1378.07 661.72,1379.19 662.27,1378.6 662.82,1379.24 663.37,1379.51 663.92,1379.25 664.47,1379.05 665.02,1379.12 665.57,1379.13 666.12,1379.01 666.67,1379 667.22,1378.9 667.77,1379.53 668.33,1379.17 668.88,1379.46 669.43,1379.1 669.98,1379.2 670.53,1379.13 671.08,1379.32 671.63,1379.43 672.18,1379.26 672.73,1378.98 673.28,1378.95 673.83,1379.69 674.38,1379.11 674.94,1379.1 675.49,1379.63 676.04,1379.52 676.59,1379.35 677.14,1379.08 677.69,1379.9 678.24,1379.32 678.79,1379.36 679.34,1379.15 679.89,1378.78 680.44,1378.8 680.99,1379.33 681.55,1379.33 682.1,1379.14 682.65,1378.86 683.2,1378.78 683.75,1379.12 684.3,1378.78" fill="none" stroke="#9d6cb6" stroke-width="4.2" stroke-linejoin="round" stroke-linecap="round"/>
<path d="M701.6 1262V1551.1" stroke="#000" stroke-width="1.6" fill="none"/>
<path d="M695.1 1551.1H966" stroke="#000" stroke-width="1.6" fill="none"/>
<path d="M695.1 1551.1H701.6" stroke="#000" stroke-width="1.6"/>
<path d="M695.1 1478.85H701.6" stroke="#000" stroke-width="1.6"/>
<path d="M695.1 1406.6H701.6" stroke="#000" stroke-width="1.6"/>
<path d="M695.1 1334.35H701.6" stroke="#000" stroke-width="1.6"/>
<path d="M695.1 1262.1H701.6" stroke="#000" stroke-width="1.6"/>
<path d="M701.6 1551.1V1557.6" stroke="#000" stroke-width="1.6"/>
<text x="701.6" y="1580.9" font-size="25" text-anchor="middle">0</text>
<path d="M767.7 1551.1V1557.6" stroke="#000" stroke-width="1.6"/>
<text x="767.7" y="1580.9" font-size="25" text-anchor="middle">1</text>
<path d="M833.8 1551.1V1557.6" stroke="#000" stroke-width="1.6"/>
<text x="833.8" y="1580.9" font-size="25" text-anchor="middle">2</text>
<path d="M899.9 1551.1V1557.6" stroke="#000" stroke-width="1.6"/>
<text x="899.9" y="1580.9" font-size="25" text-anchor="middle">3</text>
<path d="M966 1551.1V1557.6" stroke="#000" stroke-width="1.6"/>
<text x="966" y="1580.9" font-size="25" text-anchor="middle">4</text>
<polyline points="701.6,1526.43 702.15,1526.66 702.7,1527.18 703.25,1526.98 703.8,1526.86 704.35,1526.98 704.9,1526.62 705.46,1527.34 706.01,1527.55 706.56,1527.88 707.11,1527.89 707.66,1527.94 708.21,1527.88 708.76,1527.97 709.31,1528.12 709.86,1527.61 710.41,1527.72 710.96,1527.52 711.51,1528.1 712.07,1528.02 712.62,1527.89 713.17,1527.48 713.72,1527.73 714.27,1527.63 714.82,1527.67 715.37,1527.59 715.92,1527.71 716.47,1527.5 717.02,1527.72 717.57,1527.58 718.12,1527.45 718.68,1527.46 719.23,1527.38 719.78,1527.61 720.33,1527.37 720.88,1527.47 721.43,1527.32 721.98,1527.09 722.53,1527.56 723.08,1527.16 723.63,1527.5 724.18,1527.43 724.74,1527.01 725.29,1527.14 725.84,1527.22 726.39,1527.15 726.94,1527.06 727.49,1527.44 728.04,1527.23 728.59,1527.35 729.14,1527.18 729.69,1527.32 730.24,1527.1 730.79,1527.23 731.35,1527.35 731.9,1527.23 732.45,1527.12 733,1526.99 733.55,1527.23 734.1,1527.26 734.65,1527.13 735.2,1527.02 735.75,1527.28 736.3,1527.66 736.85,1527.09 737.4,1527.21 737.96,1527.21 738.51,1526.62 739.06,1527.15 739.61,1526.98 740.16,1527.39 740.71,1527.05 741.26,1526.94 741.81,1527.05 742.36,1527.12 742.91,1526.97 743.46,1527.06 744.01,1526.79 744.57,1527.01 745.12,1527.21 745.67,1527.44 746.22,1527.18 746.77,1527.09 747.32,1527.27 747.87,1527.23 748.42,1527.35 748.97,1527.23 749.52,1526.98 750.07,1527.05 750.62,1527.03 751.18,1527.05 751.73,1527.02 752.28,1526.82 752.83,1526.55 753.38,1526.83 753.93,1526.56 754.48,1526.97 755.03,1526.95 755.58,1526.61 756.13,1527.08 756.68,1527.11 757.23,1526.95 757.78,1527.26 758.34,1527.29 758.89,1526.67 759.44,1527.11 759.99,1526.99 760.54,1526.98 761.09,1527.08 761.64,1526.74 762.19,1526.76 762.74,1526.71 763.29,1526.72 763.84,1526.84 764.39,1526.57 764.95,1526.64 765.5,1526.96 766.05,1526.83 766.6,1526.91 767.15,1526.45 767.7,1526.67 768.25,1526.71 768.8,1526.82 769.35,1526.69 769.9,1526.99 770.45,1526.78 771,1526.79 771.56,1526.79 772.11,1526.92 772.66,1526.68 773.21,1526.99 773.76,1526.86 774.31,1526.79 774.86,1526.76 775.41,1526.85 775.96,1526.95 776.51,1526.93 777.06,1526.81 777.62,1526.9 778.17,1526.75 778.72,1526.97 779.27,1526.71 779.82,1526.29 780.37,1526.97 780.92,1526.72 781.47,1526.46 782.02,1526.65 782.57,1526.5 783.12,1527.1 783.67,1526.77 784.23,1526.35 784.78,1526.77 785.33,1526.58 785.88,1527.04 786.43,1526.44 786.98,1526.19 787.53,1526.65 788.08,1526.56 788.63,1526.55 789.18,1526.2 789.73,1526.71 790.28,1526.95 790.84,1526.23 791.39,1526.84 791.94,1526.49 792.49,1527.07 793.04,1526.68 793.59,1526.55 794.14,1526.8 794.69,1526.68 795.24,1526.46 795.79,1526.71 796.34,1526.46 796.89,1526.2 797.45,1526.96 798,1526.48 798.55,1526.43 799.1,1526.61 799.65,1526.23 800.2,1526.26 800.75,1526.43 801.3,1526.42 801.85,1526.53 802.4,1526.74 802.95,1526.42 803.5,1526.61 804.06,1526.62 804.61,1526.28 805.16,1526.54 805.71,1526.3 806.26,1526.7 806.81,1526.57 807.36,1526.48 807.91,1526.2 808.46,1526.49 809.01,1526.31 809.56,1526.6 810.11,1526.43 810.66,1526.29 811.22,1526.63 811.77,1526.58 812.32,1526.32 812.87,1526.66 813.42,1526.37 813.97,1526.36 814.52,1526.44 815.07,1526.26 815.62,1526.32 816.17,1526.37 816.72,1526.71 817.27,1526.69 817.83,1526.34 818.38,1526.71 818.93,1526.37 819.48,1526.45 820.03,1526.55 820.58,1526.42 821.13,1526.84 821.68,1526.41 822.23,1526.11 822.78,1526.61 823.33,1526.26 823.88,1526.28 824.44,1525.73 824.99,1526.53 825.54,1526.49 826.09,1526.48 826.64,1526.51 827.19,1526.65 827.74,1526.29 828.29,1526.49 828.84,1526.14 829.39,1526.22 829.94,1526.49 830.5,1526.36 831.05,1526.01 831.6,1526.34 832.15,1526.23 832.7,1526.09 833.25,1526.34 833.8,1526.17 834.35,1525.93 834.9,1526.01 835.45,1526.58 836,1525.92 836.55,1526.26 837.11,1526.34 837.66,1526.34 838.21,1525.96 838.76,1526.13 839.31,1526.22 839.86,1526.35 840.41,1526.05 840.96,1525.94 841.51,1526.37 842.06,1526.39 842.61,1526.23 843.16,1526.03 843.72,1526.23 844.27,1526.16 844.82,1526.3 845.37,1525.88 845.92,1526.15 846.47,1526.09 847.02,1525.89 847.57,1526.15 848.12,1526.11 848.67,1526.01 849.22,1526.17 849.77,1525.8 850.33,1526.07 850.88,1526.16 851.43,1526.13 851.98,1526.28 852.53,1525.82 853.08,1525.75 853.63,1526.09 854.18,1526.13 854.73,1526.46 855.28,1526.15 855.83,1525.85 856.38,1526.18 856.93,1525.84 857.49,1525.71 858.04,1526.52 858.59,1526.06 859.14,1526.13 859.69,1526.09 860.24,1526.34 860.79,1526.03 861.34,1526.21 861.89,1525.75 862.44,1525.67 862.99,1526.23 863.55,1526.23 864.1,1526.04 864.65,1525.97 865.2,1525.95 865.75,1525.78 866.3,1526.22 866.85,1526.03 867.4,1526 867.95,1525.97 868.5,1526.09 869.05,1525.98 869.6,1526.02 870.15,1525.63 870.71,1525.96 871.26,1526.29 871.81,1525.74 872.36,1525.82 872.91,1526.01 873.46,1526.02 874.01,1525.95 874.56,1525.49 875.11,1525.91 875.66,1525.57 876.21,1525.63 876.76,1525.9 877.32,1525.73 877.87,1525.94 878.42,1526.4 878.97,1525.92 879.52,1525.91 880.07,1525.58 880.62,1525.62 881.17,1525.53 881.72,1525.63 882.27,1525.51 882.82,1525.59 883.38,1525.68 883.93,1525.51 884.48,1525.42 885.03,1525.43 885.58,1525.78 886.13,1525.7 886.68,1525.88 887.23,1525.88 887.78,1525.6 888.33,1525.79 888.88,1525.37 889.43,1526.1 889.99,1525.88 890.54,1525.59 891.09,1525.4 891.64,1525.7 892.19,1525.24 892.74,1525.45 893.29,1525.75 893.84,1525.61 894.39,1525.49 894.94,1525.77 895.49,1525.37 896.04,1525.63 896.6,1525.46 897.15,1525.39 897.7,1525.64 898.25,1525.34 898.8,1525.92 899.35,1525.41 899.9,1525.92 900.45,1525.3 901,1525.63 901.55,1525.26 902.1,1525.23 902.65,1525.52 903.2,1525.62 903.76,1525.22 904.31,1525.71 904.86,1525.3 905.41,1525.48 905.96,1525.53 906.51,1525.56 907.06,1525.08 907.61,1525.75 908.16,1525.54 908.71,1525.33 909.26,1525.21 909.82,1525.06 910.37,1525.12 910.92,1525.5 911.47,1525.31 912.02,1525.15 912.57,1525.26 913.12,1525.68 913.67,1525.29 914.22,1525.23 914.77,1525.61 915.32,1525.43 915.87,1525.34 916.42,1525.2 916.98,1525 917.53,1525.07 918.08,1525.2 918.63,1525.25 919.18,1525.36 919.73,1525.39 920.28,1525.32 920.83,1525.31 921.38,1525.06 921.93,1524.82 922.48,1525.14 923.03,1525.05 923.59,1525.1 924.14,1525.17 924.69,1524.97 925.24,1524.99 925.79,1525.18 926.34,1525.22 926.89,1525.06 927.44,1525.28 927.99,1525.13 928.54,1524.96 929.09,1525.17 929.64,1525.53 930.2,1525.01 930.75,1525.37 931.3,1525.41 931.85,1525.42 932.4,1524.95 932.95,1525.51 933.5,1525.12 934.05,1525.04 934.6,1525.04 935.15,1525.2 935.7,1525.08 936.25,1525.03 936.81,1525.31 937.36,1524.91 937.91,1524.83 938.46,1525.19 939.01,1525.17 939.56,1525.24 940.11,1524.8 940.66,1525.22 941.21,1525.1 941.76,1525.34 942.31,1524.73 942.87,1525.02 943.42,1524.91 943.97,1524.64 944.52,1524.81 945.07,1525.17 945.62,1524.85 946.17,1524.79 946.72,1525.1 947.27,1525.11 947.82,1525.11 948.37,1524.74 948.92,1524.88 949.48,1525.09 950.03,1524.75 950.58,1524.72 951.13,1525.03 951.68,1525.17 952.23,1524.62 952.78,1524.32 953.33,1524.54 953.88,1524.62 954.43,1524.79 954.98,1524.93 955.53,1524.77 956.09,1524.66 956.64,1524.82 957.19,1524.59 957.74,1524.76 958.29,1524.64 958.84,1525.29 959.39,1524.91 959.94,1524.58 960.49,1524.53 961.04,1524.64 961.59,1524.39 962.14,1524.56 962.69,1524.56 963.25,1524.87 963.8,1524.6 964.35,1524.52 964.9,1524.4 965.45,1524.43 966,1524.64" fill="none" stroke="#808080" stroke-width="4.2" stroke-linejoin="round" stroke-linecap="round"/>
<polygon points="701.6,1518.95 702.15,1518.37 702.7,1517.77 703.25,1517.16 703.8,1516.53 704.35,1515.89 704.9,1515.23 705.46,1514.57 706.01,1513.89 706.56,1513.19 707.11,1512.49 707.66,1511.77 708.21,1511.04 708.76,1510.28 709.31,1509.5 709.86,1508.7 710.41,1507.89 710.96,1507.06 711.51,1506.23 712.07,1505.4 712.62,1504.56 713.17,1503.72 713.72,1502.89 714.27,1502.06 714.82,1501.2 715.37,1500.33 715.92,1499.45 716.47,1498.56 717.02,1497.66 717.57,1496.78 718.12,1495.9 718.68,1495.04 719.23,1494.19 719.78,1493.38 720.33,1492.6 720.88,1491.85 721.43,1491.14 721.98,1490.44 722.53,1489.75 723.08,1489.06 723.63,1488.39 724.18,1487.72 724.74,1487.08 725.29,1486.44 725.84,1485.83 726.39,1485.24 726.94,1484.67 727.49,1484.13 728.04,1483.62 728.59,1483.14 729.14,1482.69 729.69,1482.27 730.24,1481.87 730.79,1481.48 731.35,1481.1 731.9,1480.73 732.45,1480.37 733,1480.02 733.55,1479.68 734.1,1479.35 734.65,1479.03 735.2,1478.72 735.75,1478.42 736.3,1478.12 736.85,1477.84 737.4,1477.56 737.96,1477.3 738.51,1477.04 739.06,1476.79 739.61,1476.55 740.16,1476.32 740.71,1476.09 741.26,1475.88 741.81,1475.67 742.36,1475.47 742.91,1475.27 743.46,1475.07 744.01,1474.88 744.57,1474.68 745.12,1474.49 745.67,1474.31 746.22,1474.12 746.77,1473.94 747.32,1473.77 747.87,1473.59 748.42,1473.42 748.97,1473.26 749.52,1473.09 750.07,1472.94 750.62,1472.78 751.18,1472.63 751.73,1472.49 752.28,1472.35 752.83,1472.22 753.38,1472.09 753.93,1471.96 754.48,1471.85 755.03,1471.73 755.58,1471.63 756.13,1471.53 756.68,1471.44 757.23,1471.35 757.78,1471.27 758.34,1471.19 758.89,1471.12 759.44,1471.04 759.99,1470.97 760.54,1470.9 761.09,1470.83 761.64,1470.77 762.19,1470.7 762.74,1470.64 763.29,1470.58 763.84,1470.52 764.39,1470.46 764.95,1470.4 765.5,1470.35 766.05,1470.29 766.6,1470.24 767.15,1470.19 767.7,1470.14 768.25,1470.1 768.8,1470.05 769.35,1470.01 769.9,1469.96 770.45,1469.92 771,1469.88 771.56,1469.84 772.11,1469.8 772.66,1469.76 773.21,1469.72 773.76,1469.68 774.31,1469.64 774.86,1469.61 775.41,1469.57 775.96,1469.54 776.51,1469.5 777.06,1469.47 777.62,1469.44 778.17,1469.4 778.72,1469.37 779.27,1469.34 779.82,1469.31 780.37,1469.29 780.92,1469.26 781.47,1469.23 782.02,1469.2 782.57,1469.18 783.12,1469.15 783.67,1469.13 784.23,1469.11 784.78,1469.08 785.33,1469.06 785.88,1469.04 786.43,1469.02 786.98,1469 787.53,1468.98 788.08,1468.96 788.63,1468.94 789.18,1468.93 789.73,1468.91 790.28,1468.89 790.84,1468.88 791.39,1468.86 791.94,1468.84 792.49,1468.83 793.04,1468.81 793.59,1468.79 794.14,1468.78 794.69,1468.76 795.24,1468.75 795.79,1468.73 796.34,1468.72 796.89,1468.7 797.45,1468.69 798,1468.67 798.55,1468.66 799.1,1468.65 799.65,1468.63 800.2,1468.62 800.75,1468.61 801.3,1468.59 801.85,1468.58 802.4,1468.57 802.95,1468.55 803.5,1468.54 804.06,1468.53 804.61,1468.52 805.16,1468.5 805.71,1468.49 806.26,1468.48 806.81,1468.47 807.36,1468.46 807.91,1468.44 808.46,1468.43 809.01,1468.42 809.56,1468.41 810.11,1468.4 810.66,1468.39 811.22,1468.38 811.77,1468.37 812.32,1468.36 812.87,1468.34 813.42,1468.33 813.97,1468.32 814.52,1468.31 815.07,1468.3 815.62,1468.29 816.17,1468.28 816.72,1468.27 817.27,1468.26 817.83,1468.26 818.38,1468.25 818.93,1468.24 819.48,1468.23 820.03,1468.22 820.58,1468.21 821.13,1468.2 821.68,1468.19 822.23,1468.18 822.78,1468.17 823.33,1468.16 823.88,1468.15 824.44,1468.15 824.99,1468.14 825.54,1468.13 826.09,1468.12 826.64,1468.11 827.19,1468.1 827.74,1468.1 828.29,1468.09 828.84,1468.08 829.39,1468.07 829.94,1468.06 830.5,1468.05 831.05,1468.05 831.6,1468.04 832.15,1468.03 832.7,1468.02 833.25,1468.01 833.8,1468.01 834.35,1468 834.9,1467.99 835.45,1467.98 836,1467.98 836.55,1467.97 837.11,1467.96 837.66,1467.95 838.21,1467.94 838.76,1467.94 839.31,1467.93 839.86,1467.92 840.41,1467.91 840.96,1467.91 841.51,1467.9 842.06,1467.89 842.61,1467.88 843.16,1467.87 843.72,1467.87 844.27,1467.86 844.82,1467.85 845.37,1467.84 845.92,1467.83 846.47,1467.83 847.02,1467.82 847.57,1467.81 848.12,1467.8 848.67,1467.79 849.22,1467.79 849.77,1467.78 850.33,1467.77 850.88,1467.76 851.43,1467.75 851.98,1467.75 852.53,1467.74 853.08,1467.73 853.63,1467.72 854.18,1467.71 854.73,1467.7 855.28,1467.69 855.83,1467.69 856.38,1467.68 856.93,1467.67 857.49,1467.66 858.04,1467.65 858.59,1467.64 859.14,1467.64 859.69,1467.63 860.24,1467.62 860.79,1467.61 861.34,1467.6 861.89,1467.59 862.44,1467.59 862.99,1467.58 863.55,1467.57 864.1,1467.56 864.65,1467.55 865.2,1467.54 865.75,1467.54 866.3,1467.53 866.85,1467.52 867.4,1467.51 867.95,1467.5 868.5,1467.5 869.05,1467.49 869.6,1467.48 870.15,1467.47 870.71,1467.47 871.26,1467.46 871.81,1467.45 872.36,1467.44 872.91,1467.43 873.46,1467.43 874.01,1467.42 874.56,1467.41 875.11,1467.4 875.66,1467.4 876.21,1467.39 876.76,1467.38 877.32,1467.37 877.87,1467.37 878.42,1467.36 878.97,1467.35 879.52,1467.34 880.07,1467.34 880.62,1467.33 881.17,1467.32 881.72,1467.31 882.27,1467.31 882.82,1467.3 883.38,1467.29 883.93,1467.28 884.48,1467.28 885.03,1467.27 885.58,1467.26 886.13,1467.26 886.68,1467.25 887.23,1467.24 887.78,1467.23 888.33,1467.23 888.88,1467.22 889.43,1467.21 889.99,1467.21 890.54,1467.2 891.09,1467.19 891.64,1467.18 892.19,1467.18 892.74,1467.17 893.29,1467.16 893.84,1467.16 894.39,1467.15 894.94,1467.14 895.49,1467.14 896.04,1467.13 896.6,1467.12 897.15,1467.11 897.7,1467.11 898.25,1467.1 898.8,1467.09 899.35,1467.09 899.9,1467.08 900.45,1467.07 901,1467.07 901.55,1467.06 902.1,1467.05 902.65,1467.05 903.2,1467.04 903.76,1467.03 904.31,1467.02 904.86,1467.02 905.41,1467.01 905.96,1467 906.51,1467 907.06,1466.99 907.61,1466.98 908.16,1466.98 908.71,1466.97 909.26,1466.96 909.82,1466.96 910.37,1466.95 910.92,1466.94 911.47,1466.94 912.02,1466.93 912.57,1466.92 913.12,1466.92 913.67,1466.91 914.22,1466.9 914.77,1466.9 915.32,1466.89 915.87,1466.88 916.42,1466.88 916.98,1466.87 917.53,1466.86 918.08,1466.86 918.63,1466.85 919.18,1466.84 919.73,1466.84 920.28,1466.83 920.83,1466.82 921.38,1466.82 921.93,1466.81 922.48,1466.8 923.03,1466.8 923.59,1466.79 924.14,1466.78 924.69,1466.78 925.24,1466.77 925.79,1466.77 926.34,1466.76 926.89,1466.75 927.44,1466.75 927.99,1466.74 928.54,1466.73 929.09,1466.73 929.64,1466.72 930.2,1466.71 930.75,1466.71 931.3,1466.7 931.85,1466.7 932.4,1466.69 932.95,1466.68 933.5,1466.68 934.05,1466.67 934.6,1466.66 935.15,1466.66 935.7,1466.65 936.25,1466.65 936.81,1466.64 937.36,1466.63 937.91,1466.63 938.46,1466.62 939.01,1466.61 939.56,1466.61 940.11,1466.6 940.66,1466.6 941.21,1466.59 941.76,1466.58 942.31,1466.58 942.87,1466.57 943.42,1466.57 943.97,1466.56 944.52,1466.55 945.07,1466.55 945.62,1466.54 946.17,1466.53 946.72,1466.53 947.27,1466.52 947.82,1466.52 948.37,1466.51 948.92,1466.5 949.48,1466.5 950.03,1466.49 950.58,1466.49 951.13,1466.48 951.68,1466.48 952.23,1466.47 952.78,1466.46 953.33,1466.46 953.88,1466.45 954.43,1466.45 954.98,1466.44 955.53,1466.43 956.09,1466.43 956.64,1466.42 957.19,1466.42 957.74,1466.41 958.29,1466.4 958.84,1466.4 959.39,1466.39 959.94,1466.39 960.49,1466.38 961.04,1466.38 961.59,1466.37 962.14,1466.36 962.69,1466.36 963.25,1466.35 963.8,1466.35 964.35,1466.34 964.9,1466.34 965.45,1466.33 966,1466.33 966,1476.92 965.45,1476.93 964.9,1476.94 964.35,1476.94 963.8,1476.95 963.25,1476.95 962.69,1476.96 962.14,1476.96 961.59,1476.97 961.04,1476.98 960.49,1476.98 959.94,1476.99 959.39,1476.99 958.84,1477 958.29,1477 957.74,1477.01 957.19,1477.02 956.64,1477.02 956.09,1477.03 955.53,1477.03 954.98,1477.04 954.43,1477.04 953.88,1477.05 953.33,1477.06 952.78,1477.06 952.23,1477.07 951.68,1477.07 951.13,1477.08 950.58,1477.08 950.03,1477.09 949.48,1477.1 948.92,1477.1 948.37,1477.11 947.82,1477.11 947.27,1477.12 946.72,1477.13 946.17,1477.13 945.62,1477.14 945.07,1477.14 944.52,1477.15 943.97,1477.15 943.42,1477.16 942.87,1477.17 942.31,1477.17 941.76,1477.18 941.21,1477.18 940.66,1477.19 940.11,1477.2 939.56,1477.2 939.01,1477.21 938.46,1477.21 937.91,1477.22 937.36,1477.23 936.81,1477.23 936.25,1477.24 935.7,1477.24 935.15,1477.25 934.6,1477.25 934.05,1477.26 933.5,1477.27 932.95,1477.27 932.4,1477.28 931.85,1477.28 931.3,1477.29 930.75,1477.3 930.2,1477.3 929.64,1477.31 929.09,1477.31 928.54,1477.32 927.99,1477.33 927.44,1477.33 926.89,1477.34 926.34,1477.34 925.79,1477.35 925.24,1477.36 924.69,1477.36 924.14,1477.37 923.59,1477.37 923.03,1477.38 922.48,1477.39 921.93,1477.39 921.38,1477.4 920.83,1477.4 920.28,1477.41 919.73,1477.42 919.18,1477.42 918.63,1477.43 918.08,1477.43 917.53,1477.44 916.98,1477.45 916.42,1477.45 915.87,1477.46 915.32,1477.46 914.77,1477.47 914.22,1477.48 913.67,1477.48 913.12,1477.49 912.57,1477.5 912.02,1477.5 911.47,1477.51 910.92,1477.51 910.37,1477.52 909.82,1477.53 909.26,1477.53 908.71,1477.54 908.16,1477.54 907.61,1477.55 907.06,1477.56 906.51,1477.56 905.96,1477.57 905.41,1477.57 904.86,1477.58 904.31,1477.59 903.76,1477.59 903.2,1477.6 902.65,1477.6 902.1,1477.61 901.55,1477.62 901,1477.62 900.45,1477.63 899.9,1477.63 899.35,1477.64 898.8,1477.65 898.25,1477.65 897.7,1477.66 897.15,1477.66 896.6,1477.67 896.04,1477.68 895.49,1477.68 894.94,1477.69 894.39,1477.69 893.84,1477.7 893.29,1477.71 892.74,1477.71 892.19,1477.72 891.64,1477.72 891.09,1477.73 890.54,1477.74 889.99,1477.74 889.43,1477.75 888.88,1477.76 888.33,1477.76 887.78,1477.77 887.23,1477.77 886.68,1477.78 886.13,1477.79 885.58,1477.79 885.03,1477.8 884.48,1477.8 883.93,1477.81 883.38,1477.82 882.82,1477.82 882.27,1477.83 881.72,1477.84 881.17,1477.84 880.62,1477.85 880.07,1477.85 879.52,1477.86 878.97,1477.87 878.42,1477.87 877.87,1477.88 877.32,1477.89 876.76,1477.89 876.21,1477.9 875.66,1477.9 875.11,1477.91 874.56,1477.92 874.01,1477.92 873.46,1477.93 872.91,1477.94 872.36,1477.94 871.81,1477.95 871.26,1477.95 870.71,1477.96 870.15,1477.97 869.6,1477.97 869.05,1477.98 868.5,1477.99 867.95,1477.99 867.4,1478 866.85,1478.01 866.3,1478.01 865.75,1478.02 865.2,1478.03 864.65,1478.03 864.1,1478.04 863.55,1478.05 862.99,1478.05 862.44,1478.06 861.89,1478.07 861.34,1478.07 860.79,1478.08 860.24,1478.09 859.69,1478.09 859.14,1478.1 858.59,1478.11 858.04,1478.11 857.49,1478.12 856.93,1478.13 856.38,1478.13 855.83,1478.14 855.28,1478.15 854.73,1478.15 854.18,1478.16 853.63,1478.17 853.08,1478.17 852.53,1478.18 851.98,1478.19 851.43,1478.19 850.88,1478.2 850.33,1478.21 849.77,1478.21 849.22,1478.22 848.67,1478.23 848.12,1478.23 847.57,1478.24 847.02,1478.24 846.47,1478.25 845.92,1478.26 845.37,1478.26 844.82,1478.27 844.27,1478.27 843.72,1478.28 843.16,1478.29 842.61,1478.29 842.06,1478.3 841.51,1478.3 840.96,1478.31 840.41,1478.31 839.86,1478.32 839.31,1478.33 838.76,1478.33 838.21,1478.34 837.66,1478.34 837.11,1478.35 836.55,1478.35 836,1478.36 835.45,1478.37 834.9,1478.37 834.35,1478.38 833.8,1478.38 833.25,1478.39 832.7,1478.39 832.15,1478.4 831.6,1478.4 831.05,1478.41 830.5,1478.42 829.94,1478.42 829.39,1478.43 828.84,1478.43 828.29,1478.44 827.74,1478.45 827.19,1478.45 826.64,1478.46 826.09,1478.46 825.54,1478.47 824.99,1478.48 824.44,1478.48 823.88,1478.49 823.33,1478.49 822.78,1478.5 822.23,1478.51 821.68,1478.51 821.13,1478.52 820.58,1478.53 820.03,1478.53 819.48,1478.54 818.93,1478.55 818.38,1478.55 817.83,1478.56 817.27,1478.57 816.72,1478.57 816.17,1478.58 815.62,1478.59 815.07,1478.6 814.52,1478.6 813.97,1478.61 813.42,1478.62 812.87,1478.63 812.32,1478.63 811.77,1478.64 811.22,1478.65 810.66,1478.66 810.11,1478.67 809.56,1478.67 809.01,1478.68 808.46,1478.69 807.91,1478.7 807.36,1478.71 806.81,1478.72 806.26,1478.73 805.71,1478.73 805.16,1478.74 804.61,1478.75 804.06,1478.76 803.5,1478.77 802.95,1478.78 802.4,1478.79 801.85,1478.8 801.3,1478.81 800.75,1478.82 800.2,1478.83 799.65,1478.84 799.1,1478.85 798.55,1478.86 798,1478.88 797.45,1478.89 796.89,1478.9 796.34,1478.91 795.79,1478.92 795.24,1478.93 794.69,1478.94 794.14,1478.96 793.59,1478.97 793.04,1478.98 792.49,1478.99 791.94,1479.01 791.39,1479.02 790.84,1479.03 790.28,1479.05 789.73,1479.06 789.18,1479.07 788.63,1479.09 788.08,1479.1 787.53,1479.12 786.98,1479.13 786.43,1479.15 785.88,1479.17 785.33,1479.18 784.78,1479.2 784.23,1479.22 783.67,1479.24 783.12,1479.26 782.57,1479.28 782.02,1479.31 781.47,1479.33 780.92,1479.35 780.37,1479.38 779.82,1479.4 779.27,1479.43 778.72,1479.45 778.17,1479.48 777.62,1479.51 777.06,1479.54 776.51,1479.57 775.96,1479.6 775.41,1479.63 774.86,1479.66 774.31,1479.69 773.76,1479.72 773.21,1479.76 772.66,1479.79 772.11,1479.83 771.56,1479.87 771,1479.9 770.45,1479.94 769.9,1479.98 769.35,1480.02 768.8,1480.06 768.25,1480.1 767.7,1480.14 767.15,1480.19 766.6,1480.23 766.05,1480.27 765.5,1480.31 764.95,1480.36 764.39,1480.4 763.84,1480.44 763.29,1480.49 762.74,1480.53 762.19,1480.57 761.64,1480.61 761.09,1480.66 760.54,1480.7 759.99,1480.75 759.44,1480.79 758.89,1480.83 758.34,1480.88 757.78,1480.92 757.23,1480.97 756.68,1481.03 756.13,1481.08 755.58,1481.15 755.03,1481.22 754.48,1481.29 753.93,1481.37 753.38,1481.46 752.83,1481.55 752.28,1481.64 751.73,1481.74 751.18,1481.84 750.62,1481.95 750.07,1482.06 749.52,1482.17 748.97,1482.29 748.42,1482.41 747.87,1482.54 747.32,1482.67 746.77,1482.8 746.22,1482.93 745.67,1483.07 745.12,1483.21 744.57,1483.36 744.01,1483.5 743.46,1483.65 742.91,1483.8 742.36,1483.96 741.81,1484.11 741.26,1484.28 740.71,1484.45 740.16,1484.62 739.61,1484.81 739.06,1485 738.51,1485.2 737.96,1485.41 737.4,1485.62 736.85,1485.84 736.3,1486.07 735.75,1486.31 735.2,1486.55 734.65,1486.81 734.1,1487.07 733.55,1487.34 733,1487.62 732.45,1487.9 731.9,1488.2 731.35,1488.5 730.79,1488.81 730.24,1489.14 729.69,1489.47 729.14,1489.81 728.59,1490.19 728.04,1490.6 727.49,1491.04 726.94,1491.5 726.39,1491.99 725.84,1492.51 725.29,1493.04 724.74,1493.59 724.18,1494.16 723.63,1494.74 723.08,1495.33 722.53,1495.93 721.98,1496.53 721.43,1497.14 720.88,1497.76 720.33,1498.41 719.78,1499.09 719.23,1499.81 718.68,1500.54 718.12,1501.3 717.57,1502.07 717.02,1502.84 716.47,1503.61 715.92,1504.38 715.37,1505.15 714.82,1505.89 714.27,1506.62 713.72,1507.32 713.17,1508.02 712.62,1508.72 712.07,1509.42 711.51,1510.11 710.96,1510.8 710.41,1511.48 709.86,1512.15 709.31,1512.79 708.76,1513.42 708.21,1514.03 707.66,1514.61 707.11,1515.16 706.56,1515.71 706.01,1516.24 705.46,1516.76 704.9,1517.26 704.35,1517.75 703.8,1518.22 703.25,1518.68 702.7,1519.12 702.15,1519.55 701.6,1519.95" fill="#d4bfe0"/>
<polyline points="701.6,1519.39 702.15,1519.3 702.7,1518.26 703.25,1518.24 703.8,1517.45 704.35,1516.82 704.9,1515.64 705.46,1515.27 706.01,1515.28 706.56,1514.87 707.11,1513.89 707.66,1513.42 708.21,1512.41 708.76,1511.74 709.31,1510.95 709.86,1510.72 710.41,1509.79 710.96,1508.86 711.51,1508.07 712.07,1507.57 712.62,1506.73 713.17,1505.62 713.72,1505.62 714.27,1504.41 714.82,1503.55 715.37,1503.18 715.92,1502.22 716.47,1501.06 717.02,1500.41 717.57,1499.1 718.12,1498.41 718.68,1497.11 719.23,1497.37 719.78,1495.67 720.33,1495.71 720.88,1494.55 721.43,1493.85 721.98,1493.43 722.53,1492.92 723.08,1492.38 723.63,1492.09 724.18,1491.05 724.74,1490.6 725.29,1489.56 725.84,1489.38 726.39,1488.66 726.94,1487.95 727.49,1487.56 728.04,1487.09 728.59,1486.72 729.14,1486.37 729.69,1485.72 730.24,1485.28 730.79,1485.37 731.35,1484.29 731.9,1484.28 732.45,1484.6 733,1483.01 733.55,1483.3 734.1,1483.42 734.65,1482.42 735.2,1483.41 735.75,1481.58 736.3,1482.53 736.85,1482.31 737.4,1481.87 737.96,1481.28 738.51,1481.23 739.06,1480.63 739.61,1480.92 740.16,1480.13 740.71,1480.19 741.26,1480.37 741.81,1479.56 742.36,1479.6 742.91,1479.58 743.46,1478.96 744.01,1479.54 744.57,1479.12 745.12,1478.4 745.67,1478.68 746.22,1478.3 746.77,1478.17 747.32,1478.24 747.87,1477.85 748.42,1478.21 748.97,1477.56 749.52,1477.93 750.07,1477.48 750.62,1477.62 751.18,1477.07 751.73,1476.96 752.28,1476.65 752.83,1477.05 753.38,1477.05 753.93,1477.3 754.48,1476.96 755.03,1476.55 755.58,1476.33 756.13,1476.42 756.68,1476.22 757.23,1476.6 757.78,1476.38 758.34,1475.79 758.89,1475.77 759.44,1476.33 759.99,1475.95 760.54,1475.73 761.09,1476.1 761.64,1475.57 762.19,1475.55 762.74,1475.44 763.29,1474.94 763.84,1475.74 764.39,1475.07 764.95,1475.21 765.5,1475.11 766.05,1475.5 766.6,1475.21 767.15,1475.19 767.7,1474.64 768.25,1475.07 768.8,1474.61 769.35,1475.11 769.9,1475.08 770.45,1474.93 771,1475.5 771.56,1475.01 772.11,1474.99 772.66,1474.82 773.21,1474.68 773.76,1474.99 774.31,1475 774.86,1474.24 775.41,1474.92 775.96,1474.72 776.51,1474.82 777.06,1474.64 777.62,1474.1 778.17,1474.09 778.72,1474.96 779.27,1474.46 779.82,1473.93 780.37,1474.44 780.92,1474.2 781.47,1473.73 782.02,1473.57 782.57,1473.75 783.12,1474.29 783.67,1474.17 784.23,1474.09 784.78,1474.23 785.33,1474.3 785.88,1473.47 786.43,1473.99 786.98,1473.82 787.53,1473.68 788.08,1473.87 788.63,1473.98 789.18,1473.92 789.73,1473.55 790.28,1473.82 790.84,1474.56 791.39,1473.62 791.94,1473.42 792.49,1473.99 793.04,1474.07 793.59,1474.02 794.14,1473.53 794.69,1474.15 795.24,1473.6 795.79,1473.49 796.34,1473.63 796.89,1473.77 797.45,1474 798,1473.96 798.55,1473.76 799.1,1474.03 799.65,1473.76 800.2,1473.99 800.75,1473.29 801.3,1473.23 801.85,1473.92 802.4,1473.26 802.95,1473.58 803.5,1473.63 804.06,1473.5 804.61,1473.5 805.16,1474.04 805.71,1472.85 806.26,1473.87 806.81,1474.28 807.36,1473.59 807.91,1473.57 808.46,1473.78 809.01,1474.1 809.56,1473.19 810.11,1473.56 810.66,1473.47 811.22,1473.68 811.77,1473.55 812.32,1473.69 812.87,1473.36 813.42,1473.49 813.97,1473.27 814.52,1473.26 815.07,1473.41 815.62,1473.4 816.17,1473.08 816.72,1473.9 817.27,1473.38 817.83,1472.99 818.38,1473.73 818.93,1473.17 819.48,1473.54 820.03,1473.37 820.58,1473.44 821.13,1473.41 821.68,1473.18 822.23,1473.36 822.78,1473.95 823.33,1472.66 823.88,1473.34 824.44,1473.44 824.99,1472.99 825.54,1472.89 826.09,1473.94 826.64,1473.17 827.19,1473.9 827.74,1473.43 828.29,1473.29 828.84,1473.4 829.39,1473.44 829.94,1473.6 830.5,1473.37 831.05,1473.27 831.6,1473.27 832.15,1473.62 832.7,1473.45 833.25,1472.9 833.8,1473 834.35,1473.29 834.9,1472.99 835.45,1473.06 836,1472.88 836.55,1473.08 837.11,1473.28 837.66,1473.45 838.21,1473.14 838.76,1473.76 839.31,1473.1 839.86,1474.08 840.41,1473.41 840.96,1473.26 841.51,1472.95 842.06,1472.25 842.61,1473.04 843.16,1473.13 843.72,1473.65 844.27,1472.65 844.82,1473.63 845.37,1472.98 845.92,1473.26 846.47,1472.28 847.02,1473.07 847.57,1472.92 848.12,1473.22 848.67,1473.04 849.22,1472.66 849.77,1473.28 850.33,1473.2 850.88,1473.16 851.43,1473.28 851.98,1473.3 852.53,1472.95 853.08,1472.54 853.63,1472.53 854.18,1473.34 854.73,1473.14 855.28,1472.95 855.83,1472.78 856.38,1472.91 856.93,1472.91 857.49,1472.79 858.04,1472.67 858.59,1473.52 859.14,1472.94 859.69,1472.68 860.24,1472.46 860.79,1472.63 861.34,1473.05 861.89,1473.06 862.44,1472.76 862.99,1472.83 863.55,1472.72 864.1,1472.47 864.65,1473.18 865.2,1472.9 865.75,1473.52 866.3,1472.54 866.85,1472.72 867.4,1473.02 867.95,1472.68 868.5,1472.33 869.05,1472.45 869.6,1472.76 870.15,1472.82 870.71,1472.68 871.26,1473.01 871.81,1473 872.36,1472.79 872.91,1472.69 873.46,1472.6 874.01,1472.84 874.56,1472.94 875.11,1472.68 875.66,1472.79 876.21,1472.55 876.76,1472.21 877.32,1472.33 877.87,1472.85 878.42,1472.75 878.97,1473.09 879.52,1472.62 880.07,1472.85 880.62,1472.99 881.17,1472.88 881.72,1472.39 882.27,1472.51 882.82,1472.6 883.38,1472.26 883.93,1472.69 884.48,1472.85 885.03,1472.39 885.58,1473.12 886.13,1472.43 886.68,1472.45 887.23,1472.44 887.78,1472.29 888.33,1472.62 888.88,1472.49 889.43,1472.98 889.99,1472.66 890.54,1472.63 891.09,1472.39 891.64,1472.03 892.19,1472.42 892.74,1472.19 893.29,1472.72 893.84,1472.42 894.39,1472.92 894.94,1472.64 895.49,1472.66 896.04,1472.47 896.6,1472.46 897.15,1472.59 897.7,1472.66 898.25,1472.16 898.8,1472.52 899.35,1473.15 899.9,1472.33 900.45,1472.27 901,1472.14 901.55,1471.9 902.1,1472.69 902.65,1472.34 903.2,1472.41 903.76,1472.87 904.31,1473.06 904.86,1472.03 905.41,1472.61 905.96,1472.47 906.51,1472.4 907.06,1472.42 907.61,1472.26 908.16,1472.74 908.71,1472.44 909.26,1472.35 909.82,1472.62 910.37,1472.5 910.92,1472.37 911.47,1472.32 912.02,1472.74 912.57,1472.36 913.12,1472.18 913.67,1471.94 914.22,1472.09 914.77,1471.87 915.32,1472.21 915.87,1472.25 916.42,1471.55 916.98,1472.16 917.53,1472.35 918.08,1472.2 918.63,1471.85 919.18,1472.51 919.73,1471.92 920.28,1471.75 920.83,1471.79 921.38,1472.1 921.93,1472.4 922.48,1472.45 923.03,1472.15 923.59,1471.73 924.14,1471.88 924.69,1471.8 925.24,1472.01 925.79,1471.53 926.34,1472.09 926.89,1472.24 927.44,1471.99 927.99,1472.17 928.54,1471.75 929.09,1471.58 929.64,1471.82 930.2,1472.36 930.75,1472.31 931.3,1471.86 931.85,1472.35 932.4,1471.89 932.95,1472.43 933.5,1472.12 934.05,1471.83 934.6,1472.2 935.15,1471.72 935.7,1471.67 936.25,1471.51 936.81,1472.01 937.36,1471.91 937.91,1471.9 938.46,1471.79 939.01,1472.34 939.56,1471.78 940.11,1471.68 940.66,1472.27 941.21,1472.31 941.76,1471.98 942.31,1471.35 942.87,1471.69 943.42,1472.05 943.97,1471.86 944.52,1472.32 945.07,1471.43 945.62,1472.04 946.17,1471.64 946.72,1472.22 947.27,1471.8 947.82,1472.12 948.37,1471.62 948.92,1471.38 949.48,1471.46 950.03,1471.61 950.58,1471.48 951.13,1472.14 951.68,1472.18 952.23,1471.85 952.78,1471.45 953.33,1471.72 953.88,1471.55 954.43,1472.18 954.98,1471.83 955.53,1471.88 956.09,1471.61 956.64,1471.12 957.19,1471.48 957.74,1471.38 958.29,1471.82 958.84,1471.73 959.39,1471.45 959.94,1471.57 960.49,1472.15 961.04,1471.39 961.59,1471.39 962.14,1471.6 962.69,1471.45 963.25,1471.52 963.8,1471.81 964.35,1472.16 964.9,1471.1 965.45,1471.63 966,1471.64" fill="none" stroke="#9d6cb6" stroke-width="4.2" stroke-linejoin="round" stroke-linecap="round"/>
<path d="M983 1262V1551.1" stroke="#000" stroke-width="1.6" fill="none"/>
<path d="M976.5 1551.1H1247.4" stroke="#000" stroke-width="1.6" fill="none"/>
<path d="M976.5 1551.1H983" stroke="#000" stroke-width="1.6"/>
<path d="M976.5 1478.85H983" stroke="#000" stroke-width="1.6"/>
<path d="M976.5 1406.6H983" stroke="#000" stroke-width="1.6"/>
<path d="M976.5 1334.35H983" stroke="#000" stroke-width="1.6"/>
<path d="M976.5 1262.1H983" stroke="#000" stroke-width="1.6"/>
<path d="M983 1551.1V1557.6" stroke="#000" stroke-width="1.6"/>
<text x="983" y="1580.9" font-size="25" text-anchor="middle">0</text>
<path d="M1049.1 1551.1V1557.6" stroke="#000" stroke-width="1.6"/>
<text x="1049.1" y="1580.9" font-size="25" text-anchor="middle">1</text>
<path d="M1115.2 1551.1V1557.6" stroke="#000" stroke-width="1.6"/>
<text x="1115.2" y="1580.9" font-size="25" text-anchor="middle">2</text>
<path d="M1181.3 1551.1V1557.6" stroke="#000" stroke-width="1.6"/>
<text x="1181.3" y="1580.9" font-size="25" text-anchor="middle">3</text>
<path d="M1247.4 1551.1V1557.6" stroke="#000" stroke-width="1.6"/>
<text x="1247.4" y="1580.9" font-size="25" text-anchor="middle">4</text>
<polyline points="983,1545.02 983.55,1545.01 984.1,1544.99 984.65,1545.15 985.2,1544.97 985.75,1545.01 986.3,1545.03 986.86,1545.04 987.41,1545.01 987.96,1545.15 988.51,1545.02 989.06,1545.05 989.61,1545.02 990.16,1544.9 990.71,1544.92 991.26,1544.89 991.81,1545.04 992.36,1544.93 992.91,1544.89 993.47,1545.04 994.02,1545.07 994.57,1544.8 995.12,1545.21 995.67,1545.01 996.22,1544.99 996.77,1545.13 997.32,1545 997.87,1544.92 998.42,1545.25 998.97,1544.86 999.52,1544.97 1000.08,1545.08 1000.63,1544.85 1001.18,1544.97 1001.73,1545.02 1002.28,1545.26 1002.83,1544.86 1003.38,1544.96 1003.93,1545.04 1004.48,1544.97 1005.03,1544.81 1005.58,1545 1006.13,1544.96 1006.69,1545 1007.24,1545.08 1007.79,1545.06 1008.34,1544.99 1008.89,1544.97 1009.44,1544.8 1009.99,1544.91 1010.54,1544.95 1011.09,1544.87 1011.64,1544.93 1012.19,1544.81 1012.75,1545.09 1013.3,1545.16 1013.85,1544.85 1014.4,1544.95 1014.95,1544.87 1015.5,1545.04 1016.05,1544.94 1016.6,1544.89 1017.15,1544.85 1017.7,1544.89 1018.25,1544.75 1018.8,1544.95 1019.36,1544.78 1019.91,1544.92 1020.46,1544.87 1021.01,1544.98 1021.56,1544.84 1022.11,1544.96 1022.66,1544.72 1023.21,1544.9 1023.76,1544.79 1024.31,1544.83 1024.86,1544.81 1025.41,1544.91 1025.96,1544.55 1026.52,1544.82 1027.07,1544.6 1027.62,1544.92 1028.17,1544.53 1028.72,1544.64 1029.27,1544.55 1029.82,1544.94 1030.37,1544.58 1030.92,1544.74 1031.47,1544.66 1032.02,1544.5 1032.58,1544.66 1033.13,1544.78 1033.68,1544.67 1034.23,1544.79 1034.78,1544.63 1035.33,1544.67 1035.88,1544.61 1036.43,1544.69 1036.98,1544.87 1037.53,1544.67 1038.08,1544.65 1038.63,1544.54 1039.18,1544.52 1039.74,1544.77 1040.29,1544.46 1040.84,1544.47 1041.39,1544.56 1041.94,1544.51 1042.49,1544.79 1043.04,1544.26 1043.59,1544.58 1044.14,1544.61 1044.69,1544.39 1045.24,1544.43 1045.8,1544.56 1046.35,1544.69 1046.9,1544.38 1047.45,1544.29 1048,1544.59 1048.55,1544.64 1049.1,1544.41 1049.65,1544.18 1050.2,1544.61 1050.75,1544.4 1051.3,1544.55 1051.85,1544.41 1052.4,1544.36 1052.96,1544.34 1053.51,1544.56 1054.06,1544.55 1054.61,1544.11 1055.16,1544.25 1055.71,1544.56 1056.26,1544.3 1056.81,1544.17 1057.36,1544.32 1057.91,1544.3 1058.46,1544.29 1059.01,1544.24 1059.57,1544.25 1060.12,1544.22 1060.67,1544.31 1061.22,1544.16 1061.77,1544.22 1062.32,1544.22 1062.87,1544.39 1063.42,1544.27 1063.97,1544.2 1064.52,1544.27 1065.07,1544.24 1065.62,1544.31 1066.18,1544.24 1066.73,1544.38 1067.28,1544.32 1067.83,1544.14 1068.38,1544.09 1068.93,1544.23 1069.48,1544.18 1070.03,1544.09 1070.58,1543.92 1071.13,1543.87 1071.68,1544.12 1072.23,1544.16 1072.79,1544.15 1073.34,1543.89 1073.89,1544.16 1074.44,1543.96 1074.99,1544.06 1075.54,1544.06 1076.09,1543.9 1076.64,1543.91 1077.19,1543.73 1077.74,1543.85 1078.29,1543.74 1078.85,1544 1079.4,1543.94 1079.95,1544.03 1080.5,1543.96 1081.05,1543.83 1081.6,1543.93 1082.15,1543.84 1082.7,1543.94 1083.25,1543.9 1083.8,1543.73 1084.35,1543.84 1084.9,1543.84 1085.45,1543.78 1086.01,1543.92 1086.56,1544 1087.11,1543.74 1087.66,1543.73 1088.21,1543.5 1088.76,1543.74 1089.31,1543.69 1089.86,1543.47 1090.41,1543.76 1090.96,1543.78 1091.51,1543.61 1092.07,1543.65 1092.62,1543.56 1093.17,1543.76 1093.72,1543.48 1094.27,1543.61 1094.82,1543.87 1095.37,1543.63 1095.92,1543.67 1096.47,1543.59 1097.02,1543.45 1097.57,1543.58 1098.12,1543.62 1098.67,1543.44 1099.23,1543.59 1099.78,1543.69 1100.33,1543.66 1100.88,1543.33 1101.43,1543.39 1101.98,1543.3 1102.53,1543.61 1103.08,1543.55 1103.63,1543.55 1104.18,1543.35 1104.73,1543.3 1105.29,1543.44 1105.84,1543.43 1106.39,1543.31 1106.94,1543.42 1107.49,1543.47 1108.04,1543.4 1108.59,1543.24 1109.14,1543.1 1109.69,1543.31 1110.24,1543.35 1110.79,1543.29 1111.34,1543.26 1111.89,1543.22 1112.45,1543.38 1113,1543.27 1113.55,1543.28 1114.1,1543.14 1114.65,1543.17 1115.2,1543.26 1115.75,1543.11 1116.3,1543.06 1116.85,1543.17 1117.4,1543.34 1117.95,1543.21 1118.5,1543.35 1119.06,1543.15 1119.61,1543.11 1120.16,1542.97 1120.71,1543.06 1121.26,1543.29 1121.81,1543.15 1122.36,1543.19 1122.91,1543.17 1123.46,1543.08 1124.01,1543.04 1124.56,1543.07 1125.12,1543.13 1125.67,1543.09 1126.22,1543.08 1126.77,1543.03 1127.32,1542.91 1127.87,1542.96 1128.42,1542.87 1128.97,1543.09 1129.52,1542.71 1130.07,1542.93 1130.62,1543.23 1131.17,1542.89 1131.72,1542.79 1132.28,1542.91 1132.83,1543.06 1133.38,1542.87 1133.93,1542.96 1134.48,1542.89 1135.03,1542.82 1135.58,1543.23 1136.13,1542.85 1136.68,1542.77 1137.23,1542.77 1137.78,1542.86 1138.34,1542.85 1138.89,1542.89 1139.44,1542.8 1139.99,1542.6 1140.54,1542.83 1141.09,1542.72 1141.64,1542.71 1142.19,1542.56 1142.74,1542.66 1143.29,1542.63 1143.84,1542.7 1144.39,1542.52 1144.94,1542.69 1145.5,1542.69 1146.05,1542.53 1146.6,1542.58 1147.15,1542.54 1147.7,1542.75 1148.25,1542.32 1148.8,1542.58 1149.35,1542.41 1149.9,1542.54 1150.45,1542.69 1151,1542.5 1151.56,1542.58 1152.11,1542.46 1152.66,1542.78 1153.21,1542.65 1153.76,1542.66 1154.31,1542.36 1154.86,1542.38 1155.41,1542.63 1155.96,1542.47 1156.51,1542.45 1157.06,1542.51 1157.61,1542.31 1158.16,1542.54 1158.72,1542.44 1159.27,1542.49 1159.82,1542.34 1160.37,1542.47 1160.92,1542.32 1161.47,1542.5 1162.02,1542.52 1162.57,1542.48 1163.12,1542.42 1163.67,1542.43 1164.22,1542.02 1164.78,1542.43 1165.33,1542.29 1165.88,1542.32 1166.43,1542.27 1166.98,1542.13 1167.53,1542.22 1168.08,1542.35 1168.63,1542.43 1169.18,1542.18 1169.73,1542.14 1170.28,1542.41 1170.83,1542.12 1171.38,1542.46 1171.94,1542.21 1172.49,1542.09 1173.04,1542.3 1173.59,1542.38 1174.14,1541.99 1174.69,1542.34 1175.24,1542.11 1175.79,1542.32 1176.34,1542.08 1176.89,1541.93 1177.44,1542.17 1177.99,1542.21 1178.55,1542.34 1179.1,1542.29 1179.65,1542.15 1180.2,1542.03 1180.75,1541.99 1181.3,1542 1181.85,1541.93 1182.4,1541.99 1182.95,1541.71 1183.5,1542.02 1184.05,1541.99 1184.61,1542.29 1185.16,1542.06 1185.71,1541.9 1186.26,1542.02 1186.81,1541.8 1187.36,1541.86 1187.91,1541.7 1188.46,1542.09 1189.01,1541.98 1189.56,1541.75 1190.11,1541.88 1190.66,1541.99 1191.21,1541.93 1191.77,1541.9 1192.32,1541.74 1192.87,1541.76 1193.42,1541.84 1193.97,1541.93 1194.52,1541.71 1195.07,1541.66 1195.62,1541.93 1196.17,1541.67 1196.72,1541.9 1197.27,1541.79 1197.83,1541.86 1198.38,1541.95 1198.93,1541.81 1199.48,1541.81 1200.03,1541.6 1200.58,1541.62 1201.13,1541.77 1201.68,1541.87 1202.23,1541.84 1202.78,1541.94 1203.33,1541.69 1203.88,1541.67 1204.43,1541.76 1204.99,1541.63 1205.54,1541.61 1206.09,1541.48 1206.64,1541.72 1207.19,1541.46 1207.74,1541.64 1208.29,1541.4 1208.84,1541.69 1209.39,1541.43 1209.94,1541.64 1210.49,1541.34 1211.05,1541.47 1211.6,1541.65 1212.15,1541.4 1212.7,1541.5 1213.25,1541.42 1213.8,1541.2 1214.35,1541.5 1214.9,1541.51 1215.45,1541.31 1216,1541.5 1216.55,1541.33 1217.1,1541.3 1217.65,1541.41 1218.21,1541.32 1218.76,1541.66 1219.31,1541.19 1219.86,1541.46 1220.41,1541.48 1220.96,1541.11 1221.51,1541.13 1222.06,1541.4 1222.61,1541.26 1223.16,1541.36 1223.71,1541.44 1224.26,1541.25 1224.82,1541.16 1225.37,1540.95 1225.92,1541.29 1226.47,1541.14 1227.02,1541.28 1227.57,1541.26 1228.12,1541.06 1228.67,1541.42 1229.22,1541.34 1229.77,1541.3 1230.32,1541.05 1230.88,1541.13 1231.43,1541.1 1231.98,1541.11 1232.53,1541.02 1233.08,1541.19 1233.63,1541.16 1234.18,1541.17 1234.73,1541.05 1235.28,1541.26 1235.83,1541.12 1236.38,1540.76 1236.93,1541 1237.48,1541.06 1238.04,1541.17 1238.59,1541.01 1239.14,1541.01 1239.69,1540.95 1240.24,1541.1 1240.79,1540.96 1241.34,1540.93 1241.89,1540.9 1242.44,1541.05 1242.99,1540.91 1243.54,1540.76 1244.1,1541.03 1244.65,1540.86 1245.2,1540.98 1245.75,1540.97 1246.3,1541.06 1246.85,1541.03 1247.4,1540.83" fill="none" stroke="#808080" stroke-width="3.2" stroke-linejoin="round" stroke-linecap="round"/>
<polyline points="983,1544.43 983.55,1543.99 984.1,1544.17 984.65,1543.72 985.2,1543.6 985.75,1543.08 986.3,1542.56 986.86,1542.84 987.41,1542.37 987.96,1542.12 988.51,1541.86 989.06,1541.7 989.61,1541.43 990.16,1540.87 990.71,1541.03 991.26,1540.55 991.81,1540.33 992.36,1540.42 992.91,1540.07 993.47,1539.66 994.02,1539.21 994.57,1539.29 995.12,1539.13 995.67,1538.82 996.22,1538.44 996.77,1538.29 997.32,1538.01 997.87,1538.02 998.42,1537.9 998.97,1537.72 999.52,1537.25 1000.08,1537.19 1000.63,1537.03 1001.18,1536.66 1001.73,1536.51 1002.28,1536.65 1002.83,1536.17 1003.38,1536.07 1003.93,1535.68 1004.48,1535.56 1005.03,1535.11 1005.58,1535.18 1006.13,1535.18 1006.69,1535.14 1007.24,1534.84 1007.79,1534.59 1008.34,1534.34 1008.89,1534.08 1009.44,1534 1009.99,1533.97 1010.54,1533.62 1011.09,1533.75 1011.64,1533.33 1012.19,1533.09 1012.75,1533.09 1013.3,1532.87 1013.85,1532.8 1014.4,1533.07 1014.95,1532.75 1015.5,1532.71 1016.05,1532.74 1016.6,1532.65 1017.15,1532.29 1017.7,1532.46 1018.25,1532.22 1018.8,1532.07 1019.36,1532.04 1019.91,1531.67 1020.46,1531.67 1021.01,1531.69 1021.56,1531.71 1022.11,1531.48 1022.66,1531.44 1023.21,1531.53 1023.76,1531.52 1024.31,1531.35 1024.86,1531.35 1025.41,1531.03 1025.96,1530.98 1026.52,1531.01 1027.07,1530.86 1027.62,1530.77 1028.17,1531.04 1028.72,1530.71 1029.27,1530.54 1029.82,1530.7 1030.37,1530.85 1030.92,1530.54 1031.47,1530.66 1032.02,1530.36 1032.58,1530.31 1033.13,1530.23 1033.68,1530.27 1034.23,1530.52 1034.78,1530.03 1035.33,1530.4 1035.88,1529.96 1036.43,1530.04 1036.98,1530.16 1037.53,1530.08 1038.08,1529.99 1038.63,1529.66 1039.18,1529.93 1039.74,1529.68 1040.29,1530.18 1040.84,1529.73 1041.39,1529.76 1041.94,1529.52 1042.49,1529.59 1043.04,1529.43 1043.59,1529.74 1044.14,1529.52 1044.69,1529.61 1045.24,1529.39 1045.8,1529.39 1046.35,1529.62 1046.9,1529.25 1047.45,1529.1 1048,1529.4 1048.55,1529.14 1049.1,1529.21 1049.65,1529.39 1050.2,1529.1 1050.75,1529.33 1051.3,1529.06 1051.85,1529.36 1052.4,1529.31 1052.96,1529.01 1053.51,1529.02 1054.06,1528.9 1054.61,1529.03 1055.16,1529.15 1055.71,1528.73 1056.26,1529.06 1056.81,1528.7 1057.36,1528.74 1057.91,1528.58 1058.46,1529.14 1059.01,1528.81 1059.57,1528.81 1060.12,1528.65 1060.67,1528.88 1061.22,1528.39 1061.77,1528.68 1062.32,1528.99 1062.87,1528.57 1063.42,1528.61 1063.97,1528.69 1064.52,1528.44 1065.07,1528.55 1065.62,1528.66 1066.18,1528.53 1066.73,1528.53 1067.28,1528.4 1067.83,1528.48 1068.38,1528.42 1068.93,1528.61 1069.48,1528.48 1070.03,1528.32 1070.58,1527.97 1071.13,1528.42 1071.68,1528.41 1072.23,1528.14 1072.79,1527.96 1073.34,1528.07 1073.89,1528.36 1074.44,1528.05 1074.99,1528.12 1075.54,1528.2 1076.09,1528.34 1076.64,1528.13 1077.19,1528.1 1077.74,1528.02 1078.29,1528.33 1078.85,1528.23 1079.4,1528.04 1079.95,1527.83 1080.5,1527.91 1081.05,1528.1 1081.6,1527.89 1082.15,1528.11 1082.7,1528.02 1083.25,1527.99 1083.8,1528.03 1084.35,1527.99 1084.9,1527.78 1085.45,1527.84 1086.01,1528.23 1086.56,1527.68 1087.11,1527.78 1087.66,1527.99 1088.21,1527.8 1088.76,1527.69 1089.31,1527.6 1089.86,1527.86 1090.41,1527.92 1090.96,1527.96 1091.51,1527.75 1092.07,1527.88 1092.62,1527.56 1093.17,1527.73 1093.72,1527.59 1094.27,1527.7 1094.82,1527.78 1095.37,1527.81 1095.92,1527.49 1096.47,1527.82 1097.02,1527.54 1097.57,1527.45 1098.12,1527.57 1098.67,1527.36 1099.23,1527.57 1099.78,1527.6 1100.33,1527.51 1100.88,1527.61 1101.43,1527.47 1101.98,1527.51 1102.53,1527.28 1103.08,1527.49 1103.63,1527.35 1104.18,1527.4 1104.73,1527.44 1105.29,1527.47 1105.84,1527.18 1106.39,1527.19 1106.94,1527.36 1107.49,1527.47 1108.04,1527.44 1108.59,1527.51 1109.14,1527.56 1109.69,1527.43 1110.24,1527.34 1110.79,1527.18 1111.34,1527.18 1111.89,1527.24 1112.45,1527.34 1113,1527.33 1113.55,1527.28 1114.1,1527.25 1114.65,1527.36 1115.2,1527.28 1115.75,1527.29 1116.3,1527.28 1116.85,1527.14 1117.4,1527.06 1117.95,1527.27 1118.5,1527.25 1119.06,1527.15 1119.61,1527.11 1120.16,1527.5 1120.71,1527.04 1121.26,1527.11 1121.81,1527.17 1122.36,1526.95 1122.91,1527.13 1123.46,1527.37 1124.01,1527.23 1124.56,1527.18 1125.12,1527.16 1125.67,1527.08 1126.22,1527.2 1126.77,1527.02 1127.32,1526.97 1127.87,1527.04 1128.42,1527.15 1128.97,1527.05 1129.52,1527.1 1130.07,1526.68 1130.62,1527.15 1131.17,1527.32 1131.72,1527.16 1132.28,1526.9 1132.83,1526.81 1133.38,1526.97 1133.93,1526.77 1134.48,1527.01 1135.03,1526.82 1135.58,1527.03 1136.13,1527.08 1136.68,1526.56 1137.23,1526.9 1137.78,1526.74 1138.34,1526.63 1138.89,1526.74 1139.44,1526.79 1139.99,1526.96 1140.54,1526.57 1141.09,1526.95 1141.64,1527.08 1142.19,1526.86 1142.74,1526.84 1143.29,1526.75 1143.84,1526.57 1144.39,1526.81 1144.94,1526.78 1145.5,1526.82 1146.05,1527.09 1146.6,1526.8 1147.15,1526.75 1147.7,1526.91 1148.25,1526.47 1148.8,1526.49 1149.35,1526.59 1149.9,1526.54 1150.45,1526.73 1151,1526.57 1151.56,1526.87 1152.11,1526.83 1152.66,1526.71 1153.21,1526.53 1153.76,1526.67 1154.31,1526.69 1154.86,1526.4 1155.41,1526.6 1155.96,1526.65 1156.51,1526.56 1157.06,1526.76 1157.61,1526.7 1158.16,1526.38 1158.72,1526.52 1159.27,1526.36 1159.82,1526.57 1160.37,1526.34 1160.92,1526.6 1161.47,1526.51 1162.02,1526.59 1162.57,1526.41 1163.12,1526.21 1163.67,1526.68 1164.22,1526.38 1164.78,1526.61 1165.33,1526.46 1165.88,1526.49 1166.43,1526.65 1166.98,1526.42 1167.53,1526.57 1168.08,1526.13 1168.63,1526.47 1169.18,1526.3 1169.73,1526.31 1170.28,1526.32 1170.83,1526.36 1171.38,1526.55 1171.94,1526.01 1172.49,1526.29 1173.04,1526.17 1173.59,1526.44 1174.14,1526.2 1174.69,1526.32 1175.24,1526.18 1175.79,1526.33 1176.34,1526.38 1176.89,1526.16 1177.44,1526.22 1177.99,1525.99 1178.55,1526.24 1179.1,1526.31 1179.65,1526.09 1180.2,1526.34 1180.75,1525.85 1181.3,1525.87 1181.85,1525.94 1182.4,1526.06 1182.95,1526.13 1183.5,1526.11 1184.05,1526.1 1184.61,1526.21 1185.16,1526.02 1185.71,1525.9 1186.26,1525.89 1186.81,1526.39 1187.36,1525.71 1187.91,1526.03 1188.46,1526.26 1189.01,1526.11 1189.56,1525.91 1190.11,1526.02 1190.66,1526.14 1191.21,1526.19 1191.77,1525.86 1192.32,1526.1 1192.87,1526.02 1193.42,1526.14 1193.97,1526.17 1194.52,1525.91 1195.07,1525.73 1195.62,1526 1196.17,1526.2 1196.72,1526.03 1197.27,1525.95 1197.83,1526.27 1198.38,1525.74 1198.93,1526.03 1199.48,1525.8 1200.03,1525.88 1200.58,1525.88 1201.13,1526.09 1201.68,1525.71 1202.23,1525.76 1202.78,1525.6 1203.33,1525.9 1203.88,1525.75 1204.43,1525.88 1204.99,1525.64 1205.54,1525.74 1206.09,1525.95 1206.64,1525.76 1207.19,1525.87 1207.74,1525.85 1208.29,1525.71 1208.84,1525.52 1209.39,1525.89 1209.94,1525.76 1210.49,1525.88 1211.05,1525.42 1211.6,1525.46 1212.15,1525.38 1212.7,1525.57 1213.25,1525.85 1213.8,1525.77 1214.35,1525.67 1214.9,1525.69 1215.45,1525.77 1216,1525.61 1216.55,1525.7 1217.1,1525.66 1217.65,1525.3 1218.21,1525.56 1218.76,1525.82 1219.31,1525.55 1219.86,1525.58 1220.41,1525.5 1220.96,1525.51 1221.51,1525.74 1222.06,1525.53 1222.61,1525.41 1223.16,1525.09 1223.71,1525.46 1224.26,1525.24 1224.82,1525.26 1225.37,1525.64 1225.92,1525.62 1226.47,1525.22 1227.02,1525.63 1227.57,1525.56 1228.12,1525.37 1228.67,1525.59 1229.22,1525.23 1229.77,1525.28 1230.32,1525.24 1230.88,1525.28 1231.43,1525.57 1231.98,1525.23 1232.53,1525.25 1233.08,1525.28 1233.63,1525.44 1234.18,1525.35 1234.73,1525.53 1235.28,1525.28 1235.83,1525.19 1236.38,1525.3 1236.93,1525.37 1237.48,1525.22 1238.04,1525.4 1238.59,1525.62 1239.14,1525.25 1239.69,1525.34 1240.24,1525.53 1240.79,1525.22 1241.34,1525.18 1241.89,1525.14 1242.44,1525.36 1242.99,1525.37 1243.54,1525.26 1244.1,1525.28 1244.65,1525.46 1245.2,1525.39 1245.75,1525.04 1246.3,1525.24 1246.85,1525.25 1247.4,1525.34" fill="none" stroke="#9d6cb6" stroke-width="4.0" stroke-linejoin="round" stroke-linecap="round"/>
<path d="M1263.8 1262V1551.1" stroke="#000" stroke-width="1.6" fill="none"/>
<path d="M1257.3 1551.1H1528.2" stroke="#000" stroke-width="1.6" fill="none"/>
<path d="M1257.3 1551.1H1263.8" stroke="#000" stroke-width="1.6"/>
<path d="M1257.3 1478.85H1263.8" stroke="#000" stroke-width="1.6"/>
<path d="M1257.3 1406.6H1263.8" stroke="#000" stroke-width="1.6"/>
<path d="M1257.3 1334.35H1263.8" stroke="#000" stroke-width="1.6"/>
<path d="M1257.3 1262.1H1263.8" stroke="#000" stroke-width="1.6"/>
<path d="M1263.8 1551.1V1557.6" stroke="#000" stroke-width="1.6"/>
<text x="1263.8" y="1580.9" font-size="25" text-anchor="middle">0</text>
<path d="M1329.9 1551.1V1557.6" stroke="#000" stroke-width="1.6"/>
<text x="1329.9" y="1580.9" font-size="25" text-anchor="middle">1</text>
<path d="M1396 1551.1V1557.6" stroke="#000" stroke-width="1.6"/>
<text x="1396" y="1580.9" font-size="25" text-anchor="middle">2</text>
<path d="M1462.1 1551.1V1557.6" stroke="#000" stroke-width="1.6"/>
<text x="1462.1" y="1580.9" font-size="25" text-anchor="middle">3</text>
<path d="M1528.2 1551.1V1557.6" stroke="#000" stroke-width="1.6"/>
<text x="1528.2" y="1580.9" font-size="25" text-anchor="middle">4</text>
<polyline points="1263.8,1545.43 1264.35,1545.38 1264.9,1545.4 1265.45,1545.23 1266,1545.44 1266.55,1545.36 1267.11,1545.49 1267.66,1545.3 1268.21,1545.37 1268.76,1545.3 1269.31,1545.28 1269.86,1545.49 1270.41,1545.34 1270.96,1545.44 1271.51,1545.25 1272.06,1545.39 1272.61,1545.17 1273.16,1545.31 1273.71,1545.3 1274.27,1545.42 1274.82,1545.37 1275.37,1545.32 1275.92,1545.43 1276.47,1545.35 1277.02,1545.38 1277.57,1545.4 1278.12,1545.3 1278.67,1545.26 1279.22,1545.33 1279.77,1545.23 1280.33,1545.32 1280.88,1545.4 1281.43,1545.36 1281.98,1545.21 1282.53,1545.09 1283.08,1545.23 1283.63,1545.21 1284.18,1545.35 1284.73,1545.17 1285.28,1545.18 1285.83,1545.28 1286.38,1545.13 1286.93,1545.16 1287.49,1545.38 1288.04,1545.34 1288.59,1545.23 1289.14,1545.18 1289.69,1545.02 1290.24,1545.2 1290.79,1545.13 1291.34,1545.14 1291.89,1545.04 1292.44,1545.09 1292.99,1545.07 1293.54,1545.12 1294.1,1545.24 1294.65,1545.1 1295.2,1544.85 1295.75,1544.93 1296.3,1544.84 1296.85,1544.93 1297.4,1545.08 1297.95,1545.05 1298.5,1544.93 1299.05,1545.02 1299.6,1544.89 1300.15,1544.8 1300.71,1544.79 1301.26,1544.84 1301.81,1545.11 1302.36,1544.76 1302.91,1545.06 1303.46,1545.06 1304.01,1544.87 1304.56,1544.87 1305.11,1544.79 1305.66,1544.85 1306.21,1544.92 1306.76,1544.83 1307.32,1544.94 1307.87,1544.95 1308.42,1544.84 1308.97,1544.82 1309.52,1544.76 1310.07,1544.8 1310.62,1544.61 1311.17,1544.78 1311.72,1544.74 1312.27,1544.6 1312.82,1544.95 1313.38,1544.56 1313.93,1544.56 1314.48,1544.69 1315.03,1544.41 1315.58,1544.53 1316.13,1544.43 1316.68,1544.49 1317.23,1544.57 1317.78,1544.61 1318.33,1544.69 1318.88,1544.65 1319.43,1544.68 1319.98,1544.59 1320.54,1544.45 1321.09,1544.63 1321.64,1544.43 1322.19,1544.4 1322.74,1544.64 1323.29,1544.54 1323.84,1544.46 1324.39,1544.51 1324.94,1544.51 1325.49,1544.23 1326.04,1544.37 1326.6,1544.23 1327.15,1544.37 1327.7,1544.27 1328.25,1544.5 1328.8,1544.39 1329.35,1544.22 1329.9,1544.3 1330.45,1544.15 1331,1544.28 1331.55,1544.33 1332.1,1544.29 1332.65,1544.01 1333.2,1544.19 1333.76,1544.28 1334.31,1544.25 1334.86,1544.34 1335.41,1544.04 1335.96,1544.24 1336.51,1544.09 1337.06,1544.18 1337.61,1544.19 1338.16,1544.22 1338.71,1544.05 1339.26,1544.14 1339.82,1543.96 1340.37,1543.92 1340.92,1544.15 1341.47,1544.06 1342.02,1543.86 1342.57,1543.95 1343.12,1544.04 1343.67,1544.21 1344.22,1544.14 1344.77,1544.1 1345.32,1543.78 1345.87,1543.97 1346.42,1544.03 1346.98,1544.01 1347.53,1544 1348.08,1543.91 1348.63,1544.14 1349.18,1544.09 1349.73,1543.89 1350.28,1543.78 1350.83,1544.13 1351.38,1543.81 1351.93,1544.01 1352.48,1544.08 1353.03,1543.73 1353.59,1543.87 1354.14,1543.78 1354.69,1543.87 1355.24,1543.84 1355.79,1544.02 1356.34,1543.85 1356.89,1543.77 1357.44,1543.89 1357.99,1543.71 1358.54,1543.69 1359.09,1543.99 1359.64,1543.62 1360.2,1543.65 1360.75,1543.7 1361.3,1543.56 1361.85,1543.42 1362.4,1543.79 1362.95,1543.56 1363.5,1543.58 1364.05,1543.59 1364.6,1543.5 1365.15,1543.48 1365.7,1543.62 1366.25,1543.88 1366.81,1543.67 1367.36,1543.66 1367.91,1543.38 1368.46,1543.55 1369.01,1543.4 1369.56,1543.62 1370.11,1543.49 1370.66,1543.51 1371.21,1543.49 1371.76,1543.42 1372.31,1543.3 1372.87,1543.54 1373.42,1543.29 1373.97,1543.31 1374.52,1543.4 1375.07,1543.34 1375.62,1543.45 1376.17,1543.53 1376.72,1543.43 1377.27,1543.41 1377.82,1543.38 1378.37,1543.47 1378.92,1543.14 1379.47,1543.4 1380.03,1543.23 1380.58,1543.18 1381.13,1543.32 1381.68,1543.27 1382.23,1543.37 1382.78,1543.43 1383.33,1543 1383.88,1543.27 1384.43,1543.5 1384.98,1543.36 1385.53,1543.42 1386.09,1543.25 1386.64,1543.06 1387.19,1543.08 1387.74,1543.29 1388.29,1543.31 1388.84,1543.1 1389.39,1543.15 1389.94,1543.2 1390.49,1542.95 1391.04,1543.11 1391.59,1543.34 1392.14,1543.4 1392.69,1543.11 1393.25,1543.34 1393.8,1543.05 1394.35,1543 1394.9,1542.82 1395.45,1543.2 1396,1543.03 1396.55,1543.35 1397.1,1543.1 1397.65,1543.07 1398.2,1542.82 1398.75,1543.21 1399.3,1542.98 1399.86,1542.99 1400.41,1542.74 1400.96,1543.11 1401.51,1543.1 1402.06,1542.9 1402.61,1542.98 1403.16,1543.01 1403.71,1543.07 1404.26,1542.95 1404.81,1543.14 1405.36,1542.9 1405.91,1542.84 1406.47,1542.85 1407.02,1542.59 1407.57,1542.79 1408.12,1543 1408.67,1542.9 1409.22,1542.77 1409.77,1542.9 1410.32,1542.6 1410.87,1542.8 1411.42,1542.89 1411.97,1542.9 1412.52,1542.72 1413.08,1542.91 1413.63,1543.02 1414.18,1542.74 1414.73,1542.87 1415.28,1542.58 1415.83,1542.53 1416.38,1542.83 1416.93,1542.75 1417.48,1542.76 1418.03,1542.66 1418.58,1542.68 1419.13,1542.81 1419.69,1542.91 1420.24,1542.67 1420.79,1542.49 1421.34,1542.83 1421.89,1542.74 1422.44,1542.74 1422.99,1542.67 1423.54,1542.92 1424.09,1542.64 1424.64,1542.69 1425.19,1542.39 1425.74,1542.54 1426.3,1542.52 1426.85,1542.59 1427.4,1542.63 1427.95,1542.49 1428.5,1542.77 1429.05,1542.43 1429.6,1542.5 1430.15,1542.57 1430.7,1542.38 1431.25,1542.59 1431.8,1542.59 1432.36,1542.47 1432.91,1542.73 1433.46,1542.5 1434.01,1542.52 1434.56,1542.36 1435.11,1542.27 1435.66,1542.38 1436.21,1542.41 1436.76,1542.39 1437.31,1542.53 1437.86,1542.14 1438.41,1542.28 1438.96,1542.19 1439.52,1542.56 1440.07,1542.33 1440.62,1542.32 1441.17,1542.25 1441.72,1542.48 1442.27,1542.31 1442.82,1542.38 1443.37,1542.1 1443.92,1542.48 1444.47,1542.38 1445.02,1542.39 1445.57,1542.46 1446.13,1542.28 1446.68,1542.28 1447.23,1542.38 1447.78,1542.33 1448.33,1542.24 1448.88,1542.27 1449.43,1542.2 1449.98,1542.34 1450.53,1542.35 1451.08,1542.23 1451.63,1542.45 1452.18,1542.03 1452.74,1542.18 1453.29,1542.41 1453.84,1542.14 1454.39,1541.99 1454.94,1542.35 1455.49,1542.24 1456.04,1542.02 1456.59,1542.25 1457.14,1542.02 1457.69,1541.98 1458.24,1542.11 1458.8,1542.07 1459.35,1541.98 1459.9,1542.07 1460.45,1541.98 1461,1542.1 1461.55,1542.08 1462.1,1542.17 1462.65,1542.02 1463.2,1541.9 1463.75,1541.9 1464.3,1542.02 1464.85,1542.22 1465.4,1542.13 1465.96,1541.95 1466.51,1542.13 1467.06,1541.87 1467.61,1542.12 1468.16,1541.95 1468.71,1542.08 1469.26,1542.05 1469.81,1541.94 1470.36,1542 1470.91,1541.83 1471.46,1541.94 1472.01,1542.07 1472.57,1542.43 1473.12,1542.01 1473.67,1541.93 1474.22,1541.79 1474.77,1542.03 1475.32,1541.7 1475.87,1541.79 1476.42,1541.93 1476.97,1541.73 1477.52,1542.05 1478.07,1541.99 1478.62,1541.79 1479.18,1541.78 1479.73,1541.68 1480.28,1541.66 1480.83,1541.88 1481.38,1541.89 1481.93,1541.85 1482.48,1541.84 1483.03,1541.73 1483.58,1541.83 1484.13,1541.61 1484.68,1541.78 1485.23,1541.95 1485.79,1541.92 1486.34,1541.7 1486.89,1541.71 1487.44,1541.91 1487.99,1541.95 1488.54,1541.55 1489.09,1541.67 1489.64,1541.74 1490.19,1541.85 1490.74,1541.6 1491.29,1541.77 1491.84,1541.65 1492.4,1541.96 1492.95,1541.72 1493.5,1541.65 1494.05,1541.62 1494.6,1541.78 1495.15,1541.73 1495.7,1541.51 1496.25,1541.66 1496.8,1541.46 1497.35,1541.53 1497.9,1541.45 1498.45,1541.44 1499.01,1541.51 1499.56,1541.47 1500.11,1541.65 1500.66,1541.67 1501.21,1541.54 1501.76,1541.43 1502.31,1541.65 1502.86,1541.31 1503.41,1541.31 1503.96,1541.63 1504.51,1541.61 1505.07,1541.64 1505.62,1541.49 1506.17,1541.36 1506.72,1541.44 1507.27,1541.57 1507.82,1541.4 1508.37,1541.4 1508.92,1541.31 1509.47,1541.33 1510.02,1541.57 1510.57,1541.52 1511.12,1541.31 1511.67,1541.32 1512.23,1541.37 1512.78,1541.5 1513.33,1541.29 1513.88,1541.4 1514.43,1541.16 1514.98,1541.26 1515.53,1541.46 1516.08,1541.51 1516.63,1541.25 1517.18,1541.29 1517.73,1541.48 1518.28,1541.33 1518.84,1541.3 1519.39,1541.43 1519.94,1541.38 1520.49,1541.48 1521.04,1541.44 1521.59,1541.27 1522.14,1541.32 1522.69,1541.32 1523.24,1541.16 1523.79,1541.2 1524.34,1541.43 1524.89,1541.11 1525.45,1541.42 1526,1541.33 1526.55,1541.27 1527.1,1541.35 1527.65,1541.33 1528.2,1541.41" fill="none" stroke="#808080" stroke-width="3.2" stroke-linejoin="round" stroke-linecap="round"/>
<polyline points="1263.8,1544.82 1264.35,1544.74 1264.9,1544.64 1265.45,1544.85 1266,1544.61 1266.55,1544.22 1267.11,1544.21 1267.66,1544.05 1268.21,1544.06 1268.76,1543.99 1269.31,1544.2 1269.86,1543.49 1270.41,1543.82 1270.96,1543.63 1271.51,1543.36 1272.06,1543.35 1272.61,1543.2 1273.16,1543.19 1273.71,1543.24 1274.27,1542.77 1274.82,1543.1 1275.37,1542.76 1275.92,1542.95 1276.47,1542.7 1277.02,1542.74 1277.57,1542.55 1278.12,1542.55 1278.67,1542.31 1279.22,1542.1 1279.77,1542.24 1280.33,1542.17 1280.88,1542.3 1281.43,1541.61 1281.98,1541.81 1282.53,1541.92 1283.08,1541.51 1283.63,1541.59 1284.18,1541.88 1284.73,1541.71 1285.28,1541.3 1285.83,1541.58 1286.38,1541.49 1286.93,1541.37 1287.49,1541.25 1288.04,1541.18 1288.59,1540.96 1289.14,1540.96 1289.69,1541.1 1290.24,1540.97 1290.79,1541.18 1291.34,1540.81 1291.89,1540.46 1292.44,1540.73 1292.99,1540.78 1293.54,1540.76 1294.1,1540.67 1294.65,1540.5 1295.2,1540.81 1295.75,1540.45 1296.3,1540.62 1296.85,1540.43 1297.4,1540.26 1297.95,1540.62 1298.5,1539.99 1299.05,1540.21 1299.6,1540.37 1300.15,1540.21 1300.71,1540.35 1301.26,1540.19 1301.81,1540.1 1302.36,1540.46 1302.91,1540.07 1303.46,1540.05 1304.01,1539.88 1304.56,1539.9 1305.11,1540.08 1305.66,1540.04 1306.21,1539.93 1306.76,1539.8 1307.32,1539.98 1307.87,1539.59 1308.42,1539.77 1308.97,1539.75 1309.52,1539.64 1310.07,1539.76 1310.62,1539.61 1311.17,1539.57 1311.72,1539.94 1312.27,1539.75 1312.82,1539.8 1313.38,1539.6 1313.93,1539.72 1314.48,1539.66 1315.03,1539.71 1315.58,1539.86 1316.13,1539.45 1316.68,1539.5 1317.23,1539.43 1317.78,1538.89 1318.33,1539.19 1318.88,1539.38 1319.43,1539.45 1319.98,1539.25 1320.54,1539.49 1321.09,1539.49 1321.64,1539.22 1322.19,1539.48 1322.74,1539.51 1323.29,1539.3 1323.84,1539.06 1324.39,1539.41 1324.94,1539.15 1325.49,1539.1 1326.04,1539.16 1326.6,1539.04 1327.15,1539.27 1327.7,1539.21 1328.25,1539.26 1328.8,1539.15 1329.35,1538.93 1329.9,1539.01 1330.45,1539.15 1331,1538.94 1331.55,1539.43 1332.1,1538.94 1332.65,1538.87 1333.2,1539.12 1333.76,1539.04 1334.31,1538.91 1334.86,1538.87 1335.41,1538.95 1335.96,1539 1336.51,1538.97 1337.06,1538.8 1337.61,1538.9 1338.16,1538.95 1338.71,1538.92 1339.26,1538.33 1339.82,1538.65 1340.37,1538.65 1340.92,1538.72 1341.47,1538.77 1342.02,1538.87 1342.57,1538.81 1343.12,1538.69 1343.67,1538.7 1344.22,1538.95 1344.77,1538.58 1345.32,1538.7 1345.87,1538.88 1346.42,1538.69 1346.98,1538.32 1347.53,1538.67 1348.08,1538.54 1348.63,1538.57 1349.18,1538.74 1349.73,1538.64 1350.28,1538.52 1350.83,1538.68 1351.38,1538.6 1351.93,1538.54 1352.48,1538.56 1353.03,1538.54 1353.59,1538.44 1354.14,1538.42 1354.69,1538.48 1355.24,1538.32 1355.79,1538.27 1356.34,1538.64 1356.89,1538.4 1357.44,1538.42 1357.99,1538.39 1358.54,1538.41 1359.09,1538.4 1359.64,1538.39 1360.2,1538.25 1360.75,1538.51 1361.3,1538.25 1361.85,1538.5 1362.4,1538.05 1362.95,1538.17 1363.5,1538.47 1364.05,1538.29 1364.6,1538.2 1365.15,1538.35 1365.7,1538.13 1366.25,1538.28 1366.81,1537.93 1367.36,1538.19 1367.91,1538.15 1368.46,1538.32 1369.01,1538.36 1369.56,1538.09 1370.11,1538.45 1370.66,1538.11 1371.21,1537.88 1371.76,1537.83 1372.31,1538.41 1372.87,1538.15 1373.42,1538.06 1373.97,1538.04 1374.52,1537.98 1375.07,1538.33 1375.62,1538.11 1376.17,1538.38 1376.72,1538.08 1377.27,1537.74 1377.82,1538.22 1378.37,1538.02 1378.92,1538.04 1379.47,1538.3 1380.03,1538.01 1380.58,1538.22 1381.13,1538.04 1381.68,1537.92 1382.23,1538.1 1382.78,1537.92 1383.33,1538.19 1383.88,1538.14 1384.43,1537.99 1384.98,1538.07 1385.53,1538.05 1386.09,1537.92 1386.64,1538.08 1387.19,1537.91 1387.74,1538.02 1388.29,1537.78 1388.84,1537.93 1389.39,1537.97 1389.94,1537.78 1390.49,1537.82 1391.04,1537.8 1391.59,1537.98 1392.14,1537.75 1392.69,1537.92 1393.25,1538.07 1393.8,1537.88 1394.35,1537.58 1394.9,1537.83 1395.45,1537.96 1396,1537.75 1396.55,1537.95 1397.1,1537.87 1397.65,1537.83 1398.2,1537.72 1398.75,1537.67 1399.3,1537.7 1399.86,1537.73 1400.41,1537.79 1400.96,1537.77 1401.51,1537.65 1402.06,1537.7 1402.61,1537.73 1403.16,1537.42 1403.71,1537.54 1404.26,1537.53 1404.81,1537.61 1405.36,1537.59 1405.91,1537.58 1406.47,1537.48 1407.02,1537.7 1407.57,1537.63 1408.12,1537.33 1408.67,1537.57 1409.22,1537.39 1409.77,1537.8 1410.32,1537.47 1410.87,1537.47 1411.42,1537.53 1411.97,1537.48 1412.52,1537.49 1413.08,1537.72 1413.63,1537.52 1414.18,1537.6 1414.73,1537.63 1415.28,1537.31 1415.83,1537.7 1416.38,1537.54 1416.93,1537.57 1417.48,1537.29 1418.03,1537.53 1418.58,1537.46 1419.13,1537.31 1419.69,1537.72 1420.24,1537.45 1420.79,1537.32 1421.34,1537.38 1421.89,1537.48 1422.44,1537.5 1422.99,1537.41 1423.54,1537.49 1424.09,1537.52 1424.64,1537.11 1425.19,1537.21 1425.74,1537.13 1426.3,1537.28 1426.85,1537.47 1427.4,1537.34 1427.95,1537.08 1428.5,1537.18 1429.05,1537.37 1429.6,1537.13 1430.15,1537.18 1430.7,1537.23 1431.25,1536.91 1431.8,1537.29 1432.36,1537.21 1432.91,1537.24 1433.46,1537 1434.01,1537.02 1434.56,1537.03 1435.11,1537.15 1435.66,1537.12 1436.21,1537.11 1436.76,1537.36 1437.31,1537.27 1437.86,1536.96 1438.41,1536.96 1438.96,1537.31 1439.52,1536.99 1440.07,1537.24 1440.62,1537.26 1441.17,1536.93 1441.72,1536.96 1442.27,1537.01 1442.82,1536.85 1443.37,1536.83 1443.92,1536.9 1444.47,1537.08 1445.02,1536.88 1445.57,1536.91 1446.13,1536.86 1446.68,1536.71 1447.23,1537.13 1447.78,1536.55 1448.33,1536.79 1448.88,1536.96 1449.43,1536.66 1449.98,1536.95 1450.53,1537.04 1451.08,1536.71 1451.63,1536.86 1452.18,1536.66 1452.74,1536.89 1453.29,1536.82 1453.84,1536.83 1454.39,1536.99 1454.94,1536.85 1455.49,1536.97 1456.04,1536.85 1456.59,1536.57 1457.14,1536.78 1457.69,1536.8 1458.24,1536.5 1458.8,1536.91 1459.35,1536.71 1459.9,1536.75 1460.45,1536.55 1461,1536.68 1461.55,1536.71 1462.1,1536.6 1462.65,1536.66 1463.2,1536.32 1463.75,1536.83 1464.3,1536.45 1464.85,1536.28 1465.4,1536.45 1465.96,1536.46 1466.51,1536.66 1467.06,1536.43 1467.61,1536.6 1468.16,1536.4 1468.71,1536.87 1469.26,1536.61 1469.81,1536.81 1470.36,1536.36 1470.91,1536.6 1471.46,1536.35 1472.01,1536.57 1472.57,1536.57 1473.12,1536.22 1473.67,1536.28 1474.22,1536.27 1474.77,1536.21 1475.32,1536.31 1475.87,1536.27 1476.42,1536.19 1476.97,1536.41 1477.52,1536.47 1478.07,1536.18 1478.62,1536.28 1479.18,1536.36 1479.73,1536.31 1480.28,1536.23 1480.83,1536.45 1481.38,1536.44 1481.93,1536.41 1482.48,1536.27 1483.03,1536.59 1483.58,1536.54 1484.13,1536.21 1484.68,1536.24 1485.23,1536.43 1485.79,1536.12 1486.34,1536.29 1486.89,1536.23 1487.44,1536.1 1487.99,1536.17 1488.54,1535.96 1489.09,1536.1 1489.64,1535.87 1490.19,1536.5 1490.74,1536.38 1491.29,1536.33 1491.84,1536.18 1492.4,1536.27 1492.95,1536.3 1493.5,1536.26 1494.05,1536.23 1494.6,1535.95 1495.15,1536.14 1495.7,1535.99 1496.25,1535.88 1496.8,1535.87 1497.35,1536.1 1497.9,1536.18 1498.45,1535.81 1499.01,1536.27 1499.56,1536.22 1500.11,1535.93 1500.66,1535.91 1501.21,1535.96 1501.76,1536.11 1502.31,1535.89 1502.86,1535.77 1503.41,1535.98 1503.96,1535.61 1504.51,1535.93 1505.07,1536.07 1505.62,1535.94 1506.17,1536 1506.72,1535.95 1507.27,1535.97 1507.82,1535.87 1508.37,1535.72 1508.92,1535.8 1509.47,1535.81 1510.02,1536 1510.57,1536.05 1511.12,1535.86 1511.67,1535.67 1512.23,1535.67 1512.78,1535.74 1513.33,1535.96 1513.88,1535.8 1514.43,1535.73 1514.98,1535.61 1515.53,1535.85 1516.08,1535.75 1516.63,1535.69 1517.18,1535.7 1517.73,1535.93 1518.28,1535.64 1518.84,1535.91 1519.39,1535.84 1519.94,1535.65 1520.49,1535.76 1521.04,1535.6 1521.59,1535.49 1522.14,1535.56 1522.69,1535.45 1523.24,1535.66 1523.79,1535.57 1524.34,1535.65 1524.89,1535.68 1525.45,1535.07 1526,1535.58 1526.55,1535.25 1527.1,1535.54 1527.65,1535.37 1528.2,1535.51" fill="none" stroke="#9d6cb6" stroke-width="4.0" stroke-linejoin="round" stroke-linecap="round"/>
<rect x="215" y="1446.7" width="31.1" height="13.2" fill="#d5d5d5"/>
<circle cx="230.6" cy="1453.2" r="4.3" fill="#858585"/>
<rect x="215" y="1482.3" width="31.1" height="13.5" fill="#e1cfe8"/>
<circle cx="230.6" cy="1489.0" r="4.4" fill="#9d6cb6"/>
<text x="260.0" y="1461.4" font-size="25">Non-target</text>
<text x="260.0" y="1497.2" font-size="25">Target</text>
<text transform="translate(31.4 1385.0) rotate(-90)" font-size="25" text-anchor="middle">Fluorescence (A.U.)</text>
<text x="836.0" y="1625.6" font-size="25" text-anchor="middle">Time (h)</text>
</svg>
</body></html>
